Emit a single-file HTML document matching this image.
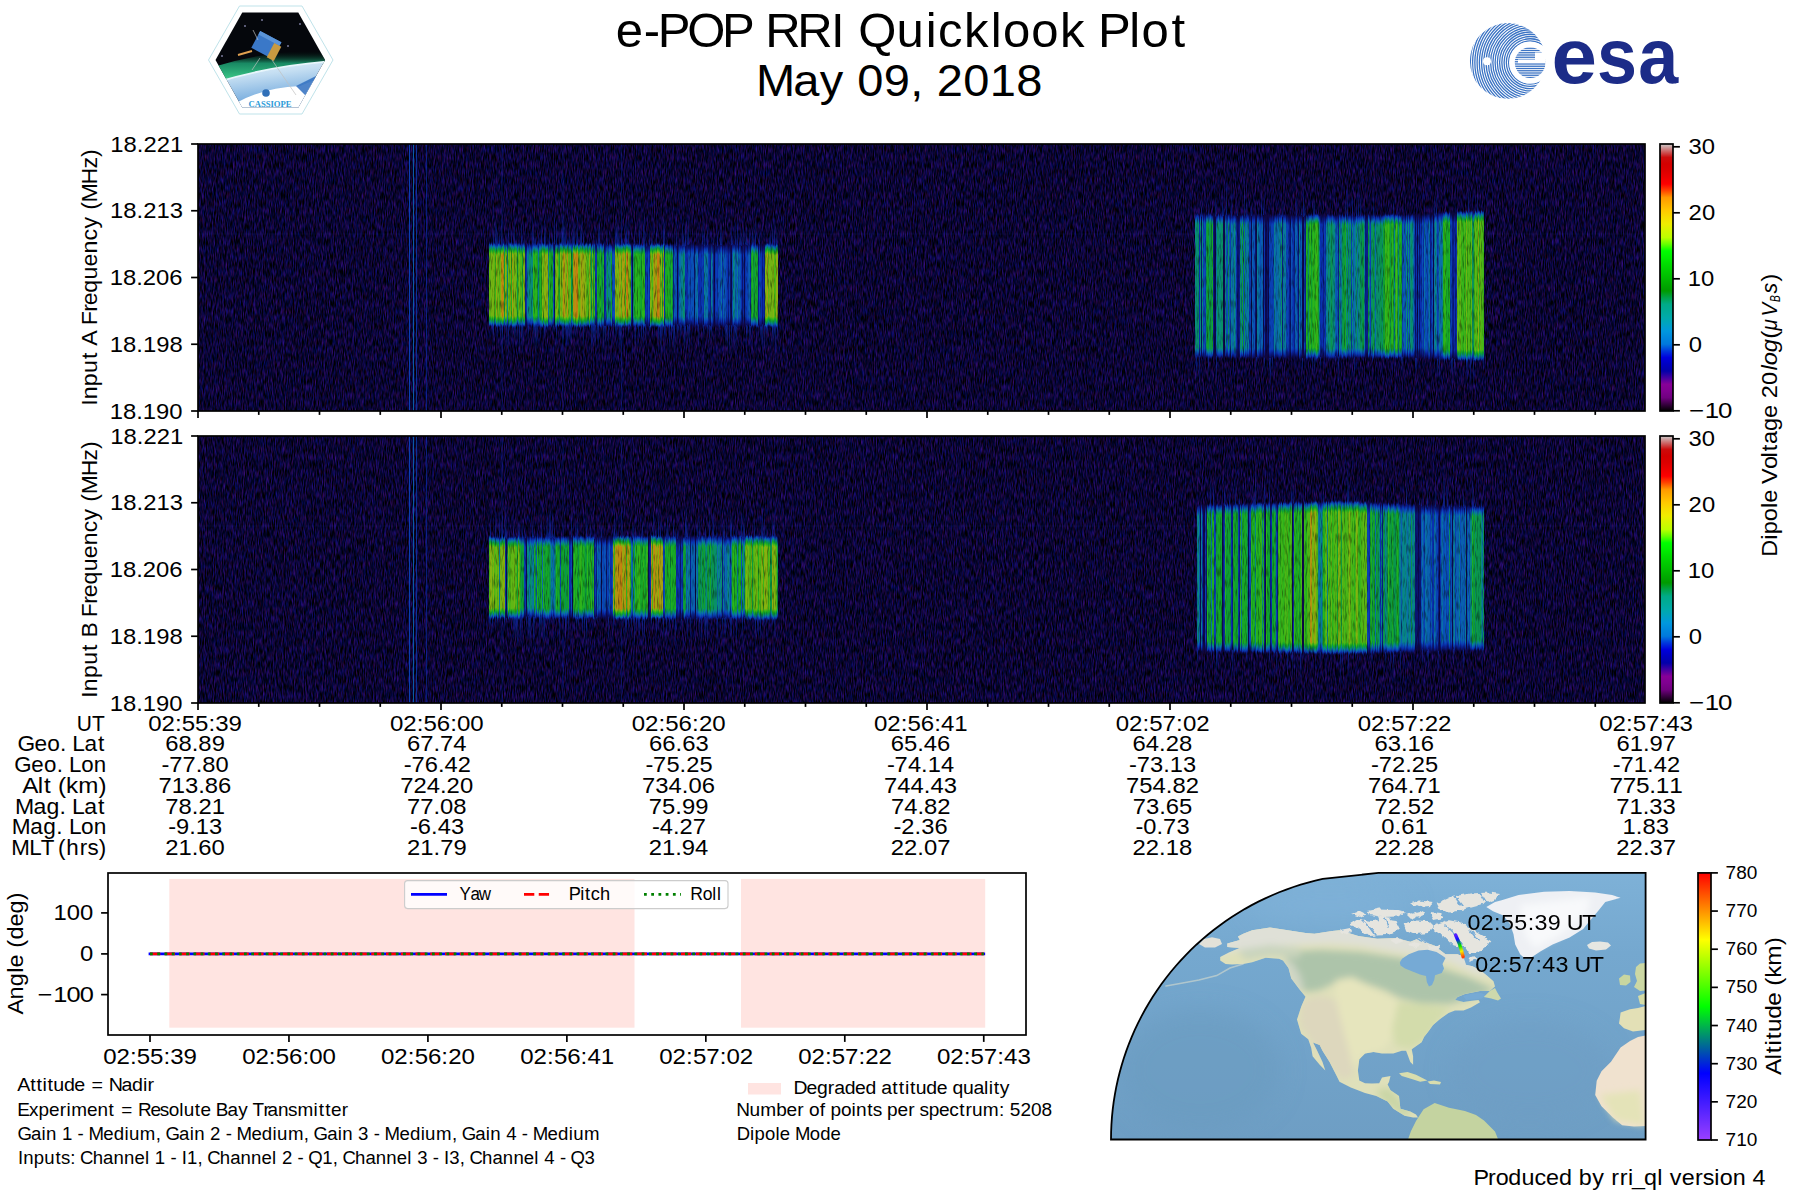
<!DOCTYPE html><html><head><meta charset="utf-8"><title>e-POP RRI Quicklook Plot</title><style>html,body{margin:0;padding:0;background:#fff;overflow:hidden;}svg{display:block;font-family:"Liberation Sans",sans-serif;}</style></head><body><svg width="1800" height="1200" viewBox="0 0 1800 1200"><defs><clipPath id="hexin"><path d="M215.5 60.0 L242.3 12.5 L298.3 12.5 L325.1 60.0 L298.3 107.5 L242.3 107.5 Z"/></clipPath>
<linearGradient id="aur" x1="0" y1="0" x2="0" y2="1"><stop offset="0" stop-color="#000" stop-opacity="0"/><stop offset="0.35" stop-color="#1a9068"/><stop offset="0.7" stop-color="#38c888"/><stop offset="1" stop-color="#b8e4ea"/></linearGradient>
<linearGradient id="earth" x1="0" y1="0" x2="0.3" y2="1"><stop offset="0" stop-color="#f0f8fd"/><stop offset="0.35" stop-color="#c4def2"/><stop offset="0.7" stop-color="#86b6e2"/><stop offset="1" stop-color="#4e86cc"/></linearGradient>
<clipPath id="esag"><circle cx="1507.8" cy="60.9" r="37.9"/></clipPath>
<clipPath id="esae"><circle cx="1530.2" cy="62.6" r="15.4"/></clipPath>
<filter id="bgn" x="0" y="0" width="100%" height="100%" color-interpolation-filters="sRGB"><feTurbulence type="fractalNoise" baseFrequency="1.1 0.13" numOctaves="2" seed="7" result="t"/><feColorMatrix in="t" type="matrix" values="0.3 0 0.28 0 -0.25  0 0 0.1 0 -0.03  0 0 0.8 0 -0.2  0 0 0 0 1"/></filter>
<filter id="spk" x="0" y="0" width="100%" height="100%" color-interpolation-filters="sRGB"><feTurbulence type="fractalNoise" baseFrequency="0.7 0.09" numOctaves="2" seed="3" result="t"/><feColorMatrix in="t" type="matrix" values="0 0 0 0 0  0 0 0 0 0  0 0 0 0 0  2.2 0 0 0 -1.05"/></filter>
<linearGradient id="tu" x1="0" y1="1" x2="0" y2="0"><stop offset="0" stop-color="#0a30b0" stop-opacity="0.6"/><stop offset="1" stop-color="#0a30b0" stop-opacity="0"/></linearGradient>
<linearGradient id="td" x1="0" y1="0" x2="0" y2="1"><stop offset="0" stop-color="#0a30b0" stop-opacity="0.6"/><stop offset="1" stop-color="#0a30b0" stop-opacity="0"/></linearGradient>
<linearGradient id="gA11" x1="0" y1="0" x2="0" y2="1"><stop offset="0.0000" stop-color="#12063e" stop-opacity="0.00"/><stop offset="0.0174" stop-color="#110640" stop-opacity="0.50"/><stop offset="0.0349" stop-color="#110742"/><stop offset="0.0523" stop-color="#100744"/><stop offset="0.0698" stop-color="#100846"/><stop offset="0.0872" stop-color="#0f0847"/><stop offset="0.1047" stop-color="#0e0849"/><stop offset="0.1221" stop-color="#0e094b"/><stop offset="0.1395" stop-color="#0d094d"/><stop offset="0.8605" stop-color="#0d094d"/><stop offset="0.8779" stop-color="#0e094b"/><stop offset="0.8953" stop-color="#0e0849"/><stop offset="0.9128" stop-color="#0f0847"/><stop offset="0.9302" stop-color="#100846"/><stop offset="0.9477" stop-color="#100744"/><stop offset="0.9651" stop-color="#110742"/><stop offset="0.9826" stop-color="#110640" stop-opacity="0.50"/><stop offset="1.0000" stop-color="#12063e" stop-opacity="0.00"/></linearGradient>
<linearGradient id="gA12" x1="0" y1="0" x2="0" y2="1"><stop offset="0.0000" stop-color="#12063e" stop-opacity="0.00"/><stop offset="0.0174" stop-color="#110742" stop-opacity="0.50"/><stop offset="0.0349" stop-color="#100846"/><stop offset="0.0523" stop-color="#0e0849"/><stop offset="0.0698" stop-color="#0d094d"/><stop offset="0.0872" stop-color="#0c0b52"/><stop offset="0.1047" stop-color="#0b0e5c"/><stop offset="0.1221" stop-color="#0b1166"/><stop offset="0.1395" stop-color="#0a1470"/><stop offset="0.8605" stop-color="#0a1470"/><stop offset="0.8779" stop-color="#0b1166"/><stop offset="0.8953" stop-color="#0b0e5c"/><stop offset="0.9128" stop-color="#0c0b52"/><stop offset="0.9302" stop-color="#0d094d"/><stop offset="0.9477" stop-color="#0e0849"/><stop offset="0.9651" stop-color="#100846"/><stop offset="0.9826" stop-color="#110742" stop-opacity="0.50"/><stop offset="1.0000" stop-color="#12063e" stop-opacity="0.00"/></linearGradient>
<linearGradient id="gA13" x1="0" y1="0" x2="0" y2="1"><stop offset="0.0000" stop-color="#12063e" stop-opacity="0.00"/><stop offset="0.0174" stop-color="#100744" stop-opacity="0.50"/><stop offset="0.0349" stop-color="#0e0849"/><stop offset="0.0523" stop-color="#0c0a4f"/><stop offset="0.0698" stop-color="#0b0e5c"/><stop offset="0.0872" stop-color="#0a126b"/><stop offset="0.1047" stop-color="#0a1677"/><stop offset="0.1221" stop-color="#0a1a81"/><stop offset="0.1395" stop-color="#0a1e8b"/><stop offset="0.8605" stop-color="#0a1e8b"/><stop offset="0.8779" stop-color="#0a1a81"/><stop offset="0.8953" stop-color="#0a1677"/><stop offset="0.9128" stop-color="#0a126b"/><stop offset="0.9302" stop-color="#0b0e5c"/><stop offset="0.9477" stop-color="#0c0a4f"/><stop offset="0.9651" stop-color="#0e0849"/><stop offset="0.9826" stop-color="#100744" stop-opacity="0.50"/><stop offset="1.0000" stop-color="#12063e" stop-opacity="0.00"/></linearGradient>
<linearGradient id="gA14" x1="0" y1="0" x2="0" y2="1"><stop offset="0.0000" stop-color="#12063e" stop-opacity="0.00"/><stop offset="0.0174" stop-color="#100846" stop-opacity="0.50"/><stop offset="0.0349" stop-color="#0d094d"/><stop offset="0.0523" stop-color="#0b0e5c"/><stop offset="0.0698" stop-color="#0a1470"/><stop offset="0.0872" stop-color="#0a197d"/><stop offset="0.1047" stop-color="#0a1e8b"/><stop offset="0.1221" stop-color="#0a269c"/><stop offset="0.1395" stop-color="#0a30b0"/><stop offset="0.8605" stop-color="#0a30b0"/><stop offset="0.8779" stop-color="#0a269c"/><stop offset="0.8953" stop-color="#0a1e8b"/><stop offset="0.9128" stop-color="#0a197d"/><stop offset="0.9302" stop-color="#0a1470"/><stop offset="0.9477" stop-color="#0b0e5c"/><stop offset="0.9651" stop-color="#0d094d"/><stop offset="0.9826" stop-color="#100846" stop-opacity="0.50"/><stop offset="1.0000" stop-color="#12063e" stop-opacity="0.00"/></linearGradient>
<linearGradient id="gA15" x1="0" y1="0" x2="0" y2="1"><stop offset="0.0000" stop-color="#12063e" stop-opacity="0.00"/><stop offset="0.0174" stop-color="#0f0847" stop-opacity="0.50"/><stop offset="0.0349" stop-color="#0c0b52"/><stop offset="0.0523" stop-color="#0a126b"/><stop offset="0.0698" stop-color="#0a197d"/><stop offset="0.0872" stop-color="#0a1f8e"/><stop offset="0.1047" stop-color="#0a2ba6"/><stop offset="0.1221" stop-color="#0a36b2"/><stop offset="0.1395" stop-color="#0a40b4"/><stop offset="0.8605" stop-color="#0a40b4"/><stop offset="0.8779" stop-color="#0a36b2"/><stop offset="0.8953" stop-color="#0a2ba6"/><stop offset="0.9128" stop-color="#0a1f8e"/><stop offset="0.9302" stop-color="#0a197d"/><stop offset="0.9477" stop-color="#0a126b"/><stop offset="0.9651" stop-color="#0c0b52"/><stop offset="0.9826" stop-color="#0f0847" stop-opacity="0.50"/><stop offset="1.0000" stop-color="#12063e" stop-opacity="0.00"/></linearGradient>
<linearGradient id="gA16" x1="0" y1="0" x2="0" y2="1"><stop offset="0.0000" stop-color="#12063e" stop-opacity="0.00"/><stop offset="0.0174" stop-color="#0e0849" stop-opacity="0.50"/><stop offset="0.0349" stop-color="#0b0e5c"/><stop offset="0.0523" stop-color="#0a1677"/><stop offset="0.0698" stop-color="#0a1e8b"/><stop offset="0.0872" stop-color="#0a2ba6"/><stop offset="0.1047" stop-color="#0a38b2"/><stop offset="0.1221" stop-color="#0a44b5"/><stop offset="0.1395" stop-color="#0a50b8"/><stop offset="0.8605" stop-color="#0a50b8"/><stop offset="0.8779" stop-color="#0a44b5"/><stop offset="0.8953" stop-color="#0a38b2"/><stop offset="0.9128" stop-color="#0a2ba6"/><stop offset="0.9302" stop-color="#0a1e8b"/><stop offset="0.9477" stop-color="#0a1677"/><stop offset="0.9651" stop-color="#0b0e5c"/><stop offset="0.9826" stop-color="#0e0849" stop-opacity="0.50"/><stop offset="1.0000" stop-color="#12063e" stop-opacity="0.00"/></linearGradient>
<linearGradient id="gA17" x1="0" y1="0" x2="0" y2="1"><stop offset="0.0000" stop-color="#12063e" stop-opacity="0.00"/><stop offset="0.0174" stop-color="#0e094b" stop-opacity="0.50"/><stop offset="0.0349" stop-color="#0b1166"/><stop offset="0.0523" stop-color="#0a1a81"/><stop offset="0.0698" stop-color="#0a269c"/><stop offset="0.0872" stop-color="#0a36b2"/><stop offset="0.1047" stop-color="#0a44b5"/><stop offset="0.1221" stop-color="#0a52b7"/><stop offset="0.1395" stop-color="#0a60b0"/><stop offset="0.8605" stop-color="#0a60b0"/><stop offset="0.8779" stop-color="#0a52b7"/><stop offset="0.8953" stop-color="#0a44b5"/><stop offset="0.9128" stop-color="#0a36b2"/><stop offset="0.9302" stop-color="#0a269c"/><stop offset="0.9477" stop-color="#0a1a81"/><stop offset="0.9651" stop-color="#0b1166"/><stop offset="0.9826" stop-color="#0e094b" stop-opacity="0.50"/><stop offset="1.0000" stop-color="#12063e" stop-opacity="0.00"/></linearGradient>
<linearGradient id="gA18" x1="0" y1="0" x2="0" y2="1"><stop offset="0.0000" stop-color="#12063e" stop-opacity="0.00"/><stop offset="0.0174" stop-color="#0d094d" stop-opacity="0.50"/><stop offset="0.0349" stop-color="#0a1470"/><stop offset="0.0523" stop-color="#0a1e8b"/><stop offset="0.0698" stop-color="#0a30b0"/><stop offset="0.0872" stop-color="#0a40b4"/><stop offset="0.1047" stop-color="#0a50b8"/><stop offset="0.1221" stop-color="#0a60b0"/><stop offset="0.1395" stop-color="#0a70a8"/><stop offset="0.8605" stop-color="#0a70a8"/><stop offset="0.8779" stop-color="#0a60b0"/><stop offset="0.8953" stop-color="#0a50b8"/><stop offset="0.9128" stop-color="#0a40b4"/><stop offset="0.9302" stop-color="#0a30b0"/><stop offset="0.9477" stop-color="#0a1e8b"/><stop offset="0.9651" stop-color="#0a1470"/><stop offset="0.9826" stop-color="#0d094d" stop-opacity="0.50"/><stop offset="1.0000" stop-color="#12063e" stop-opacity="0.00"/></linearGradient>
<linearGradient id="gA19" x1="0" y1="0" x2="0" y2="1"><stop offset="0.0000" stop-color="#12063e" stop-opacity="0.00"/><stop offset="0.0174" stop-color="#0c0a4f" stop-opacity="0.50"/><stop offset="0.0349" stop-color="#0a1677"/><stop offset="0.0523" stop-color="#0a2497"/><stop offset="0.0698" stop-color="#0a38b2"/><stop offset="0.0872" stop-color="#0a4ab6"/><stop offset="0.1047" stop-color="#0a5cb2"/><stop offset="0.1221" stop-color="#0a6ea9"/><stop offset="0.1395" stop-color="#097d94"/><stop offset="0.8605" stop-color="#097d94"/><stop offset="0.8779" stop-color="#0a6ea9"/><stop offset="0.8953" stop-color="#0a5cb2"/><stop offset="0.9128" stop-color="#0a4ab6"/><stop offset="0.9302" stop-color="#0a38b2"/><stop offset="0.9477" stop-color="#0a2497"/><stop offset="0.9651" stop-color="#0a1677"/><stop offset="0.9826" stop-color="#0c0a4f" stop-opacity="0.50"/><stop offset="1.0000" stop-color="#12063e" stop-opacity="0.00"/></linearGradient>
<linearGradient id="gA110" x1="0" y1="0" x2="0" y2="1"><stop offset="0.0000" stop-color="#12063e" stop-opacity="0.00"/><stop offset="0.0174" stop-color="#0c0b52" stop-opacity="0.50"/><stop offset="0.0349" stop-color="#0a197d"/><stop offset="0.0523" stop-color="#0a2ba6"/><stop offset="0.0698" stop-color="#0a40b4"/><stop offset="0.0872" stop-color="#0a54b6"/><stop offset="0.1047" stop-color="#0a68ac"/><stop offset="0.1221" stop-color="#097a99"/><stop offset="0.1395" stop-color="#088a80"/><stop offset="0.8605" stop-color="#088a80"/><stop offset="0.8779" stop-color="#097a99"/><stop offset="0.8953" stop-color="#0a68ac"/><stop offset="0.9128" stop-color="#0a54b6"/><stop offset="0.9302" stop-color="#0a40b4"/><stop offset="0.9477" stop-color="#0a2ba6"/><stop offset="0.9651" stop-color="#0a197d"/><stop offset="0.9826" stop-color="#0c0b52" stop-opacity="0.50"/><stop offset="1.0000" stop-color="#12063e" stop-opacity="0.00"/></linearGradient>
<linearGradient id="gA111" x1="0" y1="0" x2="0" y2="1"><stop offset="0.0000" stop-color="#12063e" stop-opacity="0.00"/><stop offset="0.0174" stop-color="#0c0c57" stop-opacity="0.50"/><stop offset="0.0349" stop-color="#0a1c84"/><stop offset="0.0523" stop-color="#0a32b0"/><stop offset="0.0698" stop-color="#0a48b6"/><stop offset="0.0872" stop-color="#0a5eb1"/><stop offset="0.1047" stop-color="#0a73a3"/><stop offset="0.1221" stop-color="#088588"/><stop offset="0.1395" stop-color="#098f68"/><stop offset="0.8605" stop-color="#098f68"/><stop offset="0.8779" stop-color="#088588"/><stop offset="0.8953" stop-color="#0a73a3"/><stop offset="0.9128" stop-color="#0a5eb1"/><stop offset="0.9302" stop-color="#0a48b6"/><stop offset="0.9477" stop-color="#0a32b0"/><stop offset="0.9651" stop-color="#0a1c84"/><stop offset="0.9826" stop-color="#0c0c57" stop-opacity="0.50"/><stop offset="1.0000" stop-color="#12063e" stop-opacity="0.00"/></linearGradient>
<linearGradient id="gA112" x1="0" y1="0" x2="0" y2="1"><stop offset="0.0000" stop-color="#12063e" stop-opacity="0.00"/><stop offset="0.0174" stop-color="#0b0e5c" stop-opacity="0.50"/><stop offset="0.0349" stop-color="#0a1e8b"/><stop offset="0.0523" stop-color="#0a38b2"/><stop offset="0.0698" stop-color="#0a50b8"/><stop offset="0.0872" stop-color="#0a68ac"/><stop offset="0.1047" stop-color="#097d94"/><stop offset="0.1221" stop-color="#088c74"/><stop offset="0.1395" stop-color="#0a9450"/><stop offset="0.8605" stop-color="#0a9450"/><stop offset="0.8779" stop-color="#088c74"/><stop offset="0.8953" stop-color="#097d94"/><stop offset="0.9128" stop-color="#0a68ac"/><stop offset="0.9302" stop-color="#0a50b8"/><stop offset="0.9477" stop-color="#0a38b2"/><stop offset="0.9651" stop-color="#0a1e8b"/><stop offset="0.9826" stop-color="#0b0e5c" stop-opacity="0.50"/><stop offset="1.0000" stop-color="#12063e" stop-opacity="0.00"/></linearGradient>
<linearGradient id="gA113" x1="0" y1="0" x2="0" y2="1"><stop offset="0.0000" stop-color="#12063e" stop-opacity="0.00"/><stop offset="0.0174" stop-color="#0b0f61" stop-opacity="0.50"/><stop offset="0.0349" stop-color="#0a2192"/><stop offset="0.0523" stop-color="#0a3eb4"/><stop offset="0.0698" stop-color="#0a58b4"/><stop offset="0.0872" stop-color="#0a72a6"/><stop offset="0.1047" stop-color="#088785"/><stop offset="0.1221" stop-color="#09915f"/><stop offset="0.1395" stop-color="#0d9a40"/><stop offset="0.8605" stop-color="#0d9a40"/><stop offset="0.8779" stop-color="#09915f"/><stop offset="0.8953" stop-color="#088785"/><stop offset="0.9128" stop-color="#0a72a6"/><stop offset="0.9302" stop-color="#0a58b4"/><stop offset="0.9477" stop-color="#0a3eb4"/><stop offset="0.9651" stop-color="#0a2192"/><stop offset="0.9826" stop-color="#0b0f61" stop-opacity="0.50"/><stop offset="1.0000" stop-color="#12063e" stop-opacity="0.00"/></linearGradient>
<linearGradient id="gA114" x1="0" y1="0" x2="0" y2="1"><stop offset="0.0000" stop-color="#12063e" stop-opacity="0.00"/><stop offset="0.0174" stop-color="#0b1166" stop-opacity="0.50"/><stop offset="0.0349" stop-color="#0a269c"/><stop offset="0.0523" stop-color="#0a44b5"/><stop offset="0.0698" stop-color="#0a60b0"/><stop offset="0.0872" stop-color="#097a99"/><stop offset="0.1047" stop-color="#088c74"/><stop offset="0.1221" stop-color="#0b964c"/><stop offset="0.1395" stop-color="#10a030"/><stop offset="0.8605" stop-color="#10a030"/><stop offset="0.8779" stop-color="#0b964c"/><stop offset="0.8953" stop-color="#088c74"/><stop offset="0.9128" stop-color="#097a99"/><stop offset="0.9302" stop-color="#0a60b0"/><stop offset="0.9477" stop-color="#0a44b5"/><stop offset="0.9651" stop-color="#0a269c"/><stop offset="0.9826" stop-color="#0b1166" stop-opacity="0.50"/><stop offset="1.0000" stop-color="#12063e" stop-opacity="0.00"/></linearGradient>
<linearGradient id="gA115" x1="0" y1="0" x2="0" y2="1"><stop offset="0.0000" stop-color="#12063e" stop-opacity="0.00"/><stop offset="0.0174" stop-color="#0a126b" stop-opacity="0.50"/><stop offset="0.0349" stop-color="#0a2ba6"/><stop offset="0.0523" stop-color="#0a4ab6"/><stop offset="0.0698" stop-color="#0a68ac"/><stop offset="0.0872" stop-color="#09828c"/><stop offset="0.1047" stop-color="#099062"/><stop offset="0.1221" stop-color="#0d9b3e"/><stop offset="0.1395" stop-color="#18a828"/><stop offset="0.8605" stop-color="#18a828"/><stop offset="0.8779" stop-color="#0d9b3e"/><stop offset="0.8953" stop-color="#099062"/><stop offset="0.9128" stop-color="#09828c"/><stop offset="0.9302" stop-color="#0a68ac"/><stop offset="0.9477" stop-color="#0a4ab6"/><stop offset="0.9651" stop-color="#0a2ba6"/><stop offset="0.9826" stop-color="#0a126b" stop-opacity="0.50"/><stop offset="1.0000" stop-color="#12063e" stop-opacity="0.00"/></linearGradient>
<linearGradient id="gA116" x1="0" y1="0" x2="0" y2="1"><stop offset="0.0000" stop-color="#12063e" stop-opacity="0.00"/><stop offset="0.0174" stop-color="#0a1470" stop-opacity="0.50"/><stop offset="0.0349" stop-color="#0a30b0"/><stop offset="0.0523" stop-color="#0a50b8"/><stop offset="0.0698" stop-color="#0a70a8"/><stop offset="0.0872" stop-color="#088a80"/><stop offset="0.1047" stop-color="#0a9450"/><stop offset="0.1221" stop-color="#10a030"/><stop offset="0.1395" stop-color="#20b020"/><stop offset="0.8605" stop-color="#20b020"/><stop offset="0.8779" stop-color="#10a030"/><stop offset="0.8953" stop-color="#0a9450"/><stop offset="0.9128" stop-color="#088a80"/><stop offset="0.9302" stop-color="#0a70a8"/><stop offset="0.9477" stop-color="#0a50b8"/><stop offset="0.9651" stop-color="#0a30b0"/><stop offset="0.9826" stop-color="#0a1470" stop-opacity="0.50"/><stop offset="1.0000" stop-color="#12063e" stop-opacity="0.00"/></linearGradient>
<linearGradient id="gA117" x1="0" y1="0" x2="0" y2="1"><stop offset="0.0000" stop-color="#12063e" stop-opacity="0.00"/><stop offset="0.0174" stop-color="#0a1573" stop-opacity="0.50"/><stop offset="0.0349" stop-color="#0a34b1"/><stop offset="0.0523" stop-color="#0a56b5"/><stop offset="0.0698" stop-color="#0a769e"/><stop offset="0.0872" stop-color="#098d71"/><stop offset="0.1047" stop-color="#0c9844"/><stop offset="0.1221" stop-color="#17a729"/><stop offset="0.1395" stop-color="#2eb31c"/><stop offset="0.8605" stop-color="#2eb31c"/><stop offset="0.8779" stop-color="#17a729"/><stop offset="0.8953" stop-color="#0c9844"/><stop offset="0.9128" stop-color="#098d71"/><stop offset="0.9302" stop-color="#0a769e"/><stop offset="0.9477" stop-color="#0a56b5"/><stop offset="0.9651" stop-color="#0a34b1"/><stop offset="0.9826" stop-color="#0a1573" stop-opacity="0.50"/><stop offset="1.0000" stop-color="#12063e" stop-opacity="0.00"/></linearGradient>
<linearGradient id="gA118" x1="0" y1="0" x2="0" y2="1"><stop offset="0.0000" stop-color="#12063e" stop-opacity="0.00"/><stop offset="0.0174" stop-color="#0a1677" stop-opacity="0.50"/><stop offset="0.0349" stop-color="#0a38b2"/><stop offset="0.0523" stop-color="#0a5cb2"/><stop offset="0.0698" stop-color="#097d94"/><stop offset="0.0872" stop-color="#099062"/><stop offset="0.1047" stop-color="#0e9d38"/><stop offset="0.1221" stop-color="#1eae22"/><stop offset="0.1395" stop-color="#3cb618"/><stop offset="0.8605" stop-color="#3cb618"/><stop offset="0.8779" stop-color="#1eae22"/><stop offset="0.8953" stop-color="#0e9d38"/><stop offset="0.9128" stop-color="#099062"/><stop offset="0.9302" stop-color="#097d94"/><stop offset="0.9477" stop-color="#0a5cb2"/><stop offset="0.9651" stop-color="#0a38b2"/><stop offset="0.9826" stop-color="#0a1677" stop-opacity="0.50"/><stop offset="1.0000" stop-color="#12063e" stop-opacity="0.00"/></linearGradient>
<linearGradient id="gA119" x1="0" y1="0" x2="0" y2="1"><stop offset="0.0000" stop-color="#12063e" stop-opacity="0.00"/><stop offset="0.0174" stop-color="#0a187a" stop-opacity="0.50"/><stop offset="0.0349" stop-color="#0a3cb3"/><stop offset="0.0523" stop-color="#0a62af"/><stop offset="0.0698" stop-color="#08848a"/><stop offset="0.0872" stop-color="#0a9353"/><stop offset="0.1047" stop-color="#12a22e"/><stop offset="0.1221" stop-color="#29b21e"/><stop offset="0.1395" stop-color="#4eb616"/><stop offset="0.8605" stop-color="#4eb616"/><stop offset="0.8779" stop-color="#29b21e"/><stop offset="0.8953" stop-color="#12a22e"/><stop offset="0.9128" stop-color="#0a9353"/><stop offset="0.9302" stop-color="#08848a"/><stop offset="0.9477" stop-color="#0a62af"/><stop offset="0.9651" stop-color="#0a3cb3"/><stop offset="0.9826" stop-color="#0a187a" stop-opacity="0.50"/><stop offset="1.0000" stop-color="#12063e" stop-opacity="0.00"/></linearGradient>
<linearGradient id="gA120" x1="0" y1="0" x2="0" y2="1"><stop offset="0.0000" stop-color="#12063e" stop-opacity="0.00"/><stop offset="0.0174" stop-color="#0a197d" stop-opacity="0.50"/><stop offset="0.0349" stop-color="#0a40b4"/><stop offset="0.0523" stop-color="#0a68ac"/><stop offset="0.0698" stop-color="#088a80"/><stop offset="0.0872" stop-color="#0c9748"/><stop offset="0.1047" stop-color="#18a828"/><stop offset="0.1221" stop-color="#35b41a"/><stop offset="0.1395" stop-color="#60b614"/><stop offset="0.8605" stop-color="#60b614"/><stop offset="0.8779" stop-color="#35b41a"/><stop offset="0.8953" stop-color="#18a828"/><stop offset="0.9128" stop-color="#0c9748"/><stop offset="0.9302" stop-color="#088a80"/><stop offset="0.9477" stop-color="#0a68ac"/><stop offset="0.9651" stop-color="#0a40b4"/><stop offset="0.9826" stop-color="#0a197d" stop-opacity="0.50"/><stop offset="1.0000" stop-color="#12063e" stop-opacity="0.00"/></linearGradient>
<linearGradient id="gA121" x1="0" y1="0" x2="0" y2="1"><stop offset="0.0000" stop-color="#12063e" stop-opacity="0.00"/><stop offset="0.0174" stop-color="#0a1a81" stop-opacity="0.50"/><stop offset="0.0349" stop-color="#0a44b5"/><stop offset="0.0523" stop-color="#0a6ea9"/><stop offset="0.0698" stop-color="#088c74"/><stop offset="0.0872" stop-color="#0d9b3e"/><stop offset="0.1047" stop-color="#1eae22"/><stop offset="0.1221" stop-color="#43b617"/><stop offset="0.1395" stop-color="#73b412"/><stop offset="0.8605" stop-color="#73b412"/><stop offset="0.8779" stop-color="#43b617"/><stop offset="0.8953" stop-color="#1eae22"/><stop offset="0.9128" stop-color="#0d9b3e"/><stop offset="0.9302" stop-color="#088c74"/><stop offset="0.9477" stop-color="#0a6ea9"/><stop offset="0.9651" stop-color="#0a44b5"/><stop offset="0.9826" stop-color="#0a1a81" stop-opacity="0.50"/><stop offset="1.0000" stop-color="#12063e" stop-opacity="0.00"/></linearGradient>
<linearGradient id="gA122" x1="0" y1="0" x2="0" y2="1"><stop offset="0.0000" stop-color="#12063e" stop-opacity="0.00"/><stop offset="0.0174" stop-color="#0a1c84" stop-opacity="0.50"/><stop offset="0.0349" stop-color="#0a48b6"/><stop offset="0.0523" stop-color="#0a73a3"/><stop offset="0.0698" stop-color="#098f68"/><stop offset="0.0872" stop-color="#0f9e34"/><stop offset="0.1047" stop-color="#27b21e"/><stop offset="0.1221" stop-color="#52b616"/><stop offset="0.1395" stop-color="#86b210"/><stop offset="0.8605" stop-color="#86b210"/><stop offset="0.8779" stop-color="#52b616"/><stop offset="0.8953" stop-color="#27b21e"/><stop offset="0.9128" stop-color="#0f9e34"/><stop offset="0.9302" stop-color="#098f68"/><stop offset="0.9477" stop-color="#0a73a3"/><stop offset="0.9651" stop-color="#0a48b6"/><stop offset="0.9826" stop-color="#0a1c84" stop-opacity="0.50"/><stop offset="1.0000" stop-color="#12063e" stop-opacity="0.00"/></linearGradient>
<linearGradient id="gA123" x1="0" y1="0" x2="0" y2="1"><stop offset="0.0000" stop-color="#12063e" stop-opacity="0.00"/><stop offset="0.0174" stop-color="#0a1d87" stop-opacity="0.50"/><stop offset="0.0349" stop-color="#0a4cb7"/><stop offset="0.0523" stop-color="#09789c"/><stop offset="0.0698" stop-color="#0a925c"/><stop offset="0.0872" stop-color="#13a32d"/><stop offset="0.1047" stop-color="#32b41b"/><stop offset="0.1221" stop-color="#62b614"/><stop offset="0.1395" stop-color="#96a910"/><stop offset="0.8605" stop-color="#96a910"/><stop offset="0.8779" stop-color="#62b614"/><stop offset="0.8953" stop-color="#32b41b"/><stop offset="0.9128" stop-color="#13a32d"/><stop offset="0.9302" stop-color="#0a925c"/><stop offset="0.9477" stop-color="#09789c"/><stop offset="0.9651" stop-color="#0a4cb7"/><stop offset="0.9826" stop-color="#0a1d87" stop-opacity="0.50"/><stop offset="1.0000" stop-color="#12063e" stop-opacity="0.00"/></linearGradient>
<linearGradient id="gA124" x1="0" y1="0" x2="0" y2="1"><stop offset="0.0000" stop-color="#12063e" stop-opacity="0.00"/><stop offset="0.0174" stop-color="#0a1e8b" stop-opacity="0.50"/><stop offset="0.0349" stop-color="#0a50b8"/><stop offset="0.0523" stop-color="#097d94"/><stop offset="0.0698" stop-color="#0a9450"/><stop offset="0.0872" stop-color="#18a828"/><stop offset="0.1047" stop-color="#3cb618"/><stop offset="0.1221" stop-color="#73b412"/><stop offset="0.1395" stop-color="#a6a010"/><stop offset="0.8605" stop-color="#a6a010"/><stop offset="0.8779" stop-color="#73b412"/><stop offset="0.8953" stop-color="#3cb618"/><stop offset="0.9128" stop-color="#18a828"/><stop offset="0.9302" stop-color="#0a9450"/><stop offset="0.9477" stop-color="#097d94"/><stop offset="0.9651" stop-color="#0a50b8"/><stop offset="0.9826" stop-color="#0a1e8b" stop-opacity="0.50"/><stop offset="1.0000" stop-color="#12063e" stop-opacity="0.00"/></linearGradient>
<linearGradient id="gA125" x1="0" y1="0" x2="0" y2="1"><stop offset="0.0000" stop-color="#12063e" stop-opacity="0.00"/><stop offset="0.0174" stop-color="#0a1f8e" stop-opacity="0.50"/><stop offset="0.0349" stop-color="#0a54b6"/><stop offset="0.0523" stop-color="#09828c"/><stop offset="0.0698" stop-color="#0c9748"/><stop offset="0.0872" stop-color="#1dad23"/><stop offset="0.1047" stop-color="#4ab616"/><stop offset="0.1221" stop-color="#84b210"/><stop offset="0.1395" stop-color="#b29410"/><stop offset="0.8605" stop-color="#b29410"/><stop offset="0.8779" stop-color="#84b210"/><stop offset="0.8953" stop-color="#4ab616"/><stop offset="0.9128" stop-color="#1dad23"/><stop offset="0.9302" stop-color="#0c9748"/><stop offset="0.9477" stop-color="#09828c"/><stop offset="0.9651" stop-color="#0a54b6"/><stop offset="0.9826" stop-color="#0a1f8e" stop-opacity="0.50"/><stop offset="1.0000" stop-color="#12063e" stop-opacity="0.00"/></linearGradient>
<linearGradient id="gA126" x1="0" y1="0" x2="0" y2="1"><stop offset="0.0000" stop-color="#12063e" stop-opacity="0.00"/><stop offset="0.0174" stop-color="#0a2192" stop-opacity="0.50"/><stop offset="0.0349" stop-color="#0a58b4"/><stop offset="0.0523" stop-color="#088785"/><stop offset="0.0698" stop-color="#0d9a40"/><stop offset="0.0872" stop-color="#24b11f"/><stop offset="0.1047" stop-color="#57b615"/><stop offset="0.1221" stop-color="#92ab10"/><stop offset="0.1395" stop-color="#be8810"/><stop offset="0.8605" stop-color="#be8810"/><stop offset="0.8779" stop-color="#92ab10"/><stop offset="0.8953" stop-color="#57b615"/><stop offset="0.9128" stop-color="#24b11f"/><stop offset="0.9302" stop-color="#0d9a40"/><stop offset="0.9477" stop-color="#088785"/><stop offset="0.9651" stop-color="#0a58b4"/><stop offset="0.9826" stop-color="#0a2192" stop-opacity="0.50"/><stop offset="1.0000" stop-color="#12063e" stop-opacity="0.00"/></linearGradient>
<linearGradient id="gA127" x1="0" y1="0" x2="0" y2="1"><stop offset="0.0000" stop-color="#12063e" stop-opacity="0.00"/><stop offset="0.0174" stop-color="#0a2497" stop-opacity="0.50"/><stop offset="0.0349" stop-color="#0a5cb2"/><stop offset="0.0523" stop-color="#088b7d"/><stop offset="0.0698" stop-color="#0e9d38"/><stop offset="0.0872" stop-color="#2cb31c"/><stop offset="0.1047" stop-color="#65b614"/><stop offset="0.1221" stop-color="#a0a310"/><stop offset="0.1395" stop-color="#c77c10"/><stop offset="0.8605" stop-color="#c77c10"/><stop offset="0.8779" stop-color="#a0a310"/><stop offset="0.8953" stop-color="#65b614"/><stop offset="0.9128" stop-color="#2cb31c"/><stop offset="0.9302" stop-color="#0e9d38"/><stop offset="0.9477" stop-color="#088b7d"/><stop offset="0.9651" stop-color="#0a5cb2"/><stop offset="0.9826" stop-color="#0a2497" stop-opacity="0.50"/><stop offset="1.0000" stop-color="#12063e" stop-opacity="0.00"/></linearGradient>
<linearGradient id="gA21" x1="0" y1="0" x2="0" y2="1"><stop offset="0.0000" stop-color="#12063e" stop-opacity="0.00"/><stop offset="0.0100" stop-color="#110640" stop-opacity="0.50"/><stop offset="0.0200" stop-color="#110742"/><stop offset="0.0300" stop-color="#100744"/><stop offset="0.0400" stop-color="#100846"/><stop offset="0.0500" stop-color="#0f0847"/><stop offset="0.0600" stop-color="#0e0849"/><stop offset="0.0700" stop-color="#0e094b"/><stop offset="0.0800" stop-color="#0d094d"/><stop offset="0.9200" stop-color="#0d094d"/><stop offset="0.9300" stop-color="#0e094b"/><stop offset="0.9400" stop-color="#0e0849"/><stop offset="0.9500" stop-color="#0f0847"/><stop offset="0.9600" stop-color="#100846"/><stop offset="0.9700" stop-color="#100744"/><stop offset="0.9800" stop-color="#110742"/><stop offset="0.9900" stop-color="#110640" stop-opacity="0.50"/><stop offset="1.0000" stop-color="#12063e" stop-opacity="0.00"/></linearGradient>
<linearGradient id="gA22" x1="0" y1="0" x2="0" y2="1"><stop offset="0.0000" stop-color="#12063e" stop-opacity="0.00"/><stop offset="0.0100" stop-color="#110742" stop-opacity="0.50"/><stop offset="0.0200" stop-color="#100846"/><stop offset="0.0300" stop-color="#0e0849"/><stop offset="0.0400" stop-color="#0d094d"/><stop offset="0.0500" stop-color="#0c0b52"/><stop offset="0.0600" stop-color="#0b0e5c"/><stop offset="0.0700" stop-color="#0b1166"/><stop offset="0.0800" stop-color="#0a1470"/><stop offset="0.9200" stop-color="#0a1470"/><stop offset="0.9300" stop-color="#0b1166"/><stop offset="0.9400" stop-color="#0b0e5c"/><stop offset="0.9500" stop-color="#0c0b52"/><stop offset="0.9600" stop-color="#0d094d"/><stop offset="0.9700" stop-color="#0e0849"/><stop offset="0.9800" stop-color="#100846"/><stop offset="0.9900" stop-color="#110742" stop-opacity="0.50"/><stop offset="1.0000" stop-color="#12063e" stop-opacity="0.00"/></linearGradient>
<linearGradient id="gA23" x1="0" y1="0" x2="0" y2="1"><stop offset="0.0000" stop-color="#12063e" stop-opacity="0.00"/><stop offset="0.0100" stop-color="#100744" stop-opacity="0.50"/><stop offset="0.0200" stop-color="#0e0849"/><stop offset="0.0300" stop-color="#0c0a4f"/><stop offset="0.0400" stop-color="#0b0e5c"/><stop offset="0.0500" stop-color="#0a126b"/><stop offset="0.0600" stop-color="#0a1677"/><stop offset="0.0700" stop-color="#0a1a81"/><stop offset="0.0800" stop-color="#0a1e8b"/><stop offset="0.9200" stop-color="#0a1e8b"/><stop offset="0.9300" stop-color="#0a1a81"/><stop offset="0.9400" stop-color="#0a1677"/><stop offset="0.9500" stop-color="#0a126b"/><stop offset="0.9600" stop-color="#0b0e5c"/><stop offset="0.9700" stop-color="#0c0a4f"/><stop offset="0.9800" stop-color="#0e0849"/><stop offset="0.9900" stop-color="#100744" stop-opacity="0.50"/><stop offset="1.0000" stop-color="#12063e" stop-opacity="0.00"/></linearGradient>
<linearGradient id="gA24" x1="0" y1="0" x2="0" y2="1"><stop offset="0.0000" stop-color="#12063e" stop-opacity="0.00"/><stop offset="0.0100" stop-color="#100846" stop-opacity="0.50"/><stop offset="0.0200" stop-color="#0d094d"/><stop offset="0.0300" stop-color="#0b0e5c"/><stop offset="0.0400" stop-color="#0a1470"/><stop offset="0.0500" stop-color="#0a197d"/><stop offset="0.0600" stop-color="#0a1e8b"/><stop offset="0.0700" stop-color="#0a269c"/><stop offset="0.0800" stop-color="#0a30b0"/><stop offset="0.9200" stop-color="#0a30b0"/><stop offset="0.9300" stop-color="#0a269c"/><stop offset="0.9400" stop-color="#0a1e8b"/><stop offset="0.9500" stop-color="#0a197d"/><stop offset="0.9600" stop-color="#0a1470"/><stop offset="0.9700" stop-color="#0b0e5c"/><stop offset="0.9800" stop-color="#0d094d"/><stop offset="0.9900" stop-color="#100846" stop-opacity="0.50"/><stop offset="1.0000" stop-color="#12063e" stop-opacity="0.00"/></linearGradient>
<linearGradient id="gA25" x1="0" y1="0" x2="0" y2="1"><stop offset="0.0000" stop-color="#12063e" stop-opacity="0.00"/><stop offset="0.0100" stop-color="#0f0847" stop-opacity="0.50"/><stop offset="0.0200" stop-color="#0c0b52"/><stop offset="0.0300" stop-color="#0a126b"/><stop offset="0.0400" stop-color="#0a197d"/><stop offset="0.0500" stop-color="#0a1f8e"/><stop offset="0.0600" stop-color="#0a2ba6"/><stop offset="0.0700" stop-color="#0a36b2"/><stop offset="0.0800" stop-color="#0a40b4"/><stop offset="0.9200" stop-color="#0a40b4"/><stop offset="0.9300" stop-color="#0a36b2"/><stop offset="0.9400" stop-color="#0a2ba6"/><stop offset="0.9500" stop-color="#0a1f8e"/><stop offset="0.9600" stop-color="#0a197d"/><stop offset="0.9700" stop-color="#0a126b"/><stop offset="0.9800" stop-color="#0c0b52"/><stop offset="0.9900" stop-color="#0f0847" stop-opacity="0.50"/><stop offset="1.0000" stop-color="#12063e" stop-opacity="0.00"/></linearGradient>
<linearGradient id="gA26" x1="0" y1="0" x2="0" y2="1"><stop offset="0.0000" stop-color="#12063e" stop-opacity="0.00"/><stop offset="0.0100" stop-color="#0e0849" stop-opacity="0.50"/><stop offset="0.0200" stop-color="#0b0e5c"/><stop offset="0.0300" stop-color="#0a1677"/><stop offset="0.0400" stop-color="#0a1e8b"/><stop offset="0.0500" stop-color="#0a2ba6"/><stop offset="0.0600" stop-color="#0a38b2"/><stop offset="0.0700" stop-color="#0a44b5"/><stop offset="0.0800" stop-color="#0a50b8"/><stop offset="0.9200" stop-color="#0a50b8"/><stop offset="0.9300" stop-color="#0a44b5"/><stop offset="0.9400" stop-color="#0a38b2"/><stop offset="0.9500" stop-color="#0a2ba6"/><stop offset="0.9600" stop-color="#0a1e8b"/><stop offset="0.9700" stop-color="#0a1677"/><stop offset="0.9800" stop-color="#0b0e5c"/><stop offset="0.9900" stop-color="#0e0849" stop-opacity="0.50"/><stop offset="1.0000" stop-color="#12063e" stop-opacity="0.00"/></linearGradient>
<linearGradient id="gA27" x1="0" y1="0" x2="0" y2="1"><stop offset="0.0000" stop-color="#12063e" stop-opacity="0.00"/><stop offset="0.0100" stop-color="#0e094b" stop-opacity="0.50"/><stop offset="0.0200" stop-color="#0b1166"/><stop offset="0.0300" stop-color="#0a1a81"/><stop offset="0.0400" stop-color="#0a269c"/><stop offset="0.0500" stop-color="#0a36b2"/><stop offset="0.0600" stop-color="#0a44b5"/><stop offset="0.0700" stop-color="#0a52b7"/><stop offset="0.0800" stop-color="#0a60b0"/><stop offset="0.9200" stop-color="#0a60b0"/><stop offset="0.9300" stop-color="#0a52b7"/><stop offset="0.9400" stop-color="#0a44b5"/><stop offset="0.9500" stop-color="#0a36b2"/><stop offset="0.9600" stop-color="#0a269c"/><stop offset="0.9700" stop-color="#0a1a81"/><stop offset="0.9800" stop-color="#0b1166"/><stop offset="0.9900" stop-color="#0e094b" stop-opacity="0.50"/><stop offset="1.0000" stop-color="#12063e" stop-opacity="0.00"/></linearGradient>
<linearGradient id="gA28" x1="0" y1="0" x2="0" y2="1"><stop offset="0.0000" stop-color="#12063e" stop-opacity="0.00"/><stop offset="0.0100" stop-color="#0d094d" stop-opacity="0.50"/><stop offset="0.0200" stop-color="#0a1470"/><stop offset="0.0300" stop-color="#0a1e8b"/><stop offset="0.0400" stop-color="#0a30b0"/><stop offset="0.0500" stop-color="#0a40b4"/><stop offset="0.0600" stop-color="#0a50b8"/><stop offset="0.0700" stop-color="#0a60b0"/><stop offset="0.0800" stop-color="#0a70a8"/><stop offset="0.9200" stop-color="#0a70a8"/><stop offset="0.9300" stop-color="#0a60b0"/><stop offset="0.9400" stop-color="#0a50b8"/><stop offset="0.9500" stop-color="#0a40b4"/><stop offset="0.9600" stop-color="#0a30b0"/><stop offset="0.9700" stop-color="#0a1e8b"/><stop offset="0.9800" stop-color="#0a1470"/><stop offset="0.9900" stop-color="#0d094d" stop-opacity="0.50"/><stop offset="1.0000" stop-color="#12063e" stop-opacity="0.00"/></linearGradient>
<linearGradient id="gA29" x1="0" y1="0" x2="0" y2="1"><stop offset="0.0000" stop-color="#12063e" stop-opacity="0.00"/><stop offset="0.0100" stop-color="#0c0a4f" stop-opacity="0.50"/><stop offset="0.0200" stop-color="#0a1677"/><stop offset="0.0300" stop-color="#0a2497"/><stop offset="0.0400" stop-color="#0a38b2"/><stop offset="0.0500" stop-color="#0a4ab6"/><stop offset="0.0600" stop-color="#0a5cb2"/><stop offset="0.0700" stop-color="#0a6ea9"/><stop offset="0.0800" stop-color="#097d94"/><stop offset="0.9200" stop-color="#097d94"/><stop offset="0.9300" stop-color="#0a6ea9"/><stop offset="0.9400" stop-color="#0a5cb2"/><stop offset="0.9500" stop-color="#0a4ab6"/><stop offset="0.9600" stop-color="#0a38b2"/><stop offset="0.9700" stop-color="#0a2497"/><stop offset="0.9800" stop-color="#0a1677"/><stop offset="0.9900" stop-color="#0c0a4f" stop-opacity="0.50"/><stop offset="1.0000" stop-color="#12063e" stop-opacity="0.00"/></linearGradient>
<linearGradient id="gA210" x1="0" y1="0" x2="0" y2="1"><stop offset="0.0000" stop-color="#12063e" stop-opacity="0.00"/><stop offset="0.0100" stop-color="#0c0b52" stop-opacity="0.50"/><stop offset="0.0200" stop-color="#0a197d"/><stop offset="0.0300" stop-color="#0a2ba6"/><stop offset="0.0400" stop-color="#0a40b4"/><stop offset="0.0500" stop-color="#0a54b6"/><stop offset="0.0600" stop-color="#0a68ac"/><stop offset="0.0700" stop-color="#097a99"/><stop offset="0.0800" stop-color="#088a80"/><stop offset="0.9200" stop-color="#088a80"/><stop offset="0.9300" stop-color="#097a99"/><stop offset="0.9400" stop-color="#0a68ac"/><stop offset="0.9500" stop-color="#0a54b6"/><stop offset="0.9600" stop-color="#0a40b4"/><stop offset="0.9700" stop-color="#0a2ba6"/><stop offset="0.9800" stop-color="#0a197d"/><stop offset="0.9900" stop-color="#0c0b52" stop-opacity="0.50"/><stop offset="1.0000" stop-color="#12063e" stop-opacity="0.00"/></linearGradient>
<linearGradient id="gA211" x1="0" y1="0" x2="0" y2="1"><stop offset="0.0000" stop-color="#12063e" stop-opacity="0.00"/><stop offset="0.0100" stop-color="#0c0c57" stop-opacity="0.50"/><stop offset="0.0200" stop-color="#0a1c84"/><stop offset="0.0300" stop-color="#0a32b0"/><stop offset="0.0400" stop-color="#0a48b6"/><stop offset="0.0500" stop-color="#0a5eb1"/><stop offset="0.0600" stop-color="#0a73a3"/><stop offset="0.0700" stop-color="#088588"/><stop offset="0.0800" stop-color="#098f68"/><stop offset="0.9200" stop-color="#098f68"/><stop offset="0.9300" stop-color="#088588"/><stop offset="0.9400" stop-color="#0a73a3"/><stop offset="0.9500" stop-color="#0a5eb1"/><stop offset="0.9600" stop-color="#0a48b6"/><stop offset="0.9700" stop-color="#0a32b0"/><stop offset="0.9800" stop-color="#0a1c84"/><stop offset="0.9900" stop-color="#0c0c57" stop-opacity="0.50"/><stop offset="1.0000" stop-color="#12063e" stop-opacity="0.00"/></linearGradient>
<linearGradient id="gA212" x1="0" y1="0" x2="0" y2="1"><stop offset="0.0000" stop-color="#12063e" stop-opacity="0.00"/><stop offset="0.0100" stop-color="#0b0e5c" stop-opacity="0.50"/><stop offset="0.0200" stop-color="#0a1e8b"/><stop offset="0.0300" stop-color="#0a38b2"/><stop offset="0.0400" stop-color="#0a50b8"/><stop offset="0.0500" stop-color="#0a68ac"/><stop offset="0.0600" stop-color="#097d94"/><stop offset="0.0700" stop-color="#088c74"/><stop offset="0.0800" stop-color="#0a9450"/><stop offset="0.9200" stop-color="#0a9450"/><stop offset="0.9300" stop-color="#088c74"/><stop offset="0.9400" stop-color="#097d94"/><stop offset="0.9500" stop-color="#0a68ac"/><stop offset="0.9600" stop-color="#0a50b8"/><stop offset="0.9700" stop-color="#0a38b2"/><stop offset="0.9800" stop-color="#0a1e8b"/><stop offset="0.9900" stop-color="#0b0e5c" stop-opacity="0.50"/><stop offset="1.0000" stop-color="#12063e" stop-opacity="0.00"/></linearGradient>
<linearGradient id="gA213" x1="0" y1="0" x2="0" y2="1"><stop offset="0.0000" stop-color="#12063e" stop-opacity="0.00"/><stop offset="0.0100" stop-color="#0b0f61" stop-opacity="0.50"/><stop offset="0.0200" stop-color="#0a2192"/><stop offset="0.0300" stop-color="#0a3eb4"/><stop offset="0.0400" stop-color="#0a58b4"/><stop offset="0.0500" stop-color="#0a72a6"/><stop offset="0.0600" stop-color="#088785"/><stop offset="0.0700" stop-color="#09915f"/><stop offset="0.0800" stop-color="#0d9a40"/><stop offset="0.9200" stop-color="#0d9a40"/><stop offset="0.9300" stop-color="#09915f"/><stop offset="0.9400" stop-color="#088785"/><stop offset="0.9500" stop-color="#0a72a6"/><stop offset="0.9600" stop-color="#0a58b4"/><stop offset="0.9700" stop-color="#0a3eb4"/><stop offset="0.9800" stop-color="#0a2192"/><stop offset="0.9900" stop-color="#0b0f61" stop-opacity="0.50"/><stop offset="1.0000" stop-color="#12063e" stop-opacity="0.00"/></linearGradient>
<linearGradient id="gA214" x1="0" y1="0" x2="0" y2="1"><stop offset="0.0000" stop-color="#12063e" stop-opacity="0.00"/><stop offset="0.0100" stop-color="#0b1166" stop-opacity="0.50"/><stop offset="0.0200" stop-color="#0a269c"/><stop offset="0.0300" stop-color="#0a44b5"/><stop offset="0.0400" stop-color="#0a60b0"/><stop offset="0.0500" stop-color="#097a99"/><stop offset="0.0600" stop-color="#088c74"/><stop offset="0.0700" stop-color="#0b964c"/><stop offset="0.0800" stop-color="#10a030"/><stop offset="0.9200" stop-color="#10a030"/><stop offset="0.9300" stop-color="#0b964c"/><stop offset="0.9400" stop-color="#088c74"/><stop offset="0.9500" stop-color="#097a99"/><stop offset="0.9600" stop-color="#0a60b0"/><stop offset="0.9700" stop-color="#0a44b5"/><stop offset="0.9800" stop-color="#0a269c"/><stop offset="0.9900" stop-color="#0b1166" stop-opacity="0.50"/><stop offset="1.0000" stop-color="#12063e" stop-opacity="0.00"/></linearGradient>
<linearGradient id="gA215" x1="0" y1="0" x2="0" y2="1"><stop offset="0.0000" stop-color="#12063e" stop-opacity="0.00"/><stop offset="0.0100" stop-color="#0a126b" stop-opacity="0.50"/><stop offset="0.0200" stop-color="#0a2ba6"/><stop offset="0.0300" stop-color="#0a4ab6"/><stop offset="0.0400" stop-color="#0a68ac"/><stop offset="0.0500" stop-color="#09828c"/><stop offset="0.0600" stop-color="#099062"/><stop offset="0.0700" stop-color="#0d9b3e"/><stop offset="0.0800" stop-color="#18a828"/><stop offset="0.9200" stop-color="#18a828"/><stop offset="0.9300" stop-color="#0d9b3e"/><stop offset="0.9400" stop-color="#099062"/><stop offset="0.9500" stop-color="#09828c"/><stop offset="0.9600" stop-color="#0a68ac"/><stop offset="0.9700" stop-color="#0a4ab6"/><stop offset="0.9800" stop-color="#0a2ba6"/><stop offset="0.9900" stop-color="#0a126b" stop-opacity="0.50"/><stop offset="1.0000" stop-color="#12063e" stop-opacity="0.00"/></linearGradient>
<linearGradient id="gA216" x1="0" y1="0" x2="0" y2="1"><stop offset="0.0000" stop-color="#12063e" stop-opacity="0.00"/><stop offset="0.0100" stop-color="#0a1470" stop-opacity="0.50"/><stop offset="0.0200" stop-color="#0a30b0"/><stop offset="0.0300" stop-color="#0a50b8"/><stop offset="0.0400" stop-color="#0a70a8"/><stop offset="0.0500" stop-color="#088a80"/><stop offset="0.0600" stop-color="#0a9450"/><stop offset="0.0700" stop-color="#10a030"/><stop offset="0.0800" stop-color="#20b020"/><stop offset="0.9200" stop-color="#20b020"/><stop offset="0.9300" stop-color="#10a030"/><stop offset="0.9400" stop-color="#0a9450"/><stop offset="0.9500" stop-color="#088a80"/><stop offset="0.9600" stop-color="#0a70a8"/><stop offset="0.9700" stop-color="#0a50b8"/><stop offset="0.9800" stop-color="#0a30b0"/><stop offset="0.9900" stop-color="#0a1470" stop-opacity="0.50"/><stop offset="1.0000" stop-color="#12063e" stop-opacity="0.00"/></linearGradient>
<linearGradient id="gA217" x1="0" y1="0" x2="0" y2="1"><stop offset="0.0000" stop-color="#12063e" stop-opacity="0.00"/><stop offset="0.0100" stop-color="#0a1573" stop-opacity="0.50"/><stop offset="0.0200" stop-color="#0a34b1"/><stop offset="0.0300" stop-color="#0a56b5"/><stop offset="0.0400" stop-color="#0a769e"/><stop offset="0.0500" stop-color="#098d71"/><stop offset="0.0600" stop-color="#0c9844"/><stop offset="0.0700" stop-color="#17a729"/><stop offset="0.0800" stop-color="#2eb31c"/><stop offset="0.9200" stop-color="#2eb31c"/><stop offset="0.9300" stop-color="#17a729"/><stop offset="0.9400" stop-color="#0c9844"/><stop offset="0.9500" stop-color="#098d71"/><stop offset="0.9600" stop-color="#0a769e"/><stop offset="0.9700" stop-color="#0a56b5"/><stop offset="0.9800" stop-color="#0a34b1"/><stop offset="0.9900" stop-color="#0a1573" stop-opacity="0.50"/><stop offset="1.0000" stop-color="#12063e" stop-opacity="0.00"/></linearGradient>
<linearGradient id="gA218" x1="0" y1="0" x2="0" y2="1"><stop offset="0.0000" stop-color="#12063e" stop-opacity="0.00"/><stop offset="0.0100" stop-color="#0a1677" stop-opacity="0.50"/><stop offset="0.0200" stop-color="#0a38b2"/><stop offset="0.0300" stop-color="#0a5cb2"/><stop offset="0.0400" stop-color="#097d94"/><stop offset="0.0500" stop-color="#099062"/><stop offset="0.0600" stop-color="#0e9d38"/><stop offset="0.0700" stop-color="#1eae22"/><stop offset="0.0800" stop-color="#3cb618"/><stop offset="0.9200" stop-color="#3cb618"/><stop offset="0.9300" stop-color="#1eae22"/><stop offset="0.9400" stop-color="#0e9d38"/><stop offset="0.9500" stop-color="#099062"/><stop offset="0.9600" stop-color="#097d94"/><stop offset="0.9700" stop-color="#0a5cb2"/><stop offset="0.9800" stop-color="#0a38b2"/><stop offset="0.9900" stop-color="#0a1677" stop-opacity="0.50"/><stop offset="1.0000" stop-color="#12063e" stop-opacity="0.00"/></linearGradient>
<linearGradient id="gA219" x1="0" y1="0" x2="0" y2="1"><stop offset="0.0000" stop-color="#12063e" stop-opacity="0.00"/><stop offset="0.0100" stop-color="#0a187a" stop-opacity="0.50"/><stop offset="0.0200" stop-color="#0a3cb3"/><stop offset="0.0300" stop-color="#0a62af"/><stop offset="0.0400" stop-color="#08848a"/><stop offset="0.0500" stop-color="#0a9353"/><stop offset="0.0600" stop-color="#12a22e"/><stop offset="0.0700" stop-color="#29b21e"/><stop offset="0.0800" stop-color="#4eb616"/><stop offset="0.9200" stop-color="#4eb616"/><stop offset="0.9300" stop-color="#29b21e"/><stop offset="0.9400" stop-color="#12a22e"/><stop offset="0.9500" stop-color="#0a9353"/><stop offset="0.9600" stop-color="#08848a"/><stop offset="0.9700" stop-color="#0a62af"/><stop offset="0.9800" stop-color="#0a3cb3"/><stop offset="0.9900" stop-color="#0a187a" stop-opacity="0.50"/><stop offset="1.0000" stop-color="#12063e" stop-opacity="0.00"/></linearGradient>
<linearGradient id="gA220" x1="0" y1="0" x2="0" y2="1"><stop offset="0.0000" stop-color="#12063e" stop-opacity="0.00"/><stop offset="0.0100" stop-color="#0a197d" stop-opacity="0.50"/><stop offset="0.0200" stop-color="#0a40b4"/><stop offset="0.0300" stop-color="#0a68ac"/><stop offset="0.0400" stop-color="#088a80"/><stop offset="0.0500" stop-color="#0c9748"/><stop offset="0.0600" stop-color="#18a828"/><stop offset="0.0700" stop-color="#35b41a"/><stop offset="0.0800" stop-color="#60b614"/><stop offset="0.9200" stop-color="#60b614"/><stop offset="0.9300" stop-color="#35b41a"/><stop offset="0.9400" stop-color="#18a828"/><stop offset="0.9500" stop-color="#0c9748"/><stop offset="0.9600" stop-color="#088a80"/><stop offset="0.9700" stop-color="#0a68ac"/><stop offset="0.9800" stop-color="#0a40b4"/><stop offset="0.9900" stop-color="#0a197d" stop-opacity="0.50"/><stop offset="1.0000" stop-color="#12063e" stop-opacity="0.00"/></linearGradient>
<linearGradient id="gA221" x1="0" y1="0" x2="0" y2="1"><stop offset="0.0000" stop-color="#12063e" stop-opacity="0.00"/><stop offset="0.0100" stop-color="#0a1a81" stop-opacity="0.50"/><stop offset="0.0200" stop-color="#0a44b5"/><stop offset="0.0300" stop-color="#0a6ea9"/><stop offset="0.0400" stop-color="#088c74"/><stop offset="0.0500" stop-color="#0d9b3e"/><stop offset="0.0600" stop-color="#1eae22"/><stop offset="0.0700" stop-color="#43b617"/><stop offset="0.0800" stop-color="#73b412"/><stop offset="0.9200" stop-color="#73b412"/><stop offset="0.9300" stop-color="#43b617"/><stop offset="0.9400" stop-color="#1eae22"/><stop offset="0.9500" stop-color="#0d9b3e"/><stop offset="0.9600" stop-color="#088c74"/><stop offset="0.9700" stop-color="#0a6ea9"/><stop offset="0.9800" stop-color="#0a44b5"/><stop offset="0.9900" stop-color="#0a1a81" stop-opacity="0.50"/><stop offset="1.0000" stop-color="#12063e" stop-opacity="0.00"/></linearGradient>
<linearGradient id="gA222" x1="0" y1="0" x2="0" y2="1"><stop offset="0.0000" stop-color="#12063e" stop-opacity="0.00"/><stop offset="0.0100" stop-color="#0a1c84" stop-opacity="0.50"/><stop offset="0.0200" stop-color="#0a48b6"/><stop offset="0.0300" stop-color="#0a73a3"/><stop offset="0.0400" stop-color="#098f68"/><stop offset="0.0500" stop-color="#0f9e34"/><stop offset="0.0600" stop-color="#27b21e"/><stop offset="0.0700" stop-color="#52b616"/><stop offset="0.0800" stop-color="#86b210"/><stop offset="0.9200" stop-color="#86b210"/><stop offset="0.9300" stop-color="#52b616"/><stop offset="0.9400" stop-color="#27b21e"/><stop offset="0.9500" stop-color="#0f9e34"/><stop offset="0.9600" stop-color="#098f68"/><stop offset="0.9700" stop-color="#0a73a3"/><stop offset="0.9800" stop-color="#0a48b6"/><stop offset="0.9900" stop-color="#0a1c84" stop-opacity="0.50"/><stop offset="1.0000" stop-color="#12063e" stop-opacity="0.00"/></linearGradient>
<linearGradient id="gB11" x1="0" y1="0" x2="0" y2="1"><stop offset="0.0000" stop-color="#12063e" stop-opacity="0.00"/><stop offset="0.0175" stop-color="#110640" stop-opacity="0.50"/><stop offset="0.0350" stop-color="#110742"/><stop offset="0.0525" stop-color="#100744"/><stop offset="0.0700" stop-color="#100846"/><stop offset="0.0875" stop-color="#0f0847"/><stop offset="0.1050" stop-color="#0e0849"/><stop offset="0.1224" stop-color="#0e094b"/><stop offset="0.1399" stop-color="#0d094d"/><stop offset="0.8601" stop-color="#0d094d"/><stop offset="0.8776" stop-color="#0e094b"/><stop offset="0.8950" stop-color="#0e0849"/><stop offset="0.9125" stop-color="#0f0847"/><stop offset="0.9300" stop-color="#100846"/><stop offset="0.9475" stop-color="#100744"/><stop offset="0.9650" stop-color="#110742"/><stop offset="0.9825" stop-color="#110640" stop-opacity="0.50"/><stop offset="1.0000" stop-color="#12063e" stop-opacity="0.00"/></linearGradient>
<linearGradient id="gB12" x1="0" y1="0" x2="0" y2="1"><stop offset="0.0000" stop-color="#12063e" stop-opacity="0.00"/><stop offset="0.0175" stop-color="#110742" stop-opacity="0.50"/><stop offset="0.0350" stop-color="#100846"/><stop offset="0.0525" stop-color="#0e0849"/><stop offset="0.0700" stop-color="#0d094d"/><stop offset="0.0875" stop-color="#0c0b52"/><stop offset="0.1050" stop-color="#0b0e5c"/><stop offset="0.1224" stop-color="#0b1166"/><stop offset="0.1399" stop-color="#0a1470"/><stop offset="0.8601" stop-color="#0a1470"/><stop offset="0.8776" stop-color="#0b1166"/><stop offset="0.8950" stop-color="#0b0e5c"/><stop offset="0.9125" stop-color="#0c0b52"/><stop offset="0.9300" stop-color="#0d094d"/><stop offset="0.9475" stop-color="#0e0849"/><stop offset="0.9650" stop-color="#100846"/><stop offset="0.9825" stop-color="#110742" stop-opacity="0.50"/><stop offset="1.0000" stop-color="#12063e" stop-opacity="0.00"/></linearGradient>
<linearGradient id="gB13" x1="0" y1="0" x2="0" y2="1"><stop offset="0.0000" stop-color="#12063e" stop-opacity="0.00"/><stop offset="0.0175" stop-color="#100744" stop-opacity="0.50"/><stop offset="0.0350" stop-color="#0e0849"/><stop offset="0.0525" stop-color="#0c0a4f"/><stop offset="0.0700" stop-color="#0b0e5c"/><stop offset="0.0875" stop-color="#0a126b"/><stop offset="0.1050" stop-color="#0a1677"/><stop offset="0.1224" stop-color="#0a1a81"/><stop offset="0.1399" stop-color="#0a1e8b"/><stop offset="0.8601" stop-color="#0a1e8b"/><stop offset="0.8776" stop-color="#0a1a81"/><stop offset="0.8950" stop-color="#0a1677"/><stop offset="0.9125" stop-color="#0a126b"/><stop offset="0.9300" stop-color="#0b0e5c"/><stop offset="0.9475" stop-color="#0c0a4f"/><stop offset="0.9650" stop-color="#0e0849"/><stop offset="0.9825" stop-color="#100744" stop-opacity="0.50"/><stop offset="1.0000" stop-color="#12063e" stop-opacity="0.00"/></linearGradient>
<linearGradient id="gB14" x1="0" y1="0" x2="0" y2="1"><stop offset="0.0000" stop-color="#12063e" stop-opacity="0.00"/><stop offset="0.0175" stop-color="#100846" stop-opacity="0.50"/><stop offset="0.0350" stop-color="#0d094d"/><stop offset="0.0525" stop-color="#0b0e5c"/><stop offset="0.0700" stop-color="#0a1470"/><stop offset="0.0875" stop-color="#0a197d"/><stop offset="0.1050" stop-color="#0a1e8b"/><stop offset="0.1224" stop-color="#0a269c"/><stop offset="0.1399" stop-color="#0a30b0"/><stop offset="0.8601" stop-color="#0a30b0"/><stop offset="0.8776" stop-color="#0a269c"/><stop offset="0.8950" stop-color="#0a1e8b"/><stop offset="0.9125" stop-color="#0a197d"/><stop offset="0.9300" stop-color="#0a1470"/><stop offset="0.9475" stop-color="#0b0e5c"/><stop offset="0.9650" stop-color="#0d094d"/><stop offset="0.9825" stop-color="#100846" stop-opacity="0.50"/><stop offset="1.0000" stop-color="#12063e" stop-opacity="0.00"/></linearGradient>
<linearGradient id="gB15" x1="0" y1="0" x2="0" y2="1"><stop offset="0.0000" stop-color="#12063e" stop-opacity="0.00"/><stop offset="0.0175" stop-color="#0f0847" stop-opacity="0.50"/><stop offset="0.0350" stop-color="#0c0b52"/><stop offset="0.0525" stop-color="#0a126b"/><stop offset="0.0700" stop-color="#0a197d"/><stop offset="0.0875" stop-color="#0a1f8e"/><stop offset="0.1050" stop-color="#0a2ba6"/><stop offset="0.1224" stop-color="#0a36b2"/><stop offset="0.1399" stop-color="#0a40b4"/><stop offset="0.8601" stop-color="#0a40b4"/><stop offset="0.8776" stop-color="#0a36b2"/><stop offset="0.8950" stop-color="#0a2ba6"/><stop offset="0.9125" stop-color="#0a1f8e"/><stop offset="0.9300" stop-color="#0a197d"/><stop offset="0.9475" stop-color="#0a126b"/><stop offset="0.9650" stop-color="#0c0b52"/><stop offset="0.9825" stop-color="#0f0847" stop-opacity="0.50"/><stop offset="1.0000" stop-color="#12063e" stop-opacity="0.00"/></linearGradient>
<linearGradient id="gB16" x1="0" y1="0" x2="0" y2="1"><stop offset="0.0000" stop-color="#12063e" stop-opacity="0.00"/><stop offset="0.0175" stop-color="#0e0849" stop-opacity="0.50"/><stop offset="0.0350" stop-color="#0b0e5c"/><stop offset="0.0525" stop-color="#0a1677"/><stop offset="0.0700" stop-color="#0a1e8b"/><stop offset="0.0875" stop-color="#0a2ba6"/><stop offset="0.1050" stop-color="#0a38b2"/><stop offset="0.1224" stop-color="#0a44b5"/><stop offset="0.1399" stop-color="#0a50b8"/><stop offset="0.8601" stop-color="#0a50b8"/><stop offset="0.8776" stop-color="#0a44b5"/><stop offset="0.8950" stop-color="#0a38b2"/><stop offset="0.9125" stop-color="#0a2ba6"/><stop offset="0.9300" stop-color="#0a1e8b"/><stop offset="0.9475" stop-color="#0a1677"/><stop offset="0.9650" stop-color="#0b0e5c"/><stop offset="0.9825" stop-color="#0e0849" stop-opacity="0.50"/><stop offset="1.0000" stop-color="#12063e" stop-opacity="0.00"/></linearGradient>
<linearGradient id="gB17" x1="0" y1="0" x2="0" y2="1"><stop offset="0.0000" stop-color="#12063e" stop-opacity="0.00"/><stop offset="0.0175" stop-color="#0e094b" stop-opacity="0.50"/><stop offset="0.0350" stop-color="#0b1166"/><stop offset="0.0525" stop-color="#0a1a81"/><stop offset="0.0700" stop-color="#0a269c"/><stop offset="0.0875" stop-color="#0a36b2"/><stop offset="0.1050" stop-color="#0a44b5"/><stop offset="0.1224" stop-color="#0a52b7"/><stop offset="0.1399" stop-color="#0a60b0"/><stop offset="0.8601" stop-color="#0a60b0"/><stop offset="0.8776" stop-color="#0a52b7"/><stop offset="0.8950" stop-color="#0a44b5"/><stop offset="0.9125" stop-color="#0a36b2"/><stop offset="0.9300" stop-color="#0a269c"/><stop offset="0.9475" stop-color="#0a1a81"/><stop offset="0.9650" stop-color="#0b1166"/><stop offset="0.9825" stop-color="#0e094b" stop-opacity="0.50"/><stop offset="1.0000" stop-color="#12063e" stop-opacity="0.00"/></linearGradient>
<linearGradient id="gB18" x1="0" y1="0" x2="0" y2="1"><stop offset="0.0000" stop-color="#12063e" stop-opacity="0.00"/><stop offset="0.0175" stop-color="#0d094d" stop-opacity="0.50"/><stop offset="0.0350" stop-color="#0a1470"/><stop offset="0.0525" stop-color="#0a1e8b"/><stop offset="0.0700" stop-color="#0a30b0"/><stop offset="0.0875" stop-color="#0a40b4"/><stop offset="0.1050" stop-color="#0a50b8"/><stop offset="0.1224" stop-color="#0a60b0"/><stop offset="0.1399" stop-color="#0a70a8"/><stop offset="0.8601" stop-color="#0a70a8"/><stop offset="0.8776" stop-color="#0a60b0"/><stop offset="0.8950" stop-color="#0a50b8"/><stop offset="0.9125" stop-color="#0a40b4"/><stop offset="0.9300" stop-color="#0a30b0"/><stop offset="0.9475" stop-color="#0a1e8b"/><stop offset="0.9650" stop-color="#0a1470"/><stop offset="0.9825" stop-color="#0d094d" stop-opacity="0.50"/><stop offset="1.0000" stop-color="#12063e" stop-opacity="0.00"/></linearGradient>
<linearGradient id="gB19" x1="0" y1="0" x2="0" y2="1"><stop offset="0.0000" stop-color="#12063e" stop-opacity="0.00"/><stop offset="0.0175" stop-color="#0c0a4f" stop-opacity="0.50"/><stop offset="0.0350" stop-color="#0a1677"/><stop offset="0.0525" stop-color="#0a2497"/><stop offset="0.0700" stop-color="#0a38b2"/><stop offset="0.0875" stop-color="#0a4ab6"/><stop offset="0.1050" stop-color="#0a5cb2"/><stop offset="0.1224" stop-color="#0a6ea9"/><stop offset="0.1399" stop-color="#097d94"/><stop offset="0.8601" stop-color="#097d94"/><stop offset="0.8776" stop-color="#0a6ea9"/><stop offset="0.8950" stop-color="#0a5cb2"/><stop offset="0.9125" stop-color="#0a4ab6"/><stop offset="0.9300" stop-color="#0a38b2"/><stop offset="0.9475" stop-color="#0a2497"/><stop offset="0.9650" stop-color="#0a1677"/><stop offset="0.9825" stop-color="#0c0a4f" stop-opacity="0.50"/><stop offset="1.0000" stop-color="#12063e" stop-opacity="0.00"/></linearGradient>
<linearGradient id="gB110" x1="0" y1="0" x2="0" y2="1"><stop offset="0.0000" stop-color="#12063e" stop-opacity="0.00"/><stop offset="0.0175" stop-color="#0c0b52" stop-opacity="0.50"/><stop offset="0.0350" stop-color="#0a197d"/><stop offset="0.0525" stop-color="#0a2ba6"/><stop offset="0.0700" stop-color="#0a40b4"/><stop offset="0.0875" stop-color="#0a54b6"/><stop offset="0.1050" stop-color="#0a68ac"/><stop offset="0.1224" stop-color="#097a99"/><stop offset="0.1399" stop-color="#088a80"/><stop offset="0.8601" stop-color="#088a80"/><stop offset="0.8776" stop-color="#097a99"/><stop offset="0.8950" stop-color="#0a68ac"/><stop offset="0.9125" stop-color="#0a54b6"/><stop offset="0.9300" stop-color="#0a40b4"/><stop offset="0.9475" stop-color="#0a2ba6"/><stop offset="0.9650" stop-color="#0a197d"/><stop offset="0.9825" stop-color="#0c0b52" stop-opacity="0.50"/><stop offset="1.0000" stop-color="#12063e" stop-opacity="0.00"/></linearGradient>
<linearGradient id="gB111" x1="0" y1="0" x2="0" y2="1"><stop offset="0.0000" stop-color="#12063e" stop-opacity="0.00"/><stop offset="0.0175" stop-color="#0c0c57" stop-opacity="0.50"/><stop offset="0.0350" stop-color="#0a1c84"/><stop offset="0.0525" stop-color="#0a32b0"/><stop offset="0.0700" stop-color="#0a48b6"/><stop offset="0.0875" stop-color="#0a5eb1"/><stop offset="0.1050" stop-color="#0a73a3"/><stop offset="0.1224" stop-color="#088588"/><stop offset="0.1399" stop-color="#098f68"/><stop offset="0.8601" stop-color="#098f68"/><stop offset="0.8776" stop-color="#088588"/><stop offset="0.8950" stop-color="#0a73a3"/><stop offset="0.9125" stop-color="#0a5eb1"/><stop offset="0.9300" stop-color="#0a48b6"/><stop offset="0.9475" stop-color="#0a32b0"/><stop offset="0.9650" stop-color="#0a1c84"/><stop offset="0.9825" stop-color="#0c0c57" stop-opacity="0.50"/><stop offset="1.0000" stop-color="#12063e" stop-opacity="0.00"/></linearGradient>
<linearGradient id="gB112" x1="0" y1="0" x2="0" y2="1"><stop offset="0.0000" stop-color="#12063e" stop-opacity="0.00"/><stop offset="0.0175" stop-color="#0b0e5c" stop-opacity="0.50"/><stop offset="0.0350" stop-color="#0a1e8b"/><stop offset="0.0525" stop-color="#0a38b2"/><stop offset="0.0700" stop-color="#0a50b8"/><stop offset="0.0875" stop-color="#0a68ac"/><stop offset="0.1050" stop-color="#097d94"/><stop offset="0.1224" stop-color="#088c74"/><stop offset="0.1399" stop-color="#0a9450"/><stop offset="0.8601" stop-color="#0a9450"/><stop offset="0.8776" stop-color="#088c74"/><stop offset="0.8950" stop-color="#097d94"/><stop offset="0.9125" stop-color="#0a68ac"/><stop offset="0.9300" stop-color="#0a50b8"/><stop offset="0.9475" stop-color="#0a38b2"/><stop offset="0.9650" stop-color="#0a1e8b"/><stop offset="0.9825" stop-color="#0b0e5c" stop-opacity="0.50"/><stop offset="1.0000" stop-color="#12063e" stop-opacity="0.00"/></linearGradient>
<linearGradient id="gB113" x1="0" y1="0" x2="0" y2="1"><stop offset="0.0000" stop-color="#12063e" stop-opacity="0.00"/><stop offset="0.0175" stop-color="#0b0f61" stop-opacity="0.50"/><stop offset="0.0350" stop-color="#0a2192"/><stop offset="0.0525" stop-color="#0a3eb4"/><stop offset="0.0700" stop-color="#0a58b4"/><stop offset="0.0875" stop-color="#0a72a6"/><stop offset="0.1050" stop-color="#088785"/><stop offset="0.1224" stop-color="#09915f"/><stop offset="0.1399" stop-color="#0d9a40"/><stop offset="0.8601" stop-color="#0d9a40"/><stop offset="0.8776" stop-color="#09915f"/><stop offset="0.8950" stop-color="#088785"/><stop offset="0.9125" stop-color="#0a72a6"/><stop offset="0.9300" stop-color="#0a58b4"/><stop offset="0.9475" stop-color="#0a3eb4"/><stop offset="0.9650" stop-color="#0a2192"/><stop offset="0.9825" stop-color="#0b0f61" stop-opacity="0.50"/><stop offset="1.0000" stop-color="#12063e" stop-opacity="0.00"/></linearGradient>
<linearGradient id="gB114" x1="0" y1="0" x2="0" y2="1"><stop offset="0.0000" stop-color="#12063e" stop-opacity="0.00"/><stop offset="0.0175" stop-color="#0b1166" stop-opacity="0.50"/><stop offset="0.0350" stop-color="#0a269c"/><stop offset="0.0525" stop-color="#0a44b5"/><stop offset="0.0700" stop-color="#0a60b0"/><stop offset="0.0875" stop-color="#097a99"/><stop offset="0.1050" stop-color="#088c74"/><stop offset="0.1224" stop-color="#0b964c"/><stop offset="0.1399" stop-color="#10a030"/><stop offset="0.8601" stop-color="#10a030"/><stop offset="0.8776" stop-color="#0b964c"/><stop offset="0.8950" stop-color="#088c74"/><stop offset="0.9125" stop-color="#097a99"/><stop offset="0.9300" stop-color="#0a60b0"/><stop offset="0.9475" stop-color="#0a44b5"/><stop offset="0.9650" stop-color="#0a269c"/><stop offset="0.9825" stop-color="#0b1166" stop-opacity="0.50"/><stop offset="1.0000" stop-color="#12063e" stop-opacity="0.00"/></linearGradient>
<linearGradient id="gB115" x1="0" y1="0" x2="0" y2="1"><stop offset="0.0000" stop-color="#12063e" stop-opacity="0.00"/><stop offset="0.0175" stop-color="#0a126b" stop-opacity="0.50"/><stop offset="0.0350" stop-color="#0a2ba6"/><stop offset="0.0525" stop-color="#0a4ab6"/><stop offset="0.0700" stop-color="#0a68ac"/><stop offset="0.0875" stop-color="#09828c"/><stop offset="0.1050" stop-color="#099062"/><stop offset="0.1224" stop-color="#0d9b3e"/><stop offset="0.1399" stop-color="#18a828"/><stop offset="0.8601" stop-color="#18a828"/><stop offset="0.8776" stop-color="#0d9b3e"/><stop offset="0.8950" stop-color="#099062"/><stop offset="0.9125" stop-color="#09828c"/><stop offset="0.9300" stop-color="#0a68ac"/><stop offset="0.9475" stop-color="#0a4ab6"/><stop offset="0.9650" stop-color="#0a2ba6"/><stop offset="0.9825" stop-color="#0a126b" stop-opacity="0.50"/><stop offset="1.0000" stop-color="#12063e" stop-opacity="0.00"/></linearGradient>
<linearGradient id="gB116" x1="0" y1="0" x2="0" y2="1"><stop offset="0.0000" stop-color="#12063e" stop-opacity="0.00"/><stop offset="0.0175" stop-color="#0a1470" stop-opacity="0.50"/><stop offset="0.0350" stop-color="#0a30b0"/><stop offset="0.0525" stop-color="#0a50b8"/><stop offset="0.0700" stop-color="#0a70a8"/><stop offset="0.0875" stop-color="#088a80"/><stop offset="0.1050" stop-color="#0a9450"/><stop offset="0.1224" stop-color="#10a030"/><stop offset="0.1399" stop-color="#20b020"/><stop offset="0.8601" stop-color="#20b020"/><stop offset="0.8776" stop-color="#10a030"/><stop offset="0.8950" stop-color="#0a9450"/><stop offset="0.9125" stop-color="#088a80"/><stop offset="0.9300" stop-color="#0a70a8"/><stop offset="0.9475" stop-color="#0a50b8"/><stop offset="0.9650" stop-color="#0a30b0"/><stop offset="0.9825" stop-color="#0a1470" stop-opacity="0.50"/><stop offset="1.0000" stop-color="#12063e" stop-opacity="0.00"/></linearGradient>
<linearGradient id="gB117" x1="0" y1="0" x2="0" y2="1"><stop offset="0.0000" stop-color="#12063e" stop-opacity="0.00"/><stop offset="0.0175" stop-color="#0a1573" stop-opacity="0.50"/><stop offset="0.0350" stop-color="#0a34b1"/><stop offset="0.0525" stop-color="#0a56b5"/><stop offset="0.0700" stop-color="#0a769e"/><stop offset="0.0875" stop-color="#098d71"/><stop offset="0.1050" stop-color="#0c9844"/><stop offset="0.1224" stop-color="#17a729"/><stop offset="0.1399" stop-color="#2eb31c"/><stop offset="0.8601" stop-color="#2eb31c"/><stop offset="0.8776" stop-color="#17a729"/><stop offset="0.8950" stop-color="#0c9844"/><stop offset="0.9125" stop-color="#098d71"/><stop offset="0.9300" stop-color="#0a769e"/><stop offset="0.9475" stop-color="#0a56b5"/><stop offset="0.9650" stop-color="#0a34b1"/><stop offset="0.9825" stop-color="#0a1573" stop-opacity="0.50"/><stop offset="1.0000" stop-color="#12063e" stop-opacity="0.00"/></linearGradient>
<linearGradient id="gB118" x1="0" y1="0" x2="0" y2="1"><stop offset="0.0000" stop-color="#12063e" stop-opacity="0.00"/><stop offset="0.0175" stop-color="#0a1677" stop-opacity="0.50"/><stop offset="0.0350" stop-color="#0a38b2"/><stop offset="0.0525" stop-color="#0a5cb2"/><stop offset="0.0700" stop-color="#097d94"/><stop offset="0.0875" stop-color="#099062"/><stop offset="0.1050" stop-color="#0e9d38"/><stop offset="0.1224" stop-color="#1eae22"/><stop offset="0.1399" stop-color="#3cb618"/><stop offset="0.8601" stop-color="#3cb618"/><stop offset="0.8776" stop-color="#1eae22"/><stop offset="0.8950" stop-color="#0e9d38"/><stop offset="0.9125" stop-color="#099062"/><stop offset="0.9300" stop-color="#097d94"/><stop offset="0.9475" stop-color="#0a5cb2"/><stop offset="0.9650" stop-color="#0a38b2"/><stop offset="0.9825" stop-color="#0a1677" stop-opacity="0.50"/><stop offset="1.0000" stop-color="#12063e" stop-opacity="0.00"/></linearGradient>
<linearGradient id="gB119" x1="0" y1="0" x2="0" y2="1"><stop offset="0.0000" stop-color="#12063e" stop-opacity="0.00"/><stop offset="0.0175" stop-color="#0a187a" stop-opacity="0.50"/><stop offset="0.0350" stop-color="#0a3cb3"/><stop offset="0.0525" stop-color="#0a62af"/><stop offset="0.0700" stop-color="#08848a"/><stop offset="0.0875" stop-color="#0a9353"/><stop offset="0.1050" stop-color="#12a22e"/><stop offset="0.1224" stop-color="#29b21e"/><stop offset="0.1399" stop-color="#4eb616"/><stop offset="0.8601" stop-color="#4eb616"/><stop offset="0.8776" stop-color="#29b21e"/><stop offset="0.8950" stop-color="#12a22e"/><stop offset="0.9125" stop-color="#0a9353"/><stop offset="0.9300" stop-color="#08848a"/><stop offset="0.9475" stop-color="#0a62af"/><stop offset="0.9650" stop-color="#0a3cb3"/><stop offset="0.9825" stop-color="#0a187a" stop-opacity="0.50"/><stop offset="1.0000" stop-color="#12063e" stop-opacity="0.00"/></linearGradient>
<linearGradient id="gB120" x1="0" y1="0" x2="0" y2="1"><stop offset="0.0000" stop-color="#12063e" stop-opacity="0.00"/><stop offset="0.0175" stop-color="#0a197d" stop-opacity="0.50"/><stop offset="0.0350" stop-color="#0a40b4"/><stop offset="0.0525" stop-color="#0a68ac"/><stop offset="0.0700" stop-color="#088a80"/><stop offset="0.0875" stop-color="#0c9748"/><stop offset="0.1050" stop-color="#18a828"/><stop offset="0.1224" stop-color="#35b41a"/><stop offset="0.1399" stop-color="#60b614"/><stop offset="0.8601" stop-color="#60b614"/><stop offset="0.8776" stop-color="#35b41a"/><stop offset="0.8950" stop-color="#18a828"/><stop offset="0.9125" stop-color="#0c9748"/><stop offset="0.9300" stop-color="#088a80"/><stop offset="0.9475" stop-color="#0a68ac"/><stop offset="0.9650" stop-color="#0a40b4"/><stop offset="0.9825" stop-color="#0a197d" stop-opacity="0.50"/><stop offset="1.0000" stop-color="#12063e" stop-opacity="0.00"/></linearGradient>
<linearGradient id="gB121" x1="0" y1="0" x2="0" y2="1"><stop offset="0.0000" stop-color="#12063e" stop-opacity="0.00"/><stop offset="0.0175" stop-color="#0a1a81" stop-opacity="0.50"/><stop offset="0.0350" stop-color="#0a44b5"/><stop offset="0.0525" stop-color="#0a6ea9"/><stop offset="0.0700" stop-color="#088c74"/><stop offset="0.0875" stop-color="#0d9b3e"/><stop offset="0.1050" stop-color="#1eae22"/><stop offset="0.1224" stop-color="#43b617"/><stop offset="0.1399" stop-color="#73b412"/><stop offset="0.8601" stop-color="#73b412"/><stop offset="0.8776" stop-color="#43b617"/><stop offset="0.8950" stop-color="#1eae22"/><stop offset="0.9125" stop-color="#0d9b3e"/><stop offset="0.9300" stop-color="#088c74"/><stop offset="0.9475" stop-color="#0a6ea9"/><stop offset="0.9650" stop-color="#0a44b5"/><stop offset="0.9825" stop-color="#0a1a81" stop-opacity="0.50"/><stop offset="1.0000" stop-color="#12063e" stop-opacity="0.00"/></linearGradient>
<linearGradient id="gB122" x1="0" y1="0" x2="0" y2="1"><stop offset="0.0000" stop-color="#12063e" stop-opacity="0.00"/><stop offset="0.0175" stop-color="#0a1c84" stop-opacity="0.50"/><stop offset="0.0350" stop-color="#0a48b6"/><stop offset="0.0525" stop-color="#0a73a3"/><stop offset="0.0700" stop-color="#098f68"/><stop offset="0.0875" stop-color="#0f9e34"/><stop offset="0.1050" stop-color="#27b21e"/><stop offset="0.1224" stop-color="#52b616"/><stop offset="0.1399" stop-color="#86b210"/><stop offset="0.8601" stop-color="#86b210"/><stop offset="0.8776" stop-color="#52b616"/><stop offset="0.8950" stop-color="#27b21e"/><stop offset="0.9125" stop-color="#0f9e34"/><stop offset="0.9300" stop-color="#098f68"/><stop offset="0.9475" stop-color="#0a73a3"/><stop offset="0.9650" stop-color="#0a48b6"/><stop offset="0.9825" stop-color="#0a1c84" stop-opacity="0.50"/><stop offset="1.0000" stop-color="#12063e" stop-opacity="0.00"/></linearGradient>
<linearGradient id="gB123" x1="0" y1="0" x2="0" y2="1"><stop offset="0.0000" stop-color="#12063e" stop-opacity="0.00"/><stop offset="0.0175" stop-color="#0a1d87" stop-opacity="0.50"/><stop offset="0.0350" stop-color="#0a4cb7"/><stop offset="0.0525" stop-color="#09789c"/><stop offset="0.0700" stop-color="#0a925c"/><stop offset="0.0875" stop-color="#13a32d"/><stop offset="0.1050" stop-color="#32b41b"/><stop offset="0.1224" stop-color="#62b614"/><stop offset="0.1399" stop-color="#96a910"/><stop offset="0.8601" stop-color="#96a910"/><stop offset="0.8776" stop-color="#62b614"/><stop offset="0.8950" stop-color="#32b41b"/><stop offset="0.9125" stop-color="#13a32d"/><stop offset="0.9300" stop-color="#0a925c"/><stop offset="0.9475" stop-color="#09789c"/><stop offset="0.9650" stop-color="#0a4cb7"/><stop offset="0.9825" stop-color="#0a1d87" stop-opacity="0.50"/><stop offset="1.0000" stop-color="#12063e" stop-opacity="0.00"/></linearGradient>
<linearGradient id="gB124" x1="0" y1="0" x2="0" y2="1"><stop offset="0.0000" stop-color="#12063e" stop-opacity="0.00"/><stop offset="0.0175" stop-color="#0a1e8b" stop-opacity="0.50"/><stop offset="0.0350" stop-color="#0a50b8"/><stop offset="0.0525" stop-color="#097d94"/><stop offset="0.0700" stop-color="#0a9450"/><stop offset="0.0875" stop-color="#18a828"/><stop offset="0.1050" stop-color="#3cb618"/><stop offset="0.1224" stop-color="#73b412"/><stop offset="0.1399" stop-color="#a6a010"/><stop offset="0.8601" stop-color="#a6a010"/><stop offset="0.8776" stop-color="#73b412"/><stop offset="0.8950" stop-color="#3cb618"/><stop offset="0.9125" stop-color="#18a828"/><stop offset="0.9300" stop-color="#0a9450"/><stop offset="0.9475" stop-color="#097d94"/><stop offset="0.9650" stop-color="#0a50b8"/><stop offset="0.9825" stop-color="#0a1e8b" stop-opacity="0.50"/><stop offset="1.0000" stop-color="#12063e" stop-opacity="0.00"/></linearGradient>
<linearGradient id="gB125" x1="0" y1="0" x2="0" y2="1"><stop offset="0.0000" stop-color="#12063e" stop-opacity="0.00"/><stop offset="0.0175" stop-color="#0a1f8e" stop-opacity="0.50"/><stop offset="0.0350" stop-color="#0a54b6"/><stop offset="0.0525" stop-color="#09828c"/><stop offset="0.0700" stop-color="#0c9748"/><stop offset="0.0875" stop-color="#1dad23"/><stop offset="0.1050" stop-color="#4ab616"/><stop offset="0.1224" stop-color="#84b210"/><stop offset="0.1399" stop-color="#b29410"/><stop offset="0.8601" stop-color="#b29410"/><stop offset="0.8776" stop-color="#84b210"/><stop offset="0.8950" stop-color="#4ab616"/><stop offset="0.9125" stop-color="#1dad23"/><stop offset="0.9300" stop-color="#0c9748"/><stop offset="0.9475" stop-color="#09828c"/><stop offset="0.9650" stop-color="#0a54b6"/><stop offset="0.9825" stop-color="#0a1f8e" stop-opacity="0.50"/><stop offset="1.0000" stop-color="#12063e" stop-opacity="0.00"/></linearGradient>
<linearGradient id="gB126" x1="0" y1="0" x2="0" y2="1"><stop offset="0.0000" stop-color="#12063e" stop-opacity="0.00"/><stop offset="0.0175" stop-color="#0a2192" stop-opacity="0.50"/><stop offset="0.0350" stop-color="#0a58b4"/><stop offset="0.0525" stop-color="#088785"/><stop offset="0.0700" stop-color="#0d9a40"/><stop offset="0.0875" stop-color="#24b11f"/><stop offset="0.1050" stop-color="#57b615"/><stop offset="0.1224" stop-color="#92ab10"/><stop offset="0.1399" stop-color="#be8810"/><stop offset="0.8601" stop-color="#be8810"/><stop offset="0.8776" stop-color="#92ab10"/><stop offset="0.8950" stop-color="#57b615"/><stop offset="0.9125" stop-color="#24b11f"/><stop offset="0.9300" stop-color="#0d9a40"/><stop offset="0.9475" stop-color="#088785"/><stop offset="0.9650" stop-color="#0a58b4"/><stop offset="0.9825" stop-color="#0a2192" stop-opacity="0.50"/><stop offset="1.0000" stop-color="#12063e" stop-opacity="0.00"/></linearGradient>
<linearGradient id="gB127" x1="0" y1="0" x2="0" y2="1"><stop offset="0.0000" stop-color="#12063e" stop-opacity="0.00"/><stop offset="0.0175" stop-color="#0a2497" stop-opacity="0.50"/><stop offset="0.0350" stop-color="#0a5cb2"/><stop offset="0.0525" stop-color="#088b7d"/><stop offset="0.0700" stop-color="#0e9d38"/><stop offset="0.0875" stop-color="#2cb31c"/><stop offset="0.1050" stop-color="#65b614"/><stop offset="0.1224" stop-color="#a0a310"/><stop offset="0.1399" stop-color="#c77c10"/><stop offset="0.8601" stop-color="#c77c10"/><stop offset="0.8776" stop-color="#a0a310"/><stop offset="0.8950" stop-color="#65b614"/><stop offset="0.9125" stop-color="#2cb31c"/><stop offset="0.9300" stop-color="#0e9d38"/><stop offset="0.9475" stop-color="#088b7d"/><stop offset="0.9650" stop-color="#0a5cb2"/><stop offset="0.9825" stop-color="#0a2497" stop-opacity="0.50"/><stop offset="1.0000" stop-color="#12063e" stop-opacity="0.00"/></linearGradient>
<linearGradient id="gB21" x1="0" y1="0" x2="0" y2="1"><stop offset="0.0000" stop-color="#12063e" stop-opacity="0.00"/><stop offset="0.0101" stop-color="#110640" stop-opacity="0.50"/><stop offset="0.0202" stop-color="#110742"/><stop offset="0.0303" stop-color="#100744"/><stop offset="0.0404" stop-color="#100846"/><stop offset="0.0505" stop-color="#0f0847"/><stop offset="0.0606" stop-color="#0e0849"/><stop offset="0.0707" stop-color="#0e094b"/><stop offset="0.0808" stop-color="#0d094d"/><stop offset="0.9192" stop-color="#0d094d"/><stop offset="0.9293" stop-color="#0e094b"/><stop offset="0.9394" stop-color="#0e0849"/><stop offset="0.9495" stop-color="#0f0847"/><stop offset="0.9596" stop-color="#100846"/><stop offset="0.9697" stop-color="#100744"/><stop offset="0.9798" stop-color="#110742"/><stop offset="0.9899" stop-color="#110640" stop-opacity="0.50"/><stop offset="1.0000" stop-color="#12063e" stop-opacity="0.00"/></linearGradient>
<linearGradient id="gB22" x1="0" y1="0" x2="0" y2="1"><stop offset="0.0000" stop-color="#12063e" stop-opacity="0.00"/><stop offset="0.0101" stop-color="#110742" stop-opacity="0.50"/><stop offset="0.0202" stop-color="#100846"/><stop offset="0.0303" stop-color="#0e0849"/><stop offset="0.0404" stop-color="#0d094d"/><stop offset="0.0505" stop-color="#0c0b52"/><stop offset="0.0606" stop-color="#0b0e5c"/><stop offset="0.0707" stop-color="#0b1166"/><stop offset="0.0808" stop-color="#0a1470"/><stop offset="0.9192" stop-color="#0a1470"/><stop offset="0.9293" stop-color="#0b1166"/><stop offset="0.9394" stop-color="#0b0e5c"/><stop offset="0.9495" stop-color="#0c0b52"/><stop offset="0.9596" stop-color="#0d094d"/><stop offset="0.9697" stop-color="#0e0849"/><stop offset="0.9798" stop-color="#100846"/><stop offset="0.9899" stop-color="#110742" stop-opacity="0.50"/><stop offset="1.0000" stop-color="#12063e" stop-opacity="0.00"/></linearGradient>
<linearGradient id="gB23" x1="0" y1="0" x2="0" y2="1"><stop offset="0.0000" stop-color="#12063e" stop-opacity="0.00"/><stop offset="0.0101" stop-color="#100744" stop-opacity="0.50"/><stop offset="0.0202" stop-color="#0e0849"/><stop offset="0.0303" stop-color="#0c0a4f"/><stop offset="0.0404" stop-color="#0b0e5c"/><stop offset="0.0505" stop-color="#0a126b"/><stop offset="0.0606" stop-color="#0a1677"/><stop offset="0.0707" stop-color="#0a1a81"/><stop offset="0.0808" stop-color="#0a1e8b"/><stop offset="0.9192" stop-color="#0a1e8b"/><stop offset="0.9293" stop-color="#0a1a81"/><stop offset="0.9394" stop-color="#0a1677"/><stop offset="0.9495" stop-color="#0a126b"/><stop offset="0.9596" stop-color="#0b0e5c"/><stop offset="0.9697" stop-color="#0c0a4f"/><stop offset="0.9798" stop-color="#0e0849"/><stop offset="0.9899" stop-color="#100744" stop-opacity="0.50"/><stop offset="1.0000" stop-color="#12063e" stop-opacity="0.00"/></linearGradient>
<linearGradient id="gB24" x1="0" y1="0" x2="0" y2="1"><stop offset="0.0000" stop-color="#12063e" stop-opacity="0.00"/><stop offset="0.0101" stop-color="#100846" stop-opacity="0.50"/><stop offset="0.0202" stop-color="#0d094d"/><stop offset="0.0303" stop-color="#0b0e5c"/><stop offset="0.0404" stop-color="#0a1470"/><stop offset="0.0505" stop-color="#0a197d"/><stop offset="0.0606" stop-color="#0a1e8b"/><stop offset="0.0707" stop-color="#0a269c"/><stop offset="0.0808" stop-color="#0a30b0"/><stop offset="0.9192" stop-color="#0a30b0"/><stop offset="0.9293" stop-color="#0a269c"/><stop offset="0.9394" stop-color="#0a1e8b"/><stop offset="0.9495" stop-color="#0a197d"/><stop offset="0.9596" stop-color="#0a1470"/><stop offset="0.9697" stop-color="#0b0e5c"/><stop offset="0.9798" stop-color="#0d094d"/><stop offset="0.9899" stop-color="#100846" stop-opacity="0.50"/><stop offset="1.0000" stop-color="#12063e" stop-opacity="0.00"/></linearGradient>
<linearGradient id="gB25" x1="0" y1="0" x2="0" y2="1"><stop offset="0.0000" stop-color="#12063e" stop-opacity="0.00"/><stop offset="0.0101" stop-color="#0f0847" stop-opacity="0.50"/><stop offset="0.0202" stop-color="#0c0b52"/><stop offset="0.0303" stop-color="#0a126b"/><stop offset="0.0404" stop-color="#0a197d"/><stop offset="0.0505" stop-color="#0a1f8e"/><stop offset="0.0606" stop-color="#0a2ba6"/><stop offset="0.0707" stop-color="#0a36b2"/><stop offset="0.0808" stop-color="#0a40b4"/><stop offset="0.9192" stop-color="#0a40b4"/><stop offset="0.9293" stop-color="#0a36b2"/><stop offset="0.9394" stop-color="#0a2ba6"/><stop offset="0.9495" stop-color="#0a1f8e"/><stop offset="0.9596" stop-color="#0a197d"/><stop offset="0.9697" stop-color="#0a126b"/><stop offset="0.9798" stop-color="#0c0b52"/><stop offset="0.9899" stop-color="#0f0847" stop-opacity="0.50"/><stop offset="1.0000" stop-color="#12063e" stop-opacity="0.00"/></linearGradient>
<linearGradient id="gB26" x1="0" y1="0" x2="0" y2="1"><stop offset="0.0000" stop-color="#12063e" stop-opacity="0.00"/><stop offset="0.0101" stop-color="#0e0849" stop-opacity="0.50"/><stop offset="0.0202" stop-color="#0b0e5c"/><stop offset="0.0303" stop-color="#0a1677"/><stop offset="0.0404" stop-color="#0a1e8b"/><stop offset="0.0505" stop-color="#0a2ba6"/><stop offset="0.0606" stop-color="#0a38b2"/><stop offset="0.0707" stop-color="#0a44b5"/><stop offset="0.0808" stop-color="#0a50b8"/><stop offset="0.9192" stop-color="#0a50b8"/><stop offset="0.9293" stop-color="#0a44b5"/><stop offset="0.9394" stop-color="#0a38b2"/><stop offset="0.9495" stop-color="#0a2ba6"/><stop offset="0.9596" stop-color="#0a1e8b"/><stop offset="0.9697" stop-color="#0a1677"/><stop offset="0.9798" stop-color="#0b0e5c"/><stop offset="0.9899" stop-color="#0e0849" stop-opacity="0.50"/><stop offset="1.0000" stop-color="#12063e" stop-opacity="0.00"/></linearGradient>
<linearGradient id="gB27" x1="0" y1="0" x2="0" y2="1"><stop offset="0.0000" stop-color="#12063e" stop-opacity="0.00"/><stop offset="0.0101" stop-color="#0e094b" stop-opacity="0.50"/><stop offset="0.0202" stop-color="#0b1166"/><stop offset="0.0303" stop-color="#0a1a81"/><stop offset="0.0404" stop-color="#0a269c"/><stop offset="0.0505" stop-color="#0a36b2"/><stop offset="0.0606" stop-color="#0a44b5"/><stop offset="0.0707" stop-color="#0a52b7"/><stop offset="0.0808" stop-color="#0a60b0"/><stop offset="0.9192" stop-color="#0a60b0"/><stop offset="0.9293" stop-color="#0a52b7"/><stop offset="0.9394" stop-color="#0a44b5"/><stop offset="0.9495" stop-color="#0a36b2"/><stop offset="0.9596" stop-color="#0a269c"/><stop offset="0.9697" stop-color="#0a1a81"/><stop offset="0.9798" stop-color="#0b1166"/><stop offset="0.9899" stop-color="#0e094b" stop-opacity="0.50"/><stop offset="1.0000" stop-color="#12063e" stop-opacity="0.00"/></linearGradient>
<linearGradient id="gB28" x1="0" y1="0" x2="0" y2="1"><stop offset="0.0000" stop-color="#12063e" stop-opacity="0.00"/><stop offset="0.0101" stop-color="#0d094d" stop-opacity="0.50"/><stop offset="0.0202" stop-color="#0a1470"/><stop offset="0.0303" stop-color="#0a1e8b"/><stop offset="0.0404" stop-color="#0a30b0"/><stop offset="0.0505" stop-color="#0a40b4"/><stop offset="0.0606" stop-color="#0a50b8"/><stop offset="0.0707" stop-color="#0a60b0"/><stop offset="0.0808" stop-color="#0a70a8"/><stop offset="0.9192" stop-color="#0a70a8"/><stop offset="0.9293" stop-color="#0a60b0"/><stop offset="0.9394" stop-color="#0a50b8"/><stop offset="0.9495" stop-color="#0a40b4"/><stop offset="0.9596" stop-color="#0a30b0"/><stop offset="0.9697" stop-color="#0a1e8b"/><stop offset="0.9798" stop-color="#0a1470"/><stop offset="0.9899" stop-color="#0d094d" stop-opacity="0.50"/><stop offset="1.0000" stop-color="#12063e" stop-opacity="0.00"/></linearGradient>
<linearGradient id="gB29" x1="0" y1="0" x2="0" y2="1"><stop offset="0.0000" stop-color="#12063e" stop-opacity="0.00"/><stop offset="0.0101" stop-color="#0c0a4f" stop-opacity="0.50"/><stop offset="0.0202" stop-color="#0a1677"/><stop offset="0.0303" stop-color="#0a2497"/><stop offset="0.0404" stop-color="#0a38b2"/><stop offset="0.0505" stop-color="#0a4ab6"/><stop offset="0.0606" stop-color="#0a5cb2"/><stop offset="0.0707" stop-color="#0a6ea9"/><stop offset="0.0808" stop-color="#097d94"/><stop offset="0.9192" stop-color="#097d94"/><stop offset="0.9293" stop-color="#0a6ea9"/><stop offset="0.9394" stop-color="#0a5cb2"/><stop offset="0.9495" stop-color="#0a4ab6"/><stop offset="0.9596" stop-color="#0a38b2"/><stop offset="0.9697" stop-color="#0a2497"/><stop offset="0.9798" stop-color="#0a1677"/><stop offset="0.9899" stop-color="#0c0a4f" stop-opacity="0.50"/><stop offset="1.0000" stop-color="#12063e" stop-opacity="0.00"/></linearGradient>
<linearGradient id="gB210" x1="0" y1="0" x2="0" y2="1"><stop offset="0.0000" stop-color="#12063e" stop-opacity="0.00"/><stop offset="0.0101" stop-color="#0c0b52" stop-opacity="0.50"/><stop offset="0.0202" stop-color="#0a197d"/><stop offset="0.0303" stop-color="#0a2ba6"/><stop offset="0.0404" stop-color="#0a40b4"/><stop offset="0.0505" stop-color="#0a54b6"/><stop offset="0.0606" stop-color="#0a68ac"/><stop offset="0.0707" stop-color="#097a99"/><stop offset="0.0808" stop-color="#088a80"/><stop offset="0.9192" stop-color="#088a80"/><stop offset="0.9293" stop-color="#097a99"/><stop offset="0.9394" stop-color="#0a68ac"/><stop offset="0.9495" stop-color="#0a54b6"/><stop offset="0.9596" stop-color="#0a40b4"/><stop offset="0.9697" stop-color="#0a2ba6"/><stop offset="0.9798" stop-color="#0a197d"/><stop offset="0.9899" stop-color="#0c0b52" stop-opacity="0.50"/><stop offset="1.0000" stop-color="#12063e" stop-opacity="0.00"/></linearGradient>
<linearGradient id="gB211" x1="0" y1="0" x2="0" y2="1"><stop offset="0.0000" stop-color="#12063e" stop-opacity="0.00"/><stop offset="0.0101" stop-color="#0c0c57" stop-opacity="0.50"/><stop offset="0.0202" stop-color="#0a1c84"/><stop offset="0.0303" stop-color="#0a32b0"/><stop offset="0.0404" stop-color="#0a48b6"/><stop offset="0.0505" stop-color="#0a5eb1"/><stop offset="0.0606" stop-color="#0a73a3"/><stop offset="0.0707" stop-color="#088588"/><stop offset="0.0808" stop-color="#098f68"/><stop offset="0.9192" stop-color="#098f68"/><stop offset="0.9293" stop-color="#088588"/><stop offset="0.9394" stop-color="#0a73a3"/><stop offset="0.9495" stop-color="#0a5eb1"/><stop offset="0.9596" stop-color="#0a48b6"/><stop offset="0.9697" stop-color="#0a32b0"/><stop offset="0.9798" stop-color="#0a1c84"/><stop offset="0.9899" stop-color="#0c0c57" stop-opacity="0.50"/><stop offset="1.0000" stop-color="#12063e" stop-opacity="0.00"/></linearGradient>
<linearGradient id="gB212" x1="0" y1="0" x2="0" y2="1"><stop offset="0.0000" stop-color="#12063e" stop-opacity="0.00"/><stop offset="0.0101" stop-color="#0b0e5c" stop-opacity="0.50"/><stop offset="0.0202" stop-color="#0a1e8b"/><stop offset="0.0303" stop-color="#0a38b2"/><stop offset="0.0404" stop-color="#0a50b8"/><stop offset="0.0505" stop-color="#0a68ac"/><stop offset="0.0606" stop-color="#097d94"/><stop offset="0.0707" stop-color="#088c74"/><stop offset="0.0808" stop-color="#0a9450"/><stop offset="0.9192" stop-color="#0a9450"/><stop offset="0.9293" stop-color="#088c74"/><stop offset="0.9394" stop-color="#097d94"/><stop offset="0.9495" stop-color="#0a68ac"/><stop offset="0.9596" stop-color="#0a50b8"/><stop offset="0.9697" stop-color="#0a38b2"/><stop offset="0.9798" stop-color="#0a1e8b"/><stop offset="0.9899" stop-color="#0b0e5c" stop-opacity="0.50"/><stop offset="1.0000" stop-color="#12063e" stop-opacity="0.00"/></linearGradient>
<linearGradient id="gB213" x1="0" y1="0" x2="0" y2="1"><stop offset="0.0000" stop-color="#12063e" stop-opacity="0.00"/><stop offset="0.0101" stop-color="#0b0f61" stop-opacity="0.50"/><stop offset="0.0202" stop-color="#0a2192"/><stop offset="0.0303" stop-color="#0a3eb4"/><stop offset="0.0404" stop-color="#0a58b4"/><stop offset="0.0505" stop-color="#0a72a6"/><stop offset="0.0606" stop-color="#088785"/><stop offset="0.0707" stop-color="#09915f"/><stop offset="0.0808" stop-color="#0d9a40"/><stop offset="0.9192" stop-color="#0d9a40"/><stop offset="0.9293" stop-color="#09915f"/><stop offset="0.9394" stop-color="#088785"/><stop offset="0.9495" stop-color="#0a72a6"/><stop offset="0.9596" stop-color="#0a58b4"/><stop offset="0.9697" stop-color="#0a3eb4"/><stop offset="0.9798" stop-color="#0a2192"/><stop offset="0.9899" stop-color="#0b0f61" stop-opacity="0.50"/><stop offset="1.0000" stop-color="#12063e" stop-opacity="0.00"/></linearGradient>
<linearGradient id="gB214" x1="0" y1="0" x2="0" y2="1"><stop offset="0.0000" stop-color="#12063e" stop-opacity="0.00"/><stop offset="0.0101" stop-color="#0b1166" stop-opacity="0.50"/><stop offset="0.0202" stop-color="#0a269c"/><stop offset="0.0303" stop-color="#0a44b5"/><stop offset="0.0404" stop-color="#0a60b0"/><stop offset="0.0505" stop-color="#097a99"/><stop offset="0.0606" stop-color="#088c74"/><stop offset="0.0707" stop-color="#0b964c"/><stop offset="0.0808" stop-color="#10a030"/><stop offset="0.9192" stop-color="#10a030"/><stop offset="0.9293" stop-color="#0b964c"/><stop offset="0.9394" stop-color="#088c74"/><stop offset="0.9495" stop-color="#097a99"/><stop offset="0.9596" stop-color="#0a60b0"/><stop offset="0.9697" stop-color="#0a44b5"/><stop offset="0.9798" stop-color="#0a269c"/><stop offset="0.9899" stop-color="#0b1166" stop-opacity="0.50"/><stop offset="1.0000" stop-color="#12063e" stop-opacity="0.00"/></linearGradient>
<linearGradient id="gB215" x1="0" y1="0" x2="0" y2="1"><stop offset="0.0000" stop-color="#12063e" stop-opacity="0.00"/><stop offset="0.0101" stop-color="#0a126b" stop-opacity="0.50"/><stop offset="0.0202" stop-color="#0a2ba6"/><stop offset="0.0303" stop-color="#0a4ab6"/><stop offset="0.0404" stop-color="#0a68ac"/><stop offset="0.0505" stop-color="#09828c"/><stop offset="0.0606" stop-color="#099062"/><stop offset="0.0707" stop-color="#0d9b3e"/><stop offset="0.0808" stop-color="#18a828"/><stop offset="0.9192" stop-color="#18a828"/><stop offset="0.9293" stop-color="#0d9b3e"/><stop offset="0.9394" stop-color="#099062"/><stop offset="0.9495" stop-color="#09828c"/><stop offset="0.9596" stop-color="#0a68ac"/><stop offset="0.9697" stop-color="#0a4ab6"/><stop offset="0.9798" stop-color="#0a2ba6"/><stop offset="0.9899" stop-color="#0a126b" stop-opacity="0.50"/><stop offset="1.0000" stop-color="#12063e" stop-opacity="0.00"/></linearGradient>
<linearGradient id="gB216" x1="0" y1="0" x2="0" y2="1"><stop offset="0.0000" stop-color="#12063e" stop-opacity="0.00"/><stop offset="0.0101" stop-color="#0a1470" stop-opacity="0.50"/><stop offset="0.0202" stop-color="#0a30b0"/><stop offset="0.0303" stop-color="#0a50b8"/><stop offset="0.0404" stop-color="#0a70a8"/><stop offset="0.0505" stop-color="#088a80"/><stop offset="0.0606" stop-color="#0a9450"/><stop offset="0.0707" stop-color="#10a030"/><stop offset="0.0808" stop-color="#20b020"/><stop offset="0.9192" stop-color="#20b020"/><stop offset="0.9293" stop-color="#10a030"/><stop offset="0.9394" stop-color="#0a9450"/><stop offset="0.9495" stop-color="#088a80"/><stop offset="0.9596" stop-color="#0a70a8"/><stop offset="0.9697" stop-color="#0a50b8"/><stop offset="0.9798" stop-color="#0a30b0"/><stop offset="0.9899" stop-color="#0a1470" stop-opacity="0.50"/><stop offset="1.0000" stop-color="#12063e" stop-opacity="0.00"/></linearGradient>
<linearGradient id="gB217" x1="0" y1="0" x2="0" y2="1"><stop offset="0.0000" stop-color="#12063e" stop-opacity="0.00"/><stop offset="0.0101" stop-color="#0a1573" stop-opacity="0.50"/><stop offset="0.0202" stop-color="#0a34b1"/><stop offset="0.0303" stop-color="#0a56b5"/><stop offset="0.0404" stop-color="#0a769e"/><stop offset="0.0505" stop-color="#098d71"/><stop offset="0.0606" stop-color="#0c9844"/><stop offset="0.0707" stop-color="#17a729"/><stop offset="0.0808" stop-color="#2eb31c"/><stop offset="0.9192" stop-color="#2eb31c"/><stop offset="0.9293" stop-color="#17a729"/><stop offset="0.9394" stop-color="#0c9844"/><stop offset="0.9495" stop-color="#098d71"/><stop offset="0.9596" stop-color="#0a769e"/><stop offset="0.9697" stop-color="#0a56b5"/><stop offset="0.9798" stop-color="#0a34b1"/><stop offset="0.9899" stop-color="#0a1573" stop-opacity="0.50"/><stop offset="1.0000" stop-color="#12063e" stop-opacity="0.00"/></linearGradient>
<linearGradient id="gB218" x1="0" y1="0" x2="0" y2="1"><stop offset="0.0000" stop-color="#12063e" stop-opacity="0.00"/><stop offset="0.0101" stop-color="#0a1677" stop-opacity="0.50"/><stop offset="0.0202" stop-color="#0a38b2"/><stop offset="0.0303" stop-color="#0a5cb2"/><stop offset="0.0404" stop-color="#097d94"/><stop offset="0.0505" stop-color="#099062"/><stop offset="0.0606" stop-color="#0e9d38"/><stop offset="0.0707" stop-color="#1eae22"/><stop offset="0.0808" stop-color="#3cb618"/><stop offset="0.9192" stop-color="#3cb618"/><stop offset="0.9293" stop-color="#1eae22"/><stop offset="0.9394" stop-color="#0e9d38"/><stop offset="0.9495" stop-color="#099062"/><stop offset="0.9596" stop-color="#097d94"/><stop offset="0.9697" stop-color="#0a5cb2"/><stop offset="0.9798" stop-color="#0a38b2"/><stop offset="0.9899" stop-color="#0a1677" stop-opacity="0.50"/><stop offset="1.0000" stop-color="#12063e" stop-opacity="0.00"/></linearGradient>
<linearGradient id="gB219" x1="0" y1="0" x2="0" y2="1"><stop offset="0.0000" stop-color="#12063e" stop-opacity="0.00"/><stop offset="0.0101" stop-color="#0a187a" stop-opacity="0.50"/><stop offset="0.0202" stop-color="#0a3cb3"/><stop offset="0.0303" stop-color="#0a62af"/><stop offset="0.0404" stop-color="#08848a"/><stop offset="0.0505" stop-color="#0a9353"/><stop offset="0.0606" stop-color="#12a22e"/><stop offset="0.0707" stop-color="#29b21e"/><stop offset="0.0808" stop-color="#4eb616"/><stop offset="0.9192" stop-color="#4eb616"/><stop offset="0.9293" stop-color="#29b21e"/><stop offset="0.9394" stop-color="#12a22e"/><stop offset="0.9495" stop-color="#0a9353"/><stop offset="0.9596" stop-color="#08848a"/><stop offset="0.9697" stop-color="#0a62af"/><stop offset="0.9798" stop-color="#0a3cb3"/><stop offset="0.9899" stop-color="#0a187a" stop-opacity="0.50"/><stop offset="1.0000" stop-color="#12063e" stop-opacity="0.00"/></linearGradient>
<linearGradient id="gB220" x1="0" y1="0" x2="0" y2="1"><stop offset="0.0000" stop-color="#12063e" stop-opacity="0.00"/><stop offset="0.0101" stop-color="#0a197d" stop-opacity="0.50"/><stop offset="0.0202" stop-color="#0a40b4"/><stop offset="0.0303" stop-color="#0a68ac"/><stop offset="0.0404" stop-color="#088a80"/><stop offset="0.0505" stop-color="#0c9748"/><stop offset="0.0606" stop-color="#18a828"/><stop offset="0.0707" stop-color="#35b41a"/><stop offset="0.0808" stop-color="#60b614"/><stop offset="0.9192" stop-color="#60b614"/><stop offset="0.9293" stop-color="#35b41a"/><stop offset="0.9394" stop-color="#18a828"/><stop offset="0.9495" stop-color="#0c9748"/><stop offset="0.9596" stop-color="#088a80"/><stop offset="0.9697" stop-color="#0a68ac"/><stop offset="0.9798" stop-color="#0a40b4"/><stop offset="0.9899" stop-color="#0a197d" stop-opacity="0.50"/><stop offset="1.0000" stop-color="#12063e" stop-opacity="0.00"/></linearGradient>
<linearGradient id="gB221" x1="0" y1="0" x2="0" y2="1"><stop offset="0.0000" stop-color="#12063e" stop-opacity="0.00"/><stop offset="0.0101" stop-color="#0a1a81" stop-opacity="0.50"/><stop offset="0.0202" stop-color="#0a44b5"/><stop offset="0.0303" stop-color="#0a6ea9"/><stop offset="0.0404" stop-color="#088c74"/><stop offset="0.0505" stop-color="#0d9b3e"/><stop offset="0.0606" stop-color="#1eae22"/><stop offset="0.0707" stop-color="#43b617"/><stop offset="0.0808" stop-color="#73b412"/><stop offset="0.9192" stop-color="#73b412"/><stop offset="0.9293" stop-color="#43b617"/><stop offset="0.9394" stop-color="#1eae22"/><stop offset="0.9495" stop-color="#0d9b3e"/><stop offset="0.9596" stop-color="#088c74"/><stop offset="0.9697" stop-color="#0a6ea9"/><stop offset="0.9798" stop-color="#0a44b5"/><stop offset="0.9899" stop-color="#0a1a81" stop-opacity="0.50"/><stop offset="1.0000" stop-color="#12063e" stop-opacity="0.00"/></linearGradient>
<linearGradient id="gB222" x1="0" y1="0" x2="0" y2="1"><stop offset="0.0000" stop-color="#12063e" stop-opacity="0.00"/><stop offset="0.0101" stop-color="#0a1c84" stop-opacity="0.50"/><stop offset="0.0202" stop-color="#0a48b6"/><stop offset="0.0303" stop-color="#0a73a3"/><stop offset="0.0404" stop-color="#098f68"/><stop offset="0.0505" stop-color="#0f9e34"/><stop offset="0.0606" stop-color="#27b21e"/><stop offset="0.0707" stop-color="#52b616"/><stop offset="0.0808" stop-color="#86b210"/><stop offset="0.9192" stop-color="#86b210"/><stop offset="0.9293" stop-color="#52b616"/><stop offset="0.9394" stop-color="#27b21e"/><stop offset="0.9495" stop-color="#0f9e34"/><stop offset="0.9596" stop-color="#098f68"/><stop offset="0.9697" stop-color="#0a73a3"/><stop offset="0.9798" stop-color="#0a48b6"/><stop offset="0.9899" stop-color="#0a1c84" stop-opacity="0.50"/><stop offset="1.0000" stop-color="#12063e" stop-opacity="0.00"/></linearGradient>
<linearGradient id="gB223" x1="0" y1="0" x2="0" y2="1"><stop offset="0.0000" stop-color="#12063e" stop-opacity="0.00"/><stop offset="0.0101" stop-color="#0a1d87" stop-opacity="0.50"/><stop offset="0.0202" stop-color="#0a4cb7"/><stop offset="0.0303" stop-color="#09789c"/><stop offset="0.0404" stop-color="#0a925c"/><stop offset="0.0505" stop-color="#13a32d"/><stop offset="0.0606" stop-color="#32b41b"/><stop offset="0.0707" stop-color="#62b614"/><stop offset="0.0808" stop-color="#96a910"/><stop offset="0.9192" stop-color="#96a910"/><stop offset="0.9293" stop-color="#62b614"/><stop offset="0.9394" stop-color="#32b41b"/><stop offset="0.9495" stop-color="#13a32d"/><stop offset="0.9596" stop-color="#0a925c"/><stop offset="0.9697" stop-color="#09789c"/><stop offset="0.9798" stop-color="#0a4cb7"/><stop offset="0.9899" stop-color="#0a1d87" stop-opacity="0.50"/><stop offset="1.0000" stop-color="#12063e" stop-opacity="0.00"/></linearGradient>
<linearGradient id="gB225" x1="0" y1="0" x2="0" y2="1"><stop offset="0.0000" stop-color="#12063e" stop-opacity="0.00"/><stop offset="0.0101" stop-color="#0a1f8e" stop-opacity="0.50"/><stop offset="0.0202" stop-color="#0a54b6"/><stop offset="0.0303" stop-color="#09828c"/><stop offset="0.0404" stop-color="#0c9748"/><stop offset="0.0505" stop-color="#1dad23"/><stop offset="0.0606" stop-color="#4ab616"/><stop offset="0.0707" stop-color="#84b210"/><stop offset="0.0808" stop-color="#b29410"/><stop offset="0.9192" stop-color="#b29410"/><stop offset="0.9293" stop-color="#84b210"/><stop offset="0.9394" stop-color="#4ab616"/><stop offset="0.9495" stop-color="#1dad23"/><stop offset="0.9596" stop-color="#0c9748"/><stop offset="0.9697" stop-color="#09828c"/><stop offset="0.9798" stop-color="#0a54b6"/><stop offset="0.9899" stop-color="#0a1f8e" stop-opacity="0.50"/><stop offset="1.0000" stop-color="#12063e" stop-opacity="0.00"/></linearGradient>
<clipPath id="mapclip"><path d="M1111.00 1139.50 L1111.11 1131.97 L1111.43 1124.45 L1111.97 1116.94 L1112.72 1109.45 L1113.68 1101.98 L1114.85 1094.54 L1116.24 1087.14 L1117.84 1079.77 L1119.65 1072.46 L1121.66 1065.20 L1123.88 1058.00 L1126.31 1050.86 L1128.94 1043.80 L1131.76 1036.81 L1134.79 1029.90 L1138.01 1023.08 L1141.43 1016.35 L1145.03 1009.72 L1148.82 1003.20 L1152.80 996.78 L1156.96 990.47 L1161.30 984.29 L1165.81 978.23 L1170.49 972.29 L1175.34 966.49 L1180.35 960.83 L1185.53 955.31 L1190.85 949.94 L1196.33 944.72 L1201.96 939.65 L1207.73 934.74 L1213.63 930.00 L1219.67 925.42 L1225.84 921.01 L1232.12 916.78 L1238.53 912.72 L1245.05 908.84 L1251.68 905.15 L1258.41 901.65 L1265.24 898.33 L1272.16 895.21 L1279.17 892.28 L1286.25 889.55 L1293.42 887.01 L1300.65 884.68 L1307.94 882.55 L1315.30 880.63 L1322.70 878.91 L1378.4 872.9 L1645.6 872.9 L1645.6 1139.5 Z"/></clipPath>
<clipPath id="naclip"><path d="M1220.2 956.9 L1229.0 952.4 L1239.8 948.0 L1227.3 947.1 L1227.3 943.6 L1239.8 940.0 L1238.0 936.4 L1243.3 933.8 L1252.2 930.2 L1270.0 927.6 L1287.8 930.2 L1305.6 932.9 L1314.4 933.8 L1332.2 931.1 L1339.4 930.3 L1358.3 936.0 L1377.2 938.8 L1396.1 937.9 L1410.3 941.7 L1419.7 937.9 L1429.2 943.5 L1435.0 946.0 L1440.0 950.0 L1445.5 954.3 L1457.5 954.3 L1465.0 957.3 L1465.8 964.8 L1472.5 966.3 L1480.0 970.0 L1487.5 976.0 L1493.5 981.3 L1495.0 986.5 L1489.8 991.0 L1480.0 991.0 L1472.5 992.5 L1465.0 994.0 L1457.5 997.0 L1455.0 1000.0 L1463.5 1002.0 L1470.0 1001.0 L1478.5 1000.0 L1480.0 1002.3 L1471.0 1007.5 L1463.5 1010.5 L1455.0 1010.5 L1448.5 1013.0 L1440.0 1019.0 L1433.0 1025.0 L1428.7 1031.0 L1424.0 1037.0 L1421.6 1042.2 L1411.7 1049.2 L1413.1 1056.3 L1413.1 1064.8 L1410.3 1062.0 L1406.1 1050.7 L1401.8 1050.7 L1393.3 1053.5 L1382.0 1053.5 L1373.5 1052.1 L1365.0 1053.5 L1359.3 1059.2 L1357.9 1070.5 L1359.3 1080.4 L1365.0 1083.2 L1372.0 1083.5 L1379.2 1083.2 L1382.0 1077.6 L1390.5 1076.1 L1389.0 1082.0 L1387.6 1084.6 L1390.5 1090.3 L1399.0 1096.0 L1400.4 1108.7 L1410.3 1111.6 L1416.0 1114.4 L1418.0 1117.5 L1413.1 1117.6 L1404.6 1115.8 L1393.3 1108.7 L1387.6 1101.6 L1376.3 1096.0 L1365.0 1093.1 L1350.8 1087.5 L1339.5 1081.8 L1336.7 1076.1 L1329.6 1062.0 L1322.5 1050.7 L1319.7 1045.0 L1313.0 1042.5 L1316.8 1050.0 L1322.5 1062.0 L1325.3 1070.5 L1319.7 1064.8 L1312.6 1056.3 L1311.2 1047.8 L1308.3 1039.3 L1301.2 1033.7 L1297.0 1019.5 L1301.2 1006.7 L1305.5 996.8 L1299.8 989.7 L1294.0 982.0 L1291.3 978.4 L1288.5 968.0 L1283.0 960.5 L1278.9 958.7 L1265.6 957.8 L1252.2 962.2 L1243.3 964.0 L1232.0 964.5 L1225.6 964.0 L1220.2 960.4 Z"/></clipPath>
<filter id="mblur" x="-20%" y="-20%" width="140%" height="140%"><feGaussianBlur stdDeviation="3.5"/></filter>
<filter id="mblur8" x="-30%" y="-30%" width="160%" height="160%"><feGaussianBlur stdDeviation="12"/></filter>
<filter id="mblur1" x="-10%" y="-10%" width="120%" height="120%"><feGaussianBlur stdDeviation="0.5"/></filter>
<filter id="rough" x="-10%" y="-10%" width="120%" height="120%"><feTurbulence type="fractalNoise" baseFrequency="0.18" numOctaves="2" seed="4" result="n"/><feDisplacementMap in="SourceGraphic" in2="n" scale="5" xChannelSelector="R" yChannelSelector="G"/></filter>
<linearGradient id="ocean" x1="0" y1="0" x2="0" y2="1"><stop offset="0" stop-color="#7eb1d7"/><stop offset="0.3" stop-color="#75a8cf"/><stop offset="1" stop-color="#6e9ec4"/></linearGradient>
<linearGradient id="trk" gradientUnits="userSpaceOnUse" x1="1455.6" y1="935" x2="1463.1" y2="956.8"><stop offset="0" stop-color="#5a20ff"/><stop offset="0.2" stop-color="#1010ff"/><stop offset="0.5" stop-color="#00e000"/><stop offset="0.75" stop-color="#f8f000"/><stop offset="1" stop-color="#ff4000"/></linearGradient>
<linearGradient id="nipy" x1="0" y1="1" x2="0" y2="0"><stop offset="0.000" stop-color="#000000"/><stop offset="0.025" stop-color="#380040"/><stop offset="0.050" stop-color="#700080"/><stop offset="0.075" stop-color="#7f0090"/><stop offset="0.100" stop-color="#870098"/><stop offset="0.125" stop-color="#4300a2"/><stop offset="0.150" stop-color="#0300aa"/><stop offset="0.175" stop-color="#0000c1"/><stop offset="0.200" stop-color="#0000dd"/><stop offset="0.225" stop-color="#0038dd"/><stop offset="0.250" stop-color="#0078dd"/><stop offset="0.275" stop-color="#0088dd"/><stop offset="0.300" stop-color="#0098dd"/><stop offset="0.325" stop-color="#00a2c3"/><stop offset="0.350" stop-color="#00aaab"/><stop offset="0.375" stop-color="#00aa98"/><stop offset="0.400" stop-color="#00aa88"/><stop offset="0.425" stop-color="#00a248"/><stop offset="0.450" stop-color="#009a00"/><stop offset="0.475" stop-color="#00aa00"/><stop offset="0.500" stop-color="#00bc00"/><stop offset="0.525" stop-color="#00cc00"/><stop offset="0.550" stop-color="#00dc00"/><stop offset="0.575" stop-color="#00ef00"/><stop offset="0.600" stop-color="#00ff00"/><stop offset="0.625" stop-color="#67ff00"/><stop offset="0.650" stop-color="#bcff00"/><stop offset="0.675" stop-color="#d4f700"/><stop offset="0.700" stop-color="#efed00"/><stop offset="0.725" stop-color="#f7dd00"/><stop offset="0.750" stop-color="#ffc900"/><stop offset="0.775" stop-color="#ffb100"/><stop offset="0.800" stop-color="#ff9900"/><stop offset="0.825" stop-color="#ff4500"/><stop offset="0.850" stop-color="#fe0000"/><stop offset="0.875" stop-color="#ec0000"/><stop offset="0.900" stop-color="#dc0000"/><stop offset="0.925" stop-color="#d40000"/><stop offset="0.950" stop-color="#cc0c0c"/><stop offset="0.975" stop-color="#cc6c6c"/><stop offset="1.000" stop-color="#cccccc"/></linearGradient>
<linearGradient id="altcm" x1="0" y1="1" x2="0" y2="0"><stop offset="0.0" stop-color="#9a40ff"/><stop offset="0.25" stop-color="#0000ff"/><stop offset="0.5" stop-color="#00ff00"/><stop offset="0.75" stop-color="#ffff00"/><stop offset="1.0" stop-color="#ff0000"/></linearGradient></defs><rect width="1800" height="1200" fill="#fff"/>
<path d="M208.5 60.0 L239.5 6.0 L302.0 6.0 L333.0 60.0 L302.0 114.0 L239.5 114.0 Z" fill="#fff" stroke="#bfe3ea" stroke-width="1"/>
<g clip-path="url(#hexin)">
<rect x="210" y="10" width="122" height="100" fill="#05070c"/>
<path d="M205 70 Q 260 50 335 50 L335 64 Q 260 66 205 88 Z" fill="url(#aur)" opacity="0.95"/>
<path d="M205 86 Q 265 66 335 61 L335 115 L205 115 Z" fill="url(#earth)"/>
<path d="M205 86 Q 265 66 335 61" fill="none" stroke="#e8f6fc" stroke-width="1.8"/>
<path d="M236 115 L236 103 Q 262 88 300 86 L 315 80 L 335 80 L335 115 Z" fill="#ffffff"/>
<path d="M296 86 L 318 75 L 310 100 Z" fill="#2f6fc0" opacity="0.85"/>
<circle cx="245" cy="26" r="0.8" fill="#c8c8ff"/>
<circle cx="222" cy="56" r="0.8" fill="#c8c8ff"/>
<circle cx="300" cy="24" r="0.8" fill="#c8c8ff"/>
<circle cx="314" cy="36" r="0.8" fill="#c8c8ff"/>
<circle cx="262" cy="20" r="0.8" fill="#c8c8ff"/>
<circle cx="288" cy="46" r="0.8" fill="#c8c8ff"/>
<g transform="rotate(28 267 46)"><rect x="254" y="36" width="24" height="19" fill="#3a78c8"/><rect x="254" y="36" width="24" height="4" fill="#5a94d8"/><rect x="272" y="40" width="8" height="16" fill="#c89a40"/></g>
<path d="M238 55 L252 51" stroke="#e0a050" stroke-width="2"/>
<path d="M253 30 L258 40 M272 60 L296 95 M260 58 L252 70" stroke="#c0c0c0" stroke-width="0.7"/>
<circle cx="266" cy="93" r="3.8" fill="#2f6fb8"/>
</g>
<text x="248.5" y="107.3" font-size="8.2" font-family="Liberation Serif" font-weight="bold" fill="#2a9ad8" textLength="43" lengthAdjust="spacingAndGlyphs">CASSIOPE</text>
<g clip-path="url(#esag)">
<g fill="none" stroke="#3c74c4" stroke-width="1.3"><circle cx="1530.2" cy="62.6" r="21.60"/><circle cx="1530.2" cy="62.6" r="23.85"/><circle cx="1530.2" cy="62.6" r="26.10"/><circle cx="1530.2" cy="62.6" r="28.35"/><circle cx="1530.2" cy="62.6" r="30.60"/><circle cx="1530.2" cy="62.6" r="32.85"/><circle cx="1530.2" cy="62.6" r="35.10"/><circle cx="1530.2" cy="62.6" r="37.35"/><circle cx="1530.2" cy="62.6" r="39.60"/><circle cx="1530.2" cy="62.6" r="41.85"/><circle cx="1530.2" cy="62.6" r="44.10"/><circle cx="1530.2" cy="62.6" r="46.35"/><circle cx="1530.2" cy="62.6" r="48.60"/><circle cx="1530.2" cy="62.6" r="50.85"/><circle cx="1530.2" cy="62.6" r="53.10"/><circle cx="1530.2" cy="62.6" r="55.35"/><circle cx="1530.2" cy="62.6" r="57.60"/><circle cx="1530.2" cy="62.6" r="59.85"/><circle cx="1530.2" cy="62.6" r="62.10"/><circle cx="1530.2" cy="62.6" r="64.35"/><circle cx="1530.2" cy="62.6" r="66.60"/><circle cx="1530.2" cy="62.6" r="68.85"/><circle cx="1530.2" cy="62.6" r="71.10"/><circle cx="1530.2" cy="62.6" r="73.35"/><circle cx="1530.2" cy="62.6" r="75.60"/><circle cx="1530.2" cy="62.6" r="77.85"/></g>
<circle cx="1530.2" cy="62.6" r="21.0" fill="#fff"/>
<g clip-path="url(#esae)" fill="#3c74c4"><rect x="1513" y="47.60" width="35" height="1.3"/><rect x="1513" y="49.85" width="35" height="1.3"/><rect x="1513" y="52.10" width="35" height="1.3"/><rect x="1513" y="54.35" width="35" height="1.3"/><rect x="1513" y="56.60" width="35" height="1.3"/><rect x="1513" y="58.85" width="35" height="1.3"/><rect x="1513" y="61.10" width="35" height="1.3"/><rect x="1513" y="63.35" width="35" height="1.3"/><rect x="1513" y="65.60" width="35" height="1.3"/><rect x="1513" y="67.85" width="35" height="1.3"/><rect x="1513" y="70.10" width="35" height="1.3"/><rect x="1513" y="72.35" width="35" height="1.3"/><rect x="1513" y="74.60" width="35" height="1.3"/><rect x="1513" y="76.85" width="35" height="1.3"/></g>
<rect x="1518" y="59.5" width="30" height="3.6" fill="#fff"/>
<rect x="1535" y="52.5" width="13" height="7.5" fill="#fff"/>
<circle cx="1487" cy="61.2" r="4.0" fill="#fff"/>
</g>
<text transform="translate(1551.56 83.4) scale(1.0477 1)" x="0" y="0" font-size="78" font-weight="bold" fill="#1c2c88">e</text>
<text transform="translate(1597.11 83.4) scale(0.9227 1)" x="0" y="0" font-size="78" font-weight="bold" fill="#1c2c88">s</text>
<text transform="translate(1638.28 83.4) scale(0.9207 1)" x="0" y="0" font-size="78" font-weight="bold" fill="#1c2c88">a</text>
<text x="609.27 636.96 650.85 679.88 714.29 744.75 757.07 788.78 822.15 836.14 849.21 887.01 915.92 928.06 953.82 980.12 992.31 1020.23 1048.77 1074.63 1086.20 1117.10 1129.28 1158.95" y="47.20" font-size="48.56" transform="scale(1.0108 1)">e-POP RRI Quicklook Plot</text>
<text x="709.80 744.78 769.58 792.28 804.80 829.69 854.50 866.94 879.45 904.34 929.24 954.13" y="96.10" font-size="44.15" transform="scale(1.0651 1)">May 09, 2018</text>
<rect x="198.00" y="144.00" width="1447.00" height="267.00" fill="#0c0630"/>
<rect x="198.00" y="144.00" width="1447.00" height="267.00" filter="url(#bgn)"/>
<rect x="198.00" y="233.50" width="1447.00" height="1" fill="#2050c0" fill-opacity="0.11"/>
<rect x="409.00" y="144.00" width="1" height="267.00" fill="#0a46c0" fill-opacity="0.9"/>
<rect x="413.00" y="144.00" width="1" height="267.00" fill="#0a64b4" fill-opacity="0.9"/>
<rect x="416.00" y="144.00" width="1" height="267.00" fill="#0a3cb0" fill-opacity="0.8"/>
<rect x="426.00" y="144.00" width="1" height="267.00" fill="#0a30b0" fill-opacity="0.6"/>
<rect x="501.50" y="144.00" width="1" height="267.00" fill="#0a30b0" fill-opacity="0.35"/>
<rect x="562.50" y="144.00" width="1" height="267.00" fill="#0a30b0" fill-opacity="0.3"/>
<rect x="621.10" y="144.00" width="1" height="267.00" fill="#0a30b0" fill-opacity="0.35"/>
<rect x="198.00" y="436.00" width="1447.00" height="267.00" fill="#0c0630"/>
<rect x="198.00" y="436.00" width="1447.00" height="267.00" filter="url(#bgn)"/>
<rect x="198.00" y="525.50" width="1447.00" height="1" fill="#2050c0" fill-opacity="0.11"/>
<rect x="409.00" y="436.00" width="1" height="267.00" fill="#0a46c0" fill-opacity="0.9"/>
<rect x="413.00" y="436.00" width="1" height="267.00" fill="#0a64b4" fill-opacity="0.9"/>
<rect x="416.00" y="436.00" width="1" height="267.00" fill="#0a3cb0" fill-opacity="0.8"/>
<rect x="426.00" y="436.00" width="1" height="267.00" fill="#0a30b0" fill-opacity="0.6"/>
<rect x="501.50" y="436.00" width="1" height="267.00" fill="#0a30b0" fill-opacity="0.35"/>
<rect x="562.50" y="436.00" width="1" height="267.00" fill="#0a30b0" fill-opacity="0.3"/>
<rect x="621.10" y="436.00" width="1" height="267.00" fill="#0a30b0" fill-opacity="0.35"/>
<g shape-rendering="crispEdges">
<rect x="489.0" y="241.5" width="1.0" height="86.2" fill="url(#gA120)"/>
<rect x="490.0" y="242.2" width="1.0" height="85.0" fill="url(#gA120)"/>
<rect x="491.0" y="241.2" width="1.0" height="86.9" fill="url(#gA121)"/>
<rect x="492.0" y="243.1" width="1.0" height="83.9" fill="url(#gA121)"/>
<rect x="493.0" y="241.2" width="1.0" height="87.4" fill="url(#gA121)"/>
<rect x="494.0" y="241.6" width="1.0" height="85.2" fill="url(#gA120)"/>
<rect x="495.0" y="242.6" width="1.0" height="84.2" fill="url(#gA118)"/>
<rect x="496.0" y="242.9" width="1.0" height="85.8" fill="url(#gA123)"/>
<rect x="497.0" y="242.9" width="1.0" height="85.3" fill="url(#gA120)"/>
<rect x="498.0" y="241.4" width="1.0" height="86.7" fill="url(#gA121)"/>
<rect x="499.0" y="241.4" width="1.0" height="87.5" fill="url(#gA119)"/>
<rect x="500.0" y="242.7" width="1.0" height="85.4" fill="url(#gA121)"/>
<rect x="501.0" y="243.1" width="1.0" height="83.8" fill="url(#gA125)"/>
<rect x="502.0" y="243.2" width="1.0" height="85.6" fill="url(#gA126)"/>
<rect x="503.0" y="241.2" width="1.0" height="86.4" fill="url(#gA125)"/>
<rect x="504.0" y="242.5" width="1.0" height="84.5" fill="url(#gA114)"/>
<rect x="505.0" y="242.7" width="1.0" height="85.0" fill="url(#gA123)"/>
<rect x="506.0" y="242.7" width="1.0" height="85.3" fill="url(#gA120)"/>
<rect x="507.0" y="242.3" width="1.0" height="85.5" fill="url(#gA110)"/>
<rect x="508.0" y="241.3" width="1.0" height="87.4" fill="url(#gA121)"/>
<rect x="509.0" y="241.2" width="1.0" height="87.9" fill="url(#gA119)"/>
<rect x="510.0" y="241.2" width="1.0" height="86.3" fill="url(#gA122)"/>
<rect x="511.0" y="240.8" width="1.0" height="87.2" fill="url(#gA116)"/>
<rect x="512.0" y="242.3" width="1.0" height="86.5" fill="url(#gA124)"/>
<rect x="513.0" y="242.7" width="1.0" height="86.4" fill="url(#gA121)"/>
<rect x="514.0" y="241.4" width="1.0" height="87.5" fill="url(#gA121)"/>
<rect x="515.0" y="241.3" width="1.0" height="87.2" fill="url(#gA121)"/>
<rect x="516.0" y="241.4" width="1.0" height="86.4" fill="url(#gA120)"/>
<rect x="517.0" y="242.0" width="1.0" height="85.4" fill="url(#gA113)"/>
<rect x="518.0" y="241.3" width="1.0" height="85.8" fill="url(#gA119)"/>
<rect x="519.0" y="242.1" width="1.0" height="86.4" fill="url(#gA121)"/>
<rect x="520.0" y="242.8" width="1.0" height="84.7" fill="url(#gA119)"/>
<rect x="521.0" y="242.2" width="1.0" height="86.1" fill="url(#gA119)"/>
<rect x="522.0" y="241.7" width="1.0" height="86.8" fill="url(#gA114)"/>
<rect x="523.0" y="241.8" width="1.0" height="86.1" fill="url(#gA122)"/>
<rect x="524.0" y="242.6" width="1.0" height="85.4" fill="url(#gA121)"/>
<rect x="525.0" y="243.1" width="1.0" height="85.4" fill="url(#gA13)"/>
<rect x="526.0" y="243.1" width="1.0" height="83.8" fill="url(#gA14)"/>
<rect x="527.0" y="241.3" width="1.0" height="86.4" fill="url(#gA19)"/>
<rect x="528.0" y="242.6" width="1.0" height="86.3" fill="url(#gA19)"/>
<rect x="529.0" y="241.0" width="1.0" height="86.4" fill="url(#gA111)"/>
<rect x="530.0" y="242.8" width="1.0" height="84.6" fill="url(#gA111)"/>
<rect x="531.0" y="242.1" width="1.0" height="86.7" fill="url(#gA110)"/>
<rect x="532.0" y="241.6" width="1.0" height="85.3" fill="url(#gA110)"/>
<rect x="533.0" y="242.2" width="1.0" height="85.5" fill="url(#gA117)"/>
<rect x="534.0" y="241.6" width="1.0" height="87.4" fill="url(#gA116)"/>
<rect x="535.0" y="242.5" width="1.0" height="85.4" fill="url(#gA117)"/>
<rect x="536.0" y="242.7" width="1.0" height="84.5" fill="url(#gA117)"/>
<rect x="537.0" y="241.3" width="1.0" height="86.6" fill="url(#gA114)"/>
<rect x="538.0" y="242.5" width="1.0" height="86.5" fill="url(#gA19)"/>
<rect x="539.0" y="240.9" width="1.0" height="87.1" fill="url(#gA114)"/>
<rect x="540.0" y="241.6" width="1.0" height="87.2" fill="url(#gA116)"/>
<rect x="541.0" y="241.2" width="1.0" height="88.0" fill="url(#gA116)"/>
<rect x="542.0" y="241.3" width="1.0" height="87.8" fill="url(#gA122)"/>
<rect x="543.0" y="242.1" width="1.0" height="84.9" fill="url(#gA120)"/>
<rect x="544.0" y="241.4" width="1.0" height="87.3" fill="url(#gA122)"/>
<rect x="545.0" y="243.3" width="1.0" height="86.0" fill="url(#gA122)"/>
<rect x="546.0" y="243.1" width="1.0" height="85.2" fill="url(#gA122)"/>
<rect x="547.0" y="242.7" width="1.0" height="86.3" fill="url(#gA123)"/>
<rect x="548.0" y="241.4" width="1.0" height="87.4" fill="url(#gA19)"/>
<rect x="549.0" y="241.5" width="1.0" height="85.9" fill="url(#gA116)"/>
<rect x="550.0" y="241.4" width="1.0" height="86.3" fill="url(#gA114)"/>
<rect x="551.0" y="242.5" width="1.0" height="86.5" fill="url(#gA115)"/>
<rect x="552.0" y="241.2" width="1.0" height="85.8" fill="url(#gA114)"/>
<rect x="553.0" y="241.9" width="1.0" height="86.7" fill="url(#gA16)"/>
<rect x="554.0" y="241.2" width="1.0" height="86.3" fill="url(#gA12)"/>
<rect x="555.0" y="242.7" width="1.0" height="86.6" fill="url(#gA119)"/>
<rect x="556.0" y="242.3" width="1.0" height="86.2" fill="url(#gA122)"/>
<rect x="557.0" y="242.6" width="1.0" height="84.3" fill="url(#gA121)"/>
<rect x="558.0" y="243.1" width="1.0" height="85.5" fill="url(#gA118)"/>
<rect x="559.0" y="241.9" width="1.0" height="85.6" fill="url(#gA114)"/>
<rect x="560.0" y="241.5" width="1.0" height="85.6" fill="url(#gA122)"/>
<rect x="561.0" y="241.0" width="1.0" height="87.3" fill="url(#gA120)"/>
<rect x="562.0" y="242.8" width="1.0" height="84.9" fill="url(#gA122)"/>
<rect x="563.0" y="241.6" width="1.0" height="85.8" fill="url(#gA125)"/>
<rect x="564.0" y="242.6" width="1.0" height="85.3" fill="url(#gA125)"/>
<rect x="565.0" y="242.3" width="1.0" height="87.0" fill="url(#gA122)"/>
<rect x="566.0" y="242.2" width="1.0" height="86.3" fill="url(#gA121)"/>
<rect x="567.0" y="241.3" width="1.0" height="86.6" fill="url(#gA125)"/>
<rect x="568.0" y="242.7" width="1.0" height="86.2" fill="url(#gA120)"/>
<rect x="569.0" y="241.9" width="1.0" height="85.3" fill="url(#gA120)"/>
<rect x="570.0" y="242.5" width="1.0" height="86.2" fill="url(#gA121)"/>
<rect x="571.0" y="241.3" width="1.0" height="85.7" fill="url(#gA112)"/>
<rect x="572.0" y="242.6" width="1.0" height="86.6" fill="url(#gA114)"/>
<rect x="573.0" y="241.7" width="1.0" height="85.3" fill="url(#gA125)"/>
<rect x="574.0" y="242.4" width="1.0" height="85.7" fill="url(#gA126)"/>
<rect x="575.0" y="242.8" width="1.0" height="85.1" fill="url(#gA125)"/>
<rect x="576.0" y="242.3" width="1.0" height="86.8" fill="url(#gA127)"/>
<rect x="577.0" y="241.0" width="1.0" height="87.8" fill="url(#gA126)"/>
<rect x="578.0" y="243.3" width="1.0" height="84.2" fill="url(#gA121)"/>
<rect x="579.0" y="242.4" width="1.0" height="86.7" fill="url(#gA120)"/>
<rect x="580.0" y="241.2" width="1.0" height="86.2" fill="url(#gA122)"/>
<rect x="581.0" y="242.8" width="1.0" height="86.1" fill="url(#gA124)"/>
<rect x="582.0" y="241.1" width="1.0" height="87.4" fill="url(#gA123)"/>
<rect x="583.0" y="242.5" width="1.0" height="85.9" fill="url(#gA123)"/>
<rect x="584.0" y="243.3" width="1.0" height="84.4" fill="url(#gA122)"/>
<rect x="585.0" y="242.0" width="1.0" height="86.5" fill="url(#gA122)"/>
<rect x="586.0" y="241.2" width="1.0" height="87.4" fill="url(#gA120)"/>
<rect x="587.0" y="241.4" width="1.0" height="86.2" fill="url(#gA119)"/>
<rect x="588.0" y="243.2" width="1.0" height="83.9" fill="url(#gA119)"/>
<rect x="589.0" y="241.5" width="1.0" height="87.8" fill="url(#gA123)"/>
<rect x="590.0" y="241.3" width="1.0" height="85.8" fill="url(#gA119)"/>
<rect x="591.0" y="243.3" width="1.0" height="85.3" fill="url(#gA112)"/>
<rect x="592.0" y="242.2" width="1.0" height="85.1" fill="url(#gA121)"/>
<rect x="593.0" y="242.9" width="1.0" height="84.9" fill="url(#gA114)"/>
<rect x="594.0" y="241.8" width="1.0" height="85.7" fill="url(#gA118)"/>
<rect x="595.0" y="241.4" width="1.0" height="86.7" fill="url(#gA14)"/>
<rect x="596.0" y="242.3" width="1.0" height="85.0" fill="url(#gA14)"/>
<rect x="597.0" y="241.3" width="1.0" height="87.3" fill="url(#gA115)"/>
<rect x="598.0" y="242.4" width="1.0" height="86.8" fill="url(#gA114)"/>
<rect x="599.0" y="241.9" width="1.0" height="86.1" fill="url(#gA114)"/>
<rect x="600.0" y="241.2" width="1.0" height="88.0" fill="url(#gA116)"/>
<rect x="601.0" y="241.4" width="1.0" height="87.1" fill="url(#gA113)"/>
<rect x="602.0" y="242.9" width="1.0" height="85.1" fill="url(#gA113)"/>
<rect x="603.0" y="241.3" width="1.0" height="86.3" fill="url(#gA116)"/>
<rect x="604.0" y="242.3" width="1.0" height="86.7" fill="url(#gA13)"/>
<rect x="605.0" y="241.7" width="1.0" height="87.3" fill="url(#gA14)"/>
<rect x="606.0" y="242.6" width="1.0" height="85.7" fill="url(#gA19)"/>
<rect x="607.0" y="241.9" width="1.0" height="85.8" fill="url(#gA112)"/>
<rect x="608.0" y="243.2" width="1.0" height="85.6" fill="url(#gA19)"/>
<rect x="609.0" y="241.3" width="1.0" height="86.9" fill="url(#gA110)"/>
<rect x="610.0" y="241.9" width="1.0" height="86.4" fill="url(#gA110)"/>
<rect x="611.0" y="243.3" width="1.0" height="85.6" fill="url(#gA114)"/>
<rect x="612.0" y="242.9" width="1.0" height="84.6" fill="url(#gA15)"/>
<rect x="613.0" y="241.3" width="1.0" height="85.8" fill="url(#gA16)"/>
<rect x="614.0" y="243.2" width="1.0" height="84.4" fill="url(#gA16)"/>
<rect x="615.0" y="241.0" width="1.0" height="87.4" fill="url(#gA123)"/>
<rect x="616.0" y="242.5" width="1.0" height="84.5" fill="url(#gA121)"/>
<rect x="617.0" y="241.2" width="1.0" height="86.8" fill="url(#gA122)"/>
<rect x="618.0" y="241.8" width="1.0" height="86.3" fill="url(#gA121)"/>
<rect x="619.0" y="243.1" width="1.0" height="84.9" fill="url(#gA124)"/>
<rect x="620.0" y="242.7" width="1.0" height="85.2" fill="url(#gA123)"/>
<rect x="621.0" y="241.9" width="1.0" height="87.5" fill="url(#gA120)"/>
<rect x="622.0" y="243.0" width="1.0" height="84.9" fill="url(#gA124)"/>
<rect x="623.0" y="241.3" width="1.0" height="86.7" fill="url(#gA124)"/>
<rect x="624.0" y="242.4" width="1.0" height="86.2" fill="url(#gA124)"/>
<rect x="625.0" y="241.3" width="1.0" height="86.6" fill="url(#gA118)"/>
<rect x="626.0" y="241.5" width="1.0" height="86.5" fill="url(#gA126)"/>
<rect x="627.0" y="241.8" width="1.0" height="86.1" fill="url(#gA127)"/>
<rect x="628.0" y="242.0" width="1.0" height="85.5" fill="url(#gA122)"/>
<rect x="629.0" y="241.9" width="1.0" height="85.1" fill="url(#gA121)"/>
<rect x="630.0" y="242.2" width="1.0" height="86.2" fill="url(#gA119)"/>
<rect x="631.0" y="242.1" width="1.0" height="85.3" fill="url(#gA15)"/>
<rect x="632.0" y="241.4" width="1.0" height="86.0" fill="url(#gA11)"/>
<rect x="633.0" y="241.8" width="1.0" height="86.2" fill="url(#gA111)"/>
<rect x="634.0" y="242.0" width="1.0" height="86.3" fill="url(#gA115)"/>
<rect x="635.0" y="242.9" width="1.0" height="85.3" fill="url(#gA116)"/>
<rect x="636.0" y="242.4" width="1.0" height="84.8" fill="url(#gA117)"/>
<rect x="637.0" y="241.9" width="1.0" height="87.5" fill="url(#gA116)"/>
<rect x="638.0" y="242.7" width="1.0" height="85.6" fill="url(#gA117)"/>
<rect x="639.0" y="243.1" width="1.0" height="85.0" fill="url(#gA116)"/>
<rect x="640.0" y="242.8" width="1.0" height="85.6" fill="url(#gA115)"/>
<rect x="641.0" y="241.9" width="1.0" height="85.9" fill="url(#gA114)"/>
<rect x="642.0" y="243.3" width="1.0" height="84.0" fill="url(#gA117)"/>
<rect x="643.0" y="242.1" width="1.0" height="86.8" fill="url(#gA117)"/>
<rect x="644.0" y="242.7" width="1.0" height="86.0" fill="url(#gA116)"/>
<rect x="645.0" y="241.5" width="1.0" height="85.6" fill="url(#gA14)"/>
<rect x="646.0" y="243.5" width="1.0" height="85.2" fill="url(#gA15)"/>
<rect x="647.0" y="241.9" width="1.0" height="87.1" fill="url(#gA14)"/>
<rect x="648.0" y="243.3" width="1.0" height="85.9" fill="url(#gA16)"/>
<rect x="649.0" y="241.6" width="1.0" height="87.5" fill="url(#gA14)"/>
<rect x="650.0" y="242.9" width="1.0" height="86.5" fill="url(#gA122)"/>
<rect x="651.0" y="241.4" width="1.0" height="86.9" fill="url(#gA121)"/>
<rect x="652.0" y="242.6" width="1.0" height="85.3" fill="url(#gA119)"/>
<rect x="653.0" y="242.8" width="1.0" height="85.1" fill="url(#gA123)"/>
<rect x="654.0" y="243.4" width="1.0" height="84.5" fill="url(#gA125)"/>
<rect x="655.0" y="242.1" width="1.0" height="86.0" fill="url(#gA124)"/>
<rect x="656.0" y="242.6" width="1.0" height="85.8" fill="url(#gA123)"/>
<rect x="657.0" y="241.8" width="1.0" height="86.2" fill="url(#gA127)"/>
<rect x="658.0" y="242.3" width="1.0" height="86.1" fill="url(#gA127)"/>
<rect x="659.0" y="242.3" width="1.0" height="86.8" fill="url(#gA125)"/>
<rect x="660.0" y="243.2" width="1.0" height="85.8" fill="url(#gA120)"/>
<rect x="661.0" y="242.8" width="1.0" height="84.9" fill="url(#gA122)"/>
<rect x="662.0" y="242.5" width="1.0" height="86.4" fill="url(#gA115)"/>
<rect x="663.0" y="241.2" width="1.0" height="87.6" fill="url(#gA124)"/>
<rect x="664.0" y="242.3" width="1.0" height="86.1" fill="url(#gA14)"/>
<rect x="665.0" y="243.0" width="1.0" height="84.9" fill="url(#gA115)"/>
<rect x="666.0" y="242.5" width="1.0" height="85.9" fill="url(#gA115)"/>
<rect x="667.0" y="242.1" width="1.0" height="87.1" fill="url(#gA115)"/>
<rect x="668.0" y="243.4" width="1.0" height="84.2" fill="url(#gA116)"/>
<rect x="669.0" y="243.3" width="1.0" height="86.1" fill="url(#gA115)"/>
<rect x="670.0" y="242.0" width="1.0" height="85.7" fill="url(#gA113)"/>
<rect x="671.0" y="242.9" width="1.0" height="86.6" fill="url(#gA116)"/>
<rect x="672.0" y="243.1" width="1.0" height="86.2" fill="url(#gA113)"/>
<rect x="673.0" y="243.4" width="1.0" height="85.0" fill="url(#gA13)"/>
<rect x="674.0" y="241.1" width="1.0" height="86.8" fill="url(#gA17)"/>
<rect x="675.0" y="241.7" width="1.0" height="85.6" fill="url(#gA16)"/>
<rect x="676.0" y="243.2" width="1.0" height="84.5" fill="url(#gA16)"/>
<rect x="677.0" y="242.8" width="1.0" height="84.6" fill="url(#gA11)"/>
<rect x="678.0" y="241.9" width="1.0" height="87.5" fill="url(#gA14)"/>
<rect x="679.0" y="241.3" width="1.0" height="86.7" fill="url(#gA18)"/>
<rect x="680.0" y="243.2" width="1.0" height="84.2" fill="url(#gA18)"/>
<rect x="681.0" y="243.2" width="1.0" height="85.3" fill="url(#gA19)"/>
<rect x="682.0" y="243.3" width="1.0" height="84.2" fill="url(#gA19)"/>
<rect x="683.0" y="242.8" width="1.0" height="86.4" fill="url(#gA111)"/>
<rect x="684.0" y="242.7" width="1.0" height="85.9" fill="url(#gA110)"/>
<rect x="685.0" y="243.1" width="1.0" height="86.0" fill="url(#gA14)"/>
<rect x="686.0" y="242.8" width="1.0" height="84.6" fill="url(#gA14)"/>
<rect x="687.0" y="241.6" width="1.0" height="86.4" fill="url(#gA14)"/>
<rect x="688.0" y="241.8" width="1.0" height="87.6" fill="url(#gA16)"/>
<rect x="689.0" y="243.0" width="1.0" height="84.2" fill="url(#gA16)"/>
<rect x="690.0" y="241.3" width="1.0" height="87.2" fill="url(#gA15)"/>
<rect x="691.0" y="241.4" width="1.0" height="86.7" fill="url(#gA16)"/>
<rect x="692.0" y="242.5" width="1.0" height="85.4" fill="url(#gA16)"/>
<rect x="693.0" y="241.2" width="1.0" height="87.2" fill="url(#gA16)"/>
<rect x="694.0" y="243.2" width="1.0" height="84.4" fill="url(#gA12)"/>
<rect x="695.0" y="243.1" width="1.0" height="86.3" fill="url(#gA17)"/>
<rect x="696.0" y="243.3" width="1.0" height="83.9" fill="url(#gA18)"/>
<rect x="697.0" y="243.6" width="1.0" height="85.3" fill="url(#gA18)"/>
<rect x="698.0" y="242.9" width="1.0" height="84.4" fill="url(#gA14)"/>
<rect x="699.0" y="241.8" width="1.0" height="87.0" fill="url(#gA14)"/>
<rect x="700.0" y="242.1" width="1.0" height="86.3" fill="url(#gA14)"/>
<rect x="701.0" y="241.8" width="1.0" height="85.4" fill="url(#gA14)"/>
<rect x="702.0" y="241.4" width="1.0" height="87.5" fill="url(#gA15)"/>
<rect x="703.0" y="242.8" width="1.0" height="84.9" fill="url(#gA14)"/>
<rect x="704.0" y="243.0" width="1.0" height="85.7" fill="url(#gA19)"/>
<rect x="705.0" y="243.4" width="1.0" height="84.9" fill="url(#gA18)"/>
<rect x="706.0" y="242.3" width="1.0" height="86.8" fill="url(#gA18)"/>
<rect x="707.0" y="242.2" width="1.0" height="86.0" fill="url(#gA18)"/>
<rect x="708.0" y="241.8" width="1.0" height="87.5" fill="url(#gA15)"/>
<rect x="709.0" y="243.4" width="1.0" height="84.8" fill="url(#gA14)"/>
<rect x="710.0" y="241.4" width="1.0" height="87.8" fill="url(#gA13)"/>
<rect x="711.0" y="241.8" width="1.0" height="85.7" fill="url(#gA19)"/>
<rect x="712.0" y="242.9" width="1.0" height="86.2" fill="url(#gA17)"/>
<rect x="713.0" y="241.8" width="1.0" height="87.3" fill="url(#gA13)"/>
<rect x="714.0" y="242.5" width="1.0" height="85.5" fill="url(#gA11)"/>
<rect x="715.0" y="241.6" width="1.0" height="86.0" fill="url(#gA14)"/>
<rect x="716.0" y="243.0" width="1.0" height="85.1" fill="url(#gA15)"/>
<rect x="717.0" y="243.1" width="1.0" height="85.2" fill="url(#gA14)"/>
<rect x="718.0" y="242.1" width="1.0" height="86.8" fill="url(#gA16)"/>
<rect x="719.0" y="243.3" width="1.0" height="85.1" fill="url(#gA16)"/>
<rect x="720.0" y="241.9" width="1.0" height="85.7" fill="url(#gA16)"/>
<rect x="721.0" y="241.9" width="1.0" height="85.6" fill="url(#gA18)"/>
<rect x="722.0" y="243.5" width="1.0" height="85.5" fill="url(#gA14)"/>
<rect x="723.0" y="243.4" width="1.0" height="85.8" fill="url(#gA17)"/>
<rect x="724.0" y="243.3" width="1.0" height="86.3" fill="url(#gA16)"/>
<rect x="725.0" y="243.3" width="1.0" height="85.3" fill="url(#gA16)"/>
<rect x="726.0" y="241.4" width="1.0" height="85.8" fill="url(#gA15)"/>
<rect x="727.0" y="241.9" width="1.0" height="86.4" fill="url(#gA14)"/>
<rect x="728.0" y="242.4" width="1.0" height="85.2" fill="url(#gA13)"/>
<rect x="729.0" y="243.4" width="1.0" height="84.8" fill="url(#gA15)"/>
<rect x="730.0" y="241.3" width="1.0" height="87.5" fill="url(#gA12)"/>
<rect x="731.0" y="242.2" width="1.0" height="86.1" fill="url(#gA11)"/>
<rect x="732.0" y="241.3" width="1.0" height="87.9" fill="url(#gA16)"/>
<rect x="733.0" y="242.2" width="1.0" height="87.0" fill="url(#gA110)"/>
<rect x="734.0" y="242.5" width="1.0" height="85.4" fill="url(#gA19)"/>
<rect x="735.0" y="241.5" width="1.0" height="87.3" fill="url(#gA17)"/>
<rect x="736.0" y="241.4" width="1.0" height="88.2" fill="url(#gA17)"/>
<rect x="737.0" y="242.4" width="1.0" height="87.0" fill="url(#gA19)"/>
<rect x="738.0" y="243.0" width="1.0" height="86.6" fill="url(#gA16)"/>
<rect x="739.0" y="241.6" width="1.0" height="87.0" fill="url(#gA17)"/>
<rect x="740.0" y="241.9" width="1.0" height="85.9" fill="url(#gA16)"/>
<rect x="741.0" y="242.8" width="1.0" height="84.6" fill="url(#gA14)"/>
<rect x="742.0" y="241.9" width="1.0" height="86.7" fill="url(#gA12)"/>
<rect x="743.0" y="241.6" width="1.0" height="86.9" fill="url(#gA14)"/>
<rect x="744.0" y="243.0" width="1.0" height="84.7" fill="url(#gA11)"/>
<rect x="745.0" y="241.3" width="1.0" height="87.2" fill="url(#gA14)"/>
<rect x="746.0" y="241.9" width="1.0" height="86.3" fill="url(#gA15)"/>
<rect x="747.0" y="242.4" width="1.0" height="87.1" fill="url(#gA15)"/>
<rect x="748.0" y="241.7" width="1.0" height="85.7" fill="url(#gA16)"/>
<rect x="749.0" y="241.6" width="1.0" height="86.7" fill="url(#gA17)"/>
<rect x="750.0" y="242.5" width="1.0" height="86.5" fill="url(#gA14)"/>
<rect x="751.0" y="242.7" width="1.0" height="85.9" fill="url(#gA114)"/>
<rect x="752.0" y="241.3" width="1.0" height="86.4" fill="url(#gA116)"/>
<rect x="753.0" y="241.7" width="1.0" height="87.2" fill="url(#gA113)"/>
<rect x="754.0" y="242.8" width="1.0" height="85.1" fill="url(#gA113)"/>
<rect x="755.0" y="241.8" width="1.0" height="85.6" fill="url(#gA115)"/>
<rect x="756.0" y="243.1" width="1.0" height="86.0" fill="url(#gA115)"/>
<rect x="757.0" y="243.2" width="1.0" height="85.9" fill="url(#gA114)"/>
<rect x="758.0" y="243.4" width="1.0" height="85.2" fill="url(#gA13)"/>
<rect x="759.0" y="241.3" width="1.0" height="86.7" fill="url(#gA16)"/>
<rect x="760.0" y="242.8" width="1.0" height="86.7" fill="url(#gA15)"/>
<rect x="761.0" y="241.4" width="1.0" height="88.0" fill="url(#gA14)"/>
<rect x="762.0" y="243.6" width="1.0" height="83.8" fill="url(#gA13)"/>
<rect x="763.0" y="243.2" width="1.0" height="85.3" fill="url(#gA14)"/>
<rect x="764.0" y="241.8" width="1.0" height="86.3" fill="url(#gA13)"/>
<rect x="765.0" y="242.8" width="1.0" height="85.7" fill="url(#gA122)"/>
<rect x="766.0" y="242.1" width="1.0" height="87.5" fill="url(#gA122)"/>
<rect x="767.0" y="241.5" width="1.0" height="86.2" fill="url(#gA124)"/>
<rect x="768.0" y="242.1" width="1.0" height="85.5" fill="url(#gA120)"/>
<rect x="769.0" y="242.3" width="1.0" height="85.3" fill="url(#gA122)"/>
<rect x="770.0" y="243.2" width="1.0" height="85.4" fill="url(#gA121)"/>
<rect x="771.0" y="242.3" width="1.0" height="86.5" fill="url(#gA121)"/>
<rect x="772.0" y="242.0" width="1.0" height="87.3" fill="url(#gA121)"/>
<rect x="773.0" y="243.1" width="1.0" height="85.7" fill="url(#gA122)"/>
<rect x="774.0" y="243.1" width="1.0" height="85.6" fill="url(#gA119)"/>
<rect x="775.0" y="243.6" width="1.0" height="84.4" fill="url(#gA119)"/>
<rect x="776.0" y="241.8" width="1.0" height="87.2" fill="url(#gA123)"/>
<rect x="777.0" y="242.6" width="1.0" height="85.7" fill="url(#gA122)"/>
</g>
<rect x="489.0" y="242.8" width="289.0" height="84.7" filter="url(#spk)" opacity="0.55"/>
<rect x="492.0" y="324.0" width="1" height="11.3" fill="url(#td)"/>
<rect x="493.0" y="215.3" width="1" height="28.9" fill="url(#tu)"/>
<rect x="493.0" y="325.5" width="1" height="22.4" fill="url(#td)"/>
<rect x="495.0" y="213.1" width="1" height="32.5" fill="url(#tu)"/>
<rect x="496.0" y="215.4" width="1" height="30.5" fill="url(#tu)"/>
<rect x="497.0" y="229.8" width="1" height="16.1" fill="url(#tu)"/>
<rect x="497.0" y="325.2" width="1" height="11.7" fill="url(#td)"/>
<rect x="499.0" y="228.1" width="1" height="16.3" fill="url(#tu)"/>
<rect x="500.0" y="325.2" width="1" height="13.3" fill="url(#td)"/>
<rect x="501.0" y="216.8" width="1" height="29.3" fill="url(#tu)"/>
<rect x="502.0" y="237.9" width="1" height="8.2" fill="url(#tu)"/>
<rect x="502.0" y="325.8" width="1" height="30.7" fill="url(#td)"/>
<rect x="504.0" y="324.0" width="1" height="6.4" fill="url(#td)"/>
<rect x="506.0" y="231.9" width="1" height="13.7" fill="url(#tu)"/>
<rect x="506.0" y="325.0" width="1" height="33.4" fill="url(#td)"/>
<rect x="508.0" y="223.1" width="1" height="21.2" fill="url(#tu)"/>
<rect x="508.0" y="325.7" width="1" height="34.1" fill="url(#td)"/>
<rect x="511.0" y="227.6" width="1" height="16.2" fill="url(#tu)"/>
<rect x="512.0" y="325.8" width="1" height="16.9" fill="url(#td)"/>
<rect x="513.0" y="240.7" width="1" height="5.0" fill="url(#tu)"/>
<rect x="514.0" y="214.6" width="1" height="29.8" fill="url(#tu)"/>
<rect x="514.0" y="326.0" width="1" height="19.1" fill="url(#td)"/>
<rect x="515.0" y="325.5" width="1" height="13.7" fill="url(#td)"/>
<rect x="516.0" y="239.3" width="1" height="5.1" fill="url(#tu)"/>
<rect x="517.0" y="324.3" width="1" height="18.4" fill="url(#td)"/>
<rect x="519.0" y="238.7" width="1" height="6.5" fill="url(#tu)"/>
<rect x="519.0" y="325.5" width="1" height="35.4" fill="url(#td)"/>
<rect x="521.0" y="218.0" width="1" height="27.2" fill="url(#tu)"/>
<rect x="521.0" y="325.4" width="1" height="24.0" fill="url(#td)"/>
<rect x="522.0" y="325.6" width="1" height="20.5" fill="url(#td)"/>
<rect x="523.0" y="239.5" width="1" height="5.3" fill="url(#tu)"/>
<rect x="524.0" y="237.3" width="1" height="8.3" fill="url(#tu)"/>
<rect x="528.0" y="325.9" width="1" height="19.0" fill="url(#td)"/>
<rect x="532.0" y="215.8" width="1" height="28.8" fill="url(#tu)"/>
<rect x="533.0" y="226.5" width="1" height="18.7" fill="url(#tu)"/>
<rect x="533.0" y="324.7" width="1" height="21.2" fill="url(#td)"/>
<rect x="534.0" y="237.4" width="1" height="7.2" fill="url(#tu)"/>
<rect x="534.0" y="325.9" width="1" height="7.7" fill="url(#td)"/>
<rect x="535.0" y="230.3" width="1" height="15.2" fill="url(#tu)"/>
<rect x="535.0" y="324.9" width="1" height="33.8" fill="url(#td)"/>
<rect x="536.0" y="324.2" width="1" height="33.1" fill="url(#td)"/>
<rect x="537.0" y="324.9" width="1" height="19.6" fill="url(#td)"/>
<rect x="538.0" y="232.0" width="1" height="13.5" fill="url(#tu)"/>
<rect x="540.0" y="325.8" width="1" height="12.1" fill="url(#td)"/>
<rect x="541.0" y="215.2" width="1" height="28.9" fill="url(#tu)"/>
<rect x="544.0" y="218.7" width="1" height="25.7" fill="url(#tu)"/>
<rect x="544.0" y="325.7" width="1" height="15.9" fill="url(#td)"/>
<rect x="545.0" y="221.7" width="1" height="24.6" fill="url(#tu)"/>
<rect x="545.0" y="326.3" width="1" height="7.7" fill="url(#td)"/>
<rect x="549.0" y="225.4" width="1" height="19.2" fill="url(#tu)"/>
<rect x="552.0" y="234.6" width="1" height="9.6" fill="url(#tu)"/>
<rect x="553.0" y="325.6" width="1" height="8.5" fill="url(#td)"/>
<rect x="554.0" y="211.9" width="1" height="32.2" fill="url(#tu)"/>
<rect x="556.0" y="216.6" width="1" height="28.7" fill="url(#tu)"/>
<rect x="556.0" y="325.4" width="1" height="26.6" fill="url(#td)"/>
<rect x="559.0" y="232.9" width="1" height="12.0" fill="url(#tu)"/>
<rect x="561.0" y="224.2" width="1" height="19.8" fill="url(#tu)"/>
<rect x="562.0" y="212.8" width="1" height="33.0" fill="url(#tu)"/>
<rect x="562.0" y="324.7" width="1" height="27.4" fill="url(#td)"/>
<rect x="563.0" y="213.1" width="1" height="31.5" fill="url(#tu)"/>
<rect x="563.0" y="324.4" width="1" height="22.1" fill="url(#td)"/>
<rect x="564.0" y="219.9" width="1" height="25.7" fill="url(#tu)"/>
<rect x="565.0" y="214.3" width="1" height="31.0" fill="url(#tu)"/>
<rect x="565.0" y="326.3" width="1" height="6.1" fill="url(#td)"/>
<rect x="566.0" y="325.5" width="1" height="27.2" fill="url(#td)"/>
<rect x="567.0" y="235.2" width="1" height="9.1" fill="url(#tu)"/>
<rect x="567.0" y="324.9" width="1" height="21.1" fill="url(#td)"/>
<rect x="568.0" y="236.8" width="1" height="8.9" fill="url(#tu)"/>
<rect x="568.0" y="325.9" width="1" height="16.4" fill="url(#td)"/>
<rect x="569.0" y="223.1" width="1" height="21.8" fill="url(#tu)"/>
<rect x="569.0" y="324.2" width="1" height="21.1" fill="url(#td)"/>
<rect x="570.0" y="239.3" width="1" height="6.2" fill="url(#tu)"/>
<rect x="570.0" y="325.7" width="1" height="23.0" fill="url(#td)"/>
<rect x="571.0" y="324.0" width="1" height="22.7" fill="url(#td)"/>
<rect x="572.0" y="226.1" width="1" height="19.4" fill="url(#tu)"/>
<rect x="573.0" y="225.3" width="1" height="19.4" fill="url(#tu)"/>
<rect x="574.0" y="216.1" width="1" height="29.3" fill="url(#tu)"/>
<rect x="574.0" y="325.0" width="1" height="13.5" fill="url(#td)"/>
<rect x="576.0" y="227.6" width="1" height="17.7" fill="url(#tu)"/>
<rect x="576.0" y="326.1" width="1" height="11.0" fill="url(#td)"/>
<rect x="577.0" y="213.0" width="1" height="31.0" fill="url(#tu)"/>
<rect x="580.0" y="224.0" width="1" height="20.2" fill="url(#tu)"/>
<rect x="580.0" y="324.4" width="1" height="12.1" fill="url(#td)"/>
<rect x="581.0" y="212.3" width="1" height="33.5" fill="url(#tu)"/>
<rect x="583.0" y="229.2" width="1" height="16.3" fill="url(#tu)"/>
<rect x="583.0" y="325.4" width="1" height="34.8" fill="url(#td)"/>
<rect x="591.0" y="325.6" width="1" height="35.2" fill="url(#td)"/>
<rect x="592.0" y="324.2" width="1" height="26.2" fill="url(#td)"/>
<rect x="593.0" y="237.9" width="1" height="8.0" fill="url(#tu)"/>
<rect x="593.0" y="324.8" width="1" height="18.4" fill="url(#td)"/>
<rect x="594.0" y="324.5" width="1" height="21.8" fill="url(#td)"/>
<rect x="595.0" y="325.1" width="1" height="26.6" fill="url(#td)"/>
<rect x="596.0" y="238.9" width="1" height="6.4" fill="url(#tu)"/>
<rect x="597.0" y="325.6" width="1" height="19.0" fill="url(#td)"/>
<rect x="598.0" y="220.1" width="1" height="25.3" fill="url(#tu)"/>
<rect x="598.0" y="326.2" width="1" height="26.7" fill="url(#td)"/>
<rect x="599.0" y="211.7" width="1" height="33.1" fill="url(#tu)"/>
<rect x="601.0" y="325.6" width="1" height="7.8" fill="url(#td)"/>
<rect x="603.0" y="324.6" width="1" height="30.8" fill="url(#td)"/>
<rect x="604.0" y="325.9" width="1" height="12.9" fill="url(#td)"/>
<rect x="605.0" y="325.9" width="1" height="20.1" fill="url(#td)"/>
<rect x="607.0" y="231.1" width="1" height="13.8" fill="url(#tu)"/>
<rect x="608.0" y="325.7" width="1" height="26.5" fill="url(#td)"/>
<rect x="613.0" y="324.0" width="1" height="15.1" fill="url(#td)"/>
<rect x="615.0" y="221.6" width="1" height="22.4" fill="url(#tu)"/>
<rect x="615.0" y="325.5" width="1" height="9.7" fill="url(#td)"/>
<rect x="616.0" y="214.3" width="1" height="31.2" fill="url(#tu)"/>
<rect x="616.0" y="324.1" width="1" height="16.5" fill="url(#td)"/>
<rect x="617.0" y="217.6" width="1" height="26.6" fill="url(#tu)"/>
<rect x="617.0" y="324.9" width="1" height="5.3" fill="url(#td)"/>
<rect x="618.0" y="222.2" width="1" height="22.6" fill="url(#tu)"/>
<rect x="619.0" y="232.2" width="1" height="13.9" fill="url(#tu)"/>
<rect x="619.0" y="325.0" width="1" height="27.5" fill="url(#td)"/>
<rect x="620.0" y="324.9" width="1" height="30.9" fill="url(#td)"/>
<rect x="621.0" y="227.5" width="1" height="17.4" fill="url(#tu)"/>
<rect x="622.0" y="237.7" width="1" height="8.3" fill="url(#tu)"/>
<rect x="625.0" y="219.0" width="1" height="25.4" fill="url(#tu)"/>
<rect x="626.0" y="215.9" width="1" height="28.6" fill="url(#tu)"/>
<rect x="628.0" y="213.8" width="1" height="31.2" fill="url(#tu)"/>
<rect x="628.0" y="324.5" width="1" height="14.4" fill="url(#td)"/>
<rect x="634.0" y="235.9" width="1" height="9.1" fill="url(#tu)"/>
<rect x="635.0" y="325.2" width="1" height="30.0" fill="url(#td)"/>
<rect x="638.0" y="325.3" width="1" height="18.6" fill="url(#td)"/>
<rect x="639.0" y="211.4" width="1" height="34.7" fill="url(#tu)"/>
<rect x="641.0" y="324.8" width="1" height="26.1" fill="url(#td)"/>
<rect x="643.0" y="211.2" width="1" height="33.9" fill="url(#tu)"/>
<rect x="643.0" y="325.9" width="1" height="20.2" fill="url(#td)"/>
<rect x="644.0" y="223.5" width="1" height="22.2" fill="url(#tu)"/>
<rect x="645.0" y="324.1" width="1" height="19.4" fill="url(#td)"/>
<rect x="646.0" y="238.1" width="1" height="8.4" fill="url(#tu)"/>
<rect x="649.0" y="229.4" width="1" height="15.2" fill="url(#tu)"/>
<rect x="649.0" y="326.1" width="1" height="8.1" fill="url(#td)"/>
<rect x="651.0" y="238.9" width="1" height="5.5" fill="url(#tu)"/>
<rect x="652.0" y="233.0" width="1" height="12.6" fill="url(#tu)"/>
<rect x="656.0" y="224.5" width="1" height="21.1" fill="url(#tu)"/>
<rect x="658.0" y="325.5" width="1" height="27.6" fill="url(#td)"/>
<rect x="660.0" y="326.0" width="1" height="29.6" fill="url(#td)"/>
<rect x="661.0" y="324.7" width="1" height="34.8" fill="url(#td)"/>
<rect x="662.0" y="325.9" width="1" height="11.2" fill="url(#td)"/>
<rect x="663.0" y="210.4" width="1" height="33.7" fill="url(#tu)"/>
<rect x="664.0" y="218.6" width="1" height="26.7" fill="url(#tu)"/>
<rect x="664.0" y="325.5" width="1" height="18.6" fill="url(#td)"/>
<rect x="665.0" y="324.9" width="1" height="14.1" fill="url(#td)"/>
<rect x="669.0" y="326.4" width="1" height="26.8" fill="url(#td)"/>
<rect x="671.0" y="326.5" width="1" height="19.4" fill="url(#td)"/>
<rect x="673.0" y="325.4" width="1" height="35.6" fill="url(#td)"/>
<rect x="674.0" y="324.9" width="1" height="31.1" fill="url(#td)"/>
<rect x="676.0" y="217.6" width="1" height="28.6" fill="url(#tu)"/>
<rect x="677.0" y="324.4" width="1" height="20.6" fill="url(#td)"/>
<rect x="678.0" y="326.3" width="1" height="7.7" fill="url(#td)"/>
<rect x="680.0" y="324.4" width="1" height="17.1" fill="url(#td)"/>
<rect x="681.0" y="325.5" width="1" height="9.7" fill="url(#td)"/>
<rect x="682.0" y="215.0" width="1" height="31.3" fill="url(#tu)"/>
<rect x="683.0" y="232.1" width="1" height="13.7" fill="url(#tu)"/>
<rect x="684.0" y="238.8" width="1" height="6.9" fill="url(#tu)"/>
<rect x="684.0" y="325.6" width="1" height="29.1" fill="url(#td)"/>
<rect x="685.0" y="218.0" width="1" height="28.2" fill="url(#tu)"/>
<rect x="685.0" y="326.2" width="1" height="24.7" fill="url(#td)"/>
<rect x="687.0" y="225.2" width="1" height="19.4" fill="url(#tu)"/>
<rect x="687.0" y="325.0" width="1" height="15.0" fill="url(#td)"/>
<rect x="688.0" y="211.6" width="1" height="33.2" fill="url(#tu)"/>
<rect x="688.0" y="326.4" width="1" height="17.3" fill="url(#td)"/>
<rect x="689.0" y="324.2" width="1" height="29.1" fill="url(#td)"/>
<rect x="698.0" y="324.4" width="1" height="30.5" fill="url(#td)"/>
<rect x="702.0" y="222.2" width="1" height="22.3" fill="url(#tu)"/>
<rect x="703.0" y="324.8" width="1" height="13.6" fill="url(#td)"/>
<rect x="704.0" y="228.0" width="1" height="18.0" fill="url(#tu)"/>
<rect x="707.0" y="223.7" width="1" height="21.5" fill="url(#tu)"/>
<rect x="707.0" y="325.2" width="1" height="11.8" fill="url(#td)"/>
<rect x="709.0" y="325.2" width="1" height="22.7" fill="url(#td)"/>
<rect x="710.0" y="326.2" width="1" height="8.7" fill="url(#td)"/>
<rect x="711.0" y="324.5" width="1" height="22.4" fill="url(#td)"/>
<rect x="713.0" y="235.1" width="1" height="9.7" fill="url(#tu)"/>
<rect x="717.0" y="231.8" width="1" height="14.3" fill="url(#tu)"/>
<rect x="719.0" y="325.4" width="1" height="7.0" fill="url(#td)"/>
<rect x="720.0" y="220.8" width="1" height="24.2" fill="url(#tu)"/>
<rect x="721.0" y="224.3" width="1" height="20.7" fill="url(#tu)"/>
<rect x="725.0" y="325.6" width="1" height="19.8" fill="url(#td)"/>
<rect x="726.0" y="324.3" width="1" height="28.1" fill="url(#td)"/>
<rect x="727.0" y="325.3" width="1" height="26.6" fill="url(#td)"/>
<rect x="729.0" y="325.2" width="1" height="35.2" fill="url(#td)"/>
<rect x="731.0" y="219.4" width="1" height="25.8" fill="url(#tu)"/>
<rect x="731.0" y="325.3" width="1" height="32.9" fill="url(#td)"/>
<rect x="732.0" y="237.6" width="1" height="6.8" fill="url(#tu)"/>
<rect x="734.0" y="324.9" width="1" height="27.4" fill="url(#td)"/>
<rect x="735.0" y="221.5" width="1" height="23.0" fill="url(#tu)"/>
<rect x="735.0" y="325.7" width="1" height="19.1" fill="url(#td)"/>
<rect x="736.0" y="326.6" width="1" height="28.4" fill="url(#td)"/>
<rect x="737.0" y="213.6" width="1" height="31.8" fill="url(#tu)"/>
<rect x="739.0" y="236.7" width="1" height="7.9" fill="url(#tu)"/>
<rect x="740.0" y="225.3" width="1" height="19.5" fill="url(#tu)"/>
<rect x="741.0" y="233.0" width="1" height="12.8" fill="url(#tu)"/>
<rect x="743.0" y="221.2" width="1" height="23.4" fill="url(#tu)"/>
<rect x="745.0" y="234.9" width="1" height="9.4" fill="url(#tu)"/>
<rect x="746.0" y="222.3" width="1" height="22.6" fill="url(#tu)"/>
<rect x="746.0" y="325.2" width="1" height="23.0" fill="url(#td)"/>
<rect x="747.0" y="239.1" width="1" height="6.3" fill="url(#tu)"/>
<rect x="747.0" y="326.5" width="1" height="12.4" fill="url(#td)"/>
<rect x="749.0" y="223.9" width="1" height="20.7" fill="url(#tu)"/>
<rect x="749.0" y="325.3" width="1" height="23.8" fill="url(#td)"/>
<rect x="750.0" y="326.0" width="1" height="12.7" fill="url(#td)"/>
<rect x="752.0" y="222.6" width="1" height="21.7" fill="url(#tu)"/>
<rect x="753.0" y="227.1" width="1" height="17.6" fill="url(#tu)"/>
<rect x="755.0" y="209.1" width="1" height="35.6" fill="url(#tu)"/>
<rect x="758.0" y="325.6" width="1" height="5.7" fill="url(#td)"/>
<rect x="759.0" y="229.5" width="1" height="14.8" fill="url(#tu)"/>
<rect x="760.0" y="326.5" width="1" height="12.0" fill="url(#td)"/>
<rect x="761.0" y="326.4" width="1" height="17.8" fill="url(#td)"/>
<rect x="762.0" y="324.4" width="1" height="28.4" fill="url(#td)"/>
<rect x="764.0" y="325.2" width="1" height="28.0" fill="url(#td)"/>
<rect x="766.0" y="326.6" width="1" height="14.1" fill="url(#td)"/>
<rect x="767.0" y="324.7" width="1" height="13.8" fill="url(#td)"/>
<rect x="769.0" y="231.8" width="1" height="13.5" fill="url(#tu)"/>
<rect x="770.0" y="231.6" width="1" height="14.6" fill="url(#tu)"/>
<rect x="772.0" y="217.8" width="1" height="27.1" fill="url(#tu)"/>
<rect x="772.0" y="326.2" width="1" height="24.5" fill="url(#td)"/>
<rect x="773.0" y="325.8" width="1" height="13.7" fill="url(#td)"/>
<rect x="774.0" y="213.7" width="1" height="32.4" fill="url(#tu)"/>
<rect x="774.0" y="325.6" width="1" height="17.7" fill="url(#td)"/>
<rect x="775.0" y="325.0" width="1" height="34.6" fill="url(#td)"/>
<rect x="776.0" y="222.9" width="1" height="21.8" fill="url(#tu)"/>
<rect x="777.0" y="325.3" width="1" height="19.6" fill="url(#td)"/>
<g shape-rendering="crispEdges">
<rect x="1195.0" y="211.7" width="1.0" height="148.8" fill="url(#gA210)"/>
<rect x="1196.0" y="212.6" width="1.0" height="146.5" fill="url(#gA211)"/>
<rect x="1197.0" y="211.5" width="1.0" height="147.6" fill="url(#gA210)"/>
<rect x="1198.0" y="212.7" width="1.0" height="146.8" fill="url(#gA211)"/>
<rect x="1199.0" y="213.1" width="1.0" height="145.4" fill="url(#gA24)"/>
<rect x="1200.0" y="211.6" width="1.0" height="147.6" fill="url(#gA210)"/>
<rect x="1201.0" y="213.6" width="1.0" height="146.2" fill="url(#gA22)"/>
<rect x="1202.0" y="212.2" width="1.0" height="146.4" fill="url(#gA210)"/>
<rect x="1203.0" y="212.2" width="1.0" height="148.1" fill="url(#gA25)"/>
<rect x="1204.0" y="211.5" width="1.0" height="148.5" fill="url(#gA26)"/>
<rect x="1205.0" y="213.2" width="1.0" height="147.3" fill="url(#gA25)"/>
<rect x="1206.0" y="212.4" width="1.0" height="146.3" fill="url(#gA212)"/>
<rect x="1207.0" y="212.6" width="1.0" height="146.6" fill="url(#gA214)"/>
<rect x="1208.0" y="212.3" width="1.0" height="147.3" fill="url(#gA214)"/>
<rect x="1209.0" y="212.1" width="1.0" height="148.3" fill="url(#gA211)"/>
<rect x="1210.0" y="211.5" width="1.0" height="148.4" fill="url(#gA213)"/>
<rect x="1211.0" y="213.0" width="1.0" height="147.4" fill="url(#gA212)"/>
<rect x="1212.0" y="213.7" width="1.0" height="144.9" fill="url(#gA215)"/>
<rect x="1213.0" y="212.0" width="1.0" height="147.0" fill="url(#gA23)"/>
<rect x="1214.0" y="213.0" width="1.0" height="147.0" fill="url(#gA21)"/>
<rect x="1215.0" y="213.5" width="1.0" height="145.0" fill="url(#gA21)"/>
<rect x="1216.0" y="213.6" width="1.0" height="145.3" fill="url(#gA28)"/>
<rect x="1217.0" y="213.6" width="1.0" height="145.3" fill="url(#gA211)"/>
<rect x="1218.0" y="211.5" width="1.0" height="147.9" fill="url(#gA211)"/>
<rect x="1219.0" y="213.0" width="1.0" height="147.5" fill="url(#gA210)"/>
<rect x="1220.0" y="211.6" width="1.0" height="148.3" fill="url(#gA210)"/>
<rect x="1221.0" y="213.2" width="1.0" height="145.5" fill="url(#gA211)"/>
<rect x="1222.0" y="212.9" width="1.0" height="147.3" fill="url(#gA211)"/>
<rect x="1223.0" y="213.0" width="1.0" height="147.0" fill="url(#gA21)"/>
<rect x="1224.0" y="213.5" width="1.0" height="147.4" fill="url(#gA21)"/>
<rect x="1225.0" y="212.6" width="1.0" height="146.0" fill="url(#gA210)"/>
<rect x="1226.0" y="211.8" width="1.0" height="147.1" fill="url(#gA26)"/>
<rect x="1227.0" y="212.7" width="1.0" height="146.3" fill="url(#gA26)"/>
<rect x="1228.0" y="212.7" width="1.0" height="146.8" fill="url(#gA211)"/>
<rect x="1229.0" y="212.4" width="1.0" height="147.4" fill="url(#gA27)"/>
<rect x="1230.0" y="212.0" width="1.0" height="146.9" fill="url(#gA25)"/>
<rect x="1231.0" y="213.6" width="1.0" height="147.2" fill="url(#gA29)"/>
<rect x="1232.0" y="213.7" width="1.0" height="145.4" fill="url(#gA28)"/>
<rect x="1233.0" y="213.2" width="1.0" height="145.9" fill="url(#gA28)"/>
<rect x="1234.0" y="213.2" width="1.0" height="146.6" fill="url(#gA210)"/>
<rect x="1235.0" y="213.6" width="1.0" height="146.9" fill="url(#gA28)"/>
<rect x="1236.0" y="212.5" width="1.0" height="147.7" fill="url(#gA24)"/>
<rect x="1237.0" y="212.9" width="1.0" height="146.0" fill="url(#gA22)"/>
<rect x="1238.0" y="213.2" width="1.0" height="147.2" fill="url(#gA22)"/>
<rect x="1239.0" y="213.5" width="1.0" height="145.8" fill="url(#gA23)"/>
<rect x="1240.0" y="213.4" width="1.0" height="147.0" fill="url(#gA211)"/>
<rect x="1241.0" y="213.7" width="1.0" height="145.7" fill="url(#gA29)"/>
<rect x="1242.0" y="213.1" width="1.0" height="145.5" fill="url(#gA214)"/>
<rect x="1243.0" y="213.4" width="1.0" height="146.8" fill="url(#gA26)"/>
<rect x="1244.0" y="213.5" width="1.0" height="145.9" fill="url(#gA212)"/>
<rect x="1245.0" y="213.0" width="1.0" height="146.3" fill="url(#gA27)"/>
<rect x="1246.0" y="213.7" width="1.0" height="146.7" fill="url(#gA29)"/>
<rect x="1247.0" y="211.7" width="1.0" height="147.6" fill="url(#gA28)"/>
<rect x="1248.0" y="213.2" width="1.0" height="146.1" fill="url(#gA29)"/>
<rect x="1249.0" y="211.8" width="1.0" height="148.4" fill="url(#gA24)"/>
<rect x="1250.0" y="212.4" width="1.0" height="148.1" fill="url(#gA25)"/>
<rect x="1251.0" y="212.8" width="1.0" height="147.3" fill="url(#gA21)"/>
<rect x="1252.0" y="212.9" width="1.0" height="147.8" fill="url(#gA27)"/>
<rect x="1253.0" y="212.6" width="1.0" height="147.6" fill="url(#gA26)"/>
<rect x="1254.0" y="212.0" width="1.0" height="147.8" fill="url(#gA26)"/>
<rect x="1255.0" y="211.8" width="1.0" height="147.8" fill="url(#gA22)"/>
<rect x="1256.0" y="212.4" width="1.0" height="147.6" fill="url(#gA21)"/>
<rect x="1257.0" y="213.1" width="1.0" height="146.9" fill="url(#gA29)"/>
<rect x="1258.0" y="211.8" width="1.0" height="148.7" fill="url(#gA28)"/>
<rect x="1259.0" y="213.9" width="1.0" height="145.0" fill="url(#gA27)"/>
<rect x="1260.0" y="213.8" width="1.0" height="145.3" fill="url(#gA26)"/>
<rect x="1261.0" y="212.6" width="1.0" height="146.7" fill="url(#gA27)"/>
<rect x="1262.0" y="213.6" width="1.0" height="145.6" fill="url(#gA27)"/>
<rect x="1263.0" y="212.0" width="1.0" height="148.0" fill="url(#gA21)"/>
<rect x="1264.0" y="212.6" width="1.0" height="148.0" fill="url(#gA24)"/>
<rect x="1265.0" y="213.5" width="1.0" height="145.5" fill="url(#gA21)"/>
<rect x="1266.0" y="212.8" width="1.0" height="147.4" fill="url(#gA21)"/>
<rect x="1267.0" y="212.8" width="1.0" height="146.3" fill="url(#gA22)"/>
<rect x="1268.0" y="212.3" width="1.0" height="147.3" fill="url(#gA21)"/>
<rect x="1269.0" y="214.0" width="1.0" height="147.0" fill="url(#gA25)"/>
<rect x="1270.0" y="213.6" width="1.0" height="147.4" fill="url(#gA25)"/>
<rect x="1271.0" y="214.1" width="1.0" height="146.0" fill="url(#gA25)"/>
<rect x="1272.0" y="212.0" width="1.0" height="148.3" fill="url(#gA25)"/>
<rect x="1273.0" y="213.6" width="1.0" height="145.6" fill="url(#gA25)"/>
<rect x="1274.0" y="213.6" width="1.0" height="147.4" fill="url(#gA29)"/>
<rect x="1275.0" y="212.2" width="1.0" height="147.1" fill="url(#gA28)"/>
<rect x="1276.0" y="213.7" width="1.0" height="145.8" fill="url(#gA27)"/>
<rect x="1277.0" y="212.0" width="1.0" height="147.2" fill="url(#gA28)"/>
<rect x="1278.0" y="211.8" width="1.0" height="148.2" fill="url(#gA28)"/>
<rect x="1279.0" y="212.3" width="1.0" height="147.9" fill="url(#gA29)"/>
<rect x="1280.0" y="212.6" width="1.0" height="148.3" fill="url(#gA28)"/>
<rect x="1281.0" y="212.6" width="1.0" height="146.5" fill="url(#gA211)"/>
<rect x="1282.0" y="213.8" width="1.0" height="147.1" fill="url(#gA23)"/>
<rect x="1283.0" y="212.9" width="1.0" height="146.7" fill="url(#gA29)"/>
<rect x="1284.0" y="212.5" width="1.0" height="147.5" fill="url(#gA28)"/>
<rect x="1285.0" y="213.0" width="1.0" height="146.9" fill="url(#gA29)"/>
<rect x="1286.0" y="213.5" width="1.0" height="146.5" fill="url(#gA25)"/>
<rect x="1287.0" y="213.5" width="1.0" height="145.9" fill="url(#gA25)"/>
<rect x="1288.0" y="213.6" width="1.0" height="145.6" fill="url(#gA25)"/>
<rect x="1289.0" y="213.4" width="1.0" height="146.2" fill="url(#gA23)"/>
<rect x="1290.0" y="214.1" width="1.0" height="146.0" fill="url(#gA22)"/>
<rect x="1291.0" y="213.2" width="1.0" height="146.6" fill="url(#gA26)"/>
<rect x="1292.0" y="213.7" width="1.0" height="145.8" fill="url(#gA25)"/>
<rect x="1293.0" y="213.4" width="1.0" height="147.3" fill="url(#gA24)"/>
<rect x="1294.0" y="214.1" width="1.0" height="146.9" fill="url(#gA23)"/>
<rect x="1295.0" y="213.3" width="1.0" height="145.5" fill="url(#gA27)"/>
<rect x="1296.0" y="212.4" width="1.0" height="146.5" fill="url(#gA27)"/>
<rect x="1297.0" y="212.8" width="1.0" height="147.0" fill="url(#gA25)"/>
<rect x="1298.0" y="212.2" width="1.0" height="147.3" fill="url(#gA22)"/>
<rect x="1299.0" y="213.7" width="1.0" height="147.3" fill="url(#gA29)"/>
<rect x="1300.0" y="213.6" width="1.0" height="146.7" fill="url(#gA26)"/>
<rect x="1301.0" y="212.0" width="1.0" height="148.2" fill="url(#gA27)"/>
<rect x="1302.0" y="213.9" width="1.0" height="147.0" fill="url(#gA21)"/>
<rect x="1303.0" y="213.9" width="1.0" height="146.1" fill="url(#gA21)"/>
<rect x="1304.0" y="212.6" width="1.0" height="146.7" fill="url(#gA25)"/>
<rect x="1305.0" y="214.2" width="1.0" height="145.2" fill="url(#gA23)"/>
<rect x="1306.0" y="213.3" width="1.0" height="147.3" fill="url(#gA216)"/>
<rect x="1307.0" y="214.1" width="1.0" height="146.3" fill="url(#gA215)"/>
<rect x="1308.0" y="212.4" width="1.0" height="147.6" fill="url(#gA211)"/>
<rect x="1309.0" y="213.5" width="1.0" height="146.2" fill="url(#gA216)"/>
<rect x="1310.0" y="213.3" width="1.0" height="146.6" fill="url(#gA217)"/>
<rect x="1311.0" y="211.9" width="1.0" height="147.2" fill="url(#gA214)"/>
<rect x="1312.0" y="213.5" width="1.0" height="146.3" fill="url(#gA216)"/>
<rect x="1313.0" y="213.4" width="1.0" height="145.7" fill="url(#gA217)"/>
<rect x="1314.0" y="213.1" width="1.0" height="145.7" fill="url(#gA216)"/>
<rect x="1315.0" y="212.3" width="1.0" height="147.0" fill="url(#gA217)"/>
<rect x="1316.0" y="212.5" width="1.0" height="148.6" fill="url(#gA218)"/>
<rect x="1317.0" y="212.2" width="1.0" height="148.4" fill="url(#gA217)"/>
<rect x="1318.0" y="213.0" width="1.0" height="146.7" fill="url(#gA214)"/>
<rect x="1319.0" y="213.8" width="1.0" height="146.2" fill="url(#gA29)"/>
<rect x="1320.0" y="212.7" width="1.0" height="147.2" fill="url(#gA24)"/>
<rect x="1321.0" y="212.5" width="1.0" height="147.9" fill="url(#gA24)"/>
<rect x="1322.0" y="213.4" width="1.0" height="145.9" fill="url(#gA24)"/>
<rect x="1323.0" y="212.0" width="1.0" height="148.0" fill="url(#gA23)"/>
<rect x="1324.0" y="213.1" width="1.0" height="147.8" fill="url(#gA25)"/>
<rect x="1325.0" y="213.9" width="1.0" height="145.2" fill="url(#gA24)"/>
<rect x="1326.0" y="214.0" width="1.0" height="146.3" fill="url(#gA29)"/>
<rect x="1327.0" y="211.9" width="1.0" height="147.9" fill="url(#gA29)"/>
<rect x="1328.0" y="212.4" width="1.0" height="147.5" fill="url(#gA211)"/>
<rect x="1329.0" y="212.9" width="1.0" height="148.0" fill="url(#gA210)"/>
<rect x="1330.0" y="213.7" width="1.0" height="146.6" fill="url(#gA211)"/>
<rect x="1331.0" y="213.1" width="1.0" height="147.6" fill="url(#gA212)"/>
<rect x="1332.0" y="212.2" width="1.0" height="148.1" fill="url(#gA211)"/>
<rect x="1333.0" y="213.7" width="1.0" height="147.2" fill="url(#gA210)"/>
<rect x="1334.0" y="213.8" width="1.0" height="146.1" fill="url(#gA210)"/>
<rect x="1335.0" y="214.2" width="1.0" height="145.0" fill="url(#gA27)"/>
<rect x="1336.0" y="214.0" width="1.0" height="145.5" fill="url(#gA26)"/>
<rect x="1337.0" y="213.9" width="1.0" height="146.3" fill="url(#gA27)"/>
<rect x="1338.0" y="212.2" width="1.0" height="147.3" fill="url(#gA23)"/>
<rect x="1339.0" y="212.4" width="1.0" height="147.7" fill="url(#gA211)"/>
<rect x="1340.0" y="212.5" width="1.0" height="146.8" fill="url(#gA28)"/>
<rect x="1341.0" y="213.8" width="1.0" height="146.5" fill="url(#gA29)"/>
<rect x="1342.0" y="212.2" width="1.0" height="148.7" fill="url(#gA212)"/>
<rect x="1343.0" y="214.3" width="1.0" height="144.8" fill="url(#gA213)"/>
<rect x="1344.0" y="214.3" width="1.0" height="144.3" fill="url(#gA213)"/>
<rect x="1345.0" y="213.1" width="1.0" height="146.2" fill="url(#gA215)"/>
<rect x="1346.0" y="214.3" width="1.0" height="146.5" fill="url(#gA210)"/>
<rect x="1347.0" y="212.3" width="1.0" height="146.6" fill="url(#gA213)"/>
<rect x="1348.0" y="213.8" width="1.0" height="144.8" fill="url(#gA29)"/>
<rect x="1349.0" y="213.5" width="1.0" height="145.4" fill="url(#gA211)"/>
<rect x="1350.0" y="213.4" width="1.0" height="146.6" fill="url(#gA211)"/>
<rect x="1351.0" y="212.9" width="1.0" height="147.0" fill="url(#gA25)"/>
<rect x="1352.0" y="213.4" width="1.0" height="146.9" fill="url(#gA210)"/>
<rect x="1353.0" y="214.1" width="1.0" height="145.5" fill="url(#gA27)"/>
<rect x="1354.0" y="214.1" width="1.0" height="146.4" fill="url(#gA28)"/>
<rect x="1355.0" y="214.4" width="1.0" height="144.6" fill="url(#gA29)"/>
<rect x="1356.0" y="212.5" width="1.0" height="146.8" fill="url(#gA211)"/>
<rect x="1357.0" y="213.4" width="1.0" height="146.4" fill="url(#gA28)"/>
<rect x="1358.0" y="212.9" width="1.0" height="146.6" fill="url(#gA210)"/>
<rect x="1359.0" y="213.5" width="1.0" height="145.9" fill="url(#gA210)"/>
<rect x="1360.0" y="213.7" width="1.0" height="145.2" fill="url(#gA212)"/>
<rect x="1361.0" y="213.4" width="1.0" height="146.6" fill="url(#gA211)"/>
<rect x="1362.0" y="213.1" width="1.0" height="145.6" fill="url(#gA213)"/>
<rect x="1363.0" y="213.8" width="1.0" height="145.3" fill="url(#gA213)"/>
<rect x="1364.0" y="212.1" width="1.0" height="147.1" fill="url(#gA29)"/>
<rect x="1365.0" y="214.2" width="1.0" height="145.9" fill="url(#gA23)"/>
<rect x="1366.0" y="212.5" width="1.0" height="146.4" fill="url(#gA23)"/>
<rect x="1367.0" y="213.6" width="1.0" height="145.5" fill="url(#gA23)"/>
<rect x="1368.0" y="212.5" width="1.0" height="147.1" fill="url(#gA213)"/>
<rect x="1369.0" y="213.1" width="1.0" height="145.6" fill="url(#gA29)"/>
<rect x="1370.0" y="212.2" width="1.0" height="148.2" fill="url(#gA25)"/>
<rect x="1371.0" y="212.9" width="1.0" height="146.0" fill="url(#gA211)"/>
<rect x="1372.0" y="212.8" width="1.0" height="147.4" fill="url(#gA211)"/>
<rect x="1373.0" y="214.4" width="1.0" height="146.3" fill="url(#gA213)"/>
<rect x="1374.0" y="213.1" width="1.0" height="145.4" fill="url(#gA211)"/>
<rect x="1375.0" y="214.4" width="1.0" height="145.6" fill="url(#gA28)"/>
<rect x="1376.0" y="212.9" width="1.0" height="146.3" fill="url(#gA211)"/>
<rect x="1377.0" y="214.2" width="1.0" height="145.9" fill="url(#gA211)"/>
<rect x="1378.0" y="213.7" width="1.0" height="145.8" fill="url(#gA211)"/>
<rect x="1379.0" y="214.4" width="1.0" height="145.3" fill="url(#gA211)"/>
<rect x="1380.0" y="212.9" width="1.0" height="145.7" fill="url(#gA212)"/>
<rect x="1381.0" y="213.9" width="1.0" height="146.8" fill="url(#gA212)"/>
<rect x="1382.0" y="213.7" width="1.0" height="146.8" fill="url(#gA211)"/>
<rect x="1383.0" y="213.4" width="1.0" height="145.5" fill="url(#gA214)"/>
<rect x="1384.0" y="213.2" width="1.0" height="145.7" fill="url(#gA214)"/>
<rect x="1385.0" y="212.2" width="1.0" height="148.2" fill="url(#gA218)"/>
<rect x="1386.0" y="213.3" width="1.0" height="146.5" fill="url(#gA217)"/>
<rect x="1387.0" y="213.4" width="1.0" height="146.6" fill="url(#gA217)"/>
<rect x="1388.0" y="212.4" width="1.0" height="148.3" fill="url(#gA218)"/>
<rect x="1389.0" y="213.4" width="1.0" height="145.5" fill="url(#gA216)"/>
<rect x="1390.0" y="212.5" width="1.0" height="146.6" fill="url(#gA213)"/>
<rect x="1391.0" y="212.5" width="1.0" height="147.3" fill="url(#gA216)"/>
<rect x="1392.0" y="212.4" width="1.0" height="146.7" fill="url(#gA217)"/>
<rect x="1393.0" y="212.9" width="1.0" height="147.0" fill="url(#gA214)"/>
<rect x="1394.0" y="213.3" width="1.0" height="146.1" fill="url(#gA29)"/>
<rect x="1395.0" y="213.0" width="1.0" height="147.2" fill="url(#gA216)"/>
<rect x="1396.0" y="213.2" width="1.0" height="146.2" fill="url(#gA219)"/>
<rect x="1397.0" y="212.7" width="1.0" height="147.8" fill="url(#gA215)"/>
<rect x="1398.0" y="213.6" width="1.0" height="145.2" fill="url(#gA210)"/>
<rect x="1399.0" y="213.2" width="1.0" height="146.1" fill="url(#gA215)"/>
<rect x="1400.0" y="214.1" width="1.0" height="145.1" fill="url(#gA216)"/>
<rect x="1401.0" y="213.1" width="1.0" height="146.5" fill="url(#gA214)"/>
<rect x="1402.0" y="213.0" width="1.0" height="146.7" fill="url(#gA25)"/>
<rect x="1403.0" y="213.5" width="1.0" height="146.4" fill="url(#gA27)"/>
<rect x="1404.0" y="212.9" width="1.0" height="146.3" fill="url(#gA27)"/>
<rect x="1405.0" y="214.2" width="1.0" height="146.0" fill="url(#gA26)"/>
<rect x="1406.0" y="212.6" width="1.0" height="147.1" fill="url(#gA210)"/>
<rect x="1407.0" y="212.9" width="1.0" height="145.9" fill="url(#gA26)"/>
<rect x="1408.0" y="212.7" width="1.0" height="147.4" fill="url(#gA210)"/>
<rect x="1409.0" y="212.6" width="1.0" height="147.8" fill="url(#gA26)"/>
<rect x="1410.0" y="213.4" width="1.0" height="145.8" fill="url(#gA210)"/>
<rect x="1411.0" y="212.9" width="1.0" height="146.3" fill="url(#gA211)"/>
<rect x="1412.0" y="212.3" width="1.0" height="146.9" fill="url(#gA210)"/>
<rect x="1413.0" y="212.9" width="1.0" height="147.3" fill="url(#gA28)"/>
<rect x="1414.0" y="212.8" width="1.0" height="146.6" fill="url(#gA25)"/>
<rect x="1415.0" y="213.5" width="1.0" height="147.3" fill="url(#gA22)"/>
<rect x="1416.0" y="211.9" width="1.0" height="149.2" fill="url(#gA24)"/>
<rect x="1417.0" y="212.7" width="1.0" height="147.7" fill="url(#gA21)"/>
<rect x="1418.0" y="212.3" width="1.0" height="148.8" fill="url(#gA25)"/>
<rect x="1419.0" y="212.2" width="1.0" height="148.1" fill="url(#gA22)"/>
<rect x="1420.0" y="213.1" width="1.0" height="146.1" fill="url(#gA24)"/>
<rect x="1421.0" y="213.2" width="1.0" height="147.0" fill="url(#gA24)"/>
<rect x="1422.0" y="212.8" width="1.0" height="146.9" fill="url(#gA26)"/>
<rect x="1423.0" y="211.3" width="1.0" height="148.7" fill="url(#gA24)"/>
<rect x="1424.0" y="211.1" width="1.0" height="150.3" fill="url(#gA28)"/>
<rect x="1425.0" y="213.1" width="1.0" height="146.3" fill="url(#gA26)"/>
<rect x="1426.0" y="211.9" width="1.0" height="148.2" fill="url(#gA26)"/>
<rect x="1427.0" y="211.0" width="1.0" height="149.3" fill="url(#gA25)"/>
<rect x="1428.0" y="211.8" width="1.0" height="149.8" fill="url(#gA27)"/>
<rect x="1429.0" y="211.8" width="1.0" height="149.8" fill="url(#gA28)"/>
<rect x="1430.0" y="212.2" width="1.0" height="148.6" fill="url(#gA23)"/>
<rect x="1431.0" y="211.8" width="1.0" height="149.9" fill="url(#gA24)"/>
<rect x="1432.0" y="212.4" width="1.0" height="147.6" fill="url(#gA26)"/>
<rect x="1433.0" y="210.4" width="1.0" height="149.8" fill="url(#gA21)"/>
<rect x="1434.0" y="212.3" width="1.0" height="148.2" fill="url(#gA28)"/>
<rect x="1435.0" y="210.9" width="1.0" height="149.3" fill="url(#gA210)"/>
<rect x="1436.0" y="211.4" width="1.0" height="149.7" fill="url(#gA28)"/>
<rect x="1437.0" y="212.0" width="1.0" height="149.7" fill="url(#gA25)"/>
<rect x="1438.0" y="210.4" width="1.0" height="149.6" fill="url(#gA26)"/>
<rect x="1439.0" y="211.0" width="1.0" height="149.3" fill="url(#gA29)"/>
<rect x="1440.0" y="211.2" width="1.0" height="150.9" fill="url(#gA28)"/>
<rect x="1441.0" y="210.8" width="1.0" height="150.6" fill="url(#gA28)"/>
<rect x="1442.0" y="211.2" width="1.0" height="150.5" fill="url(#gA29)"/>
<rect x="1443.0" y="210.6" width="1.0" height="150.4" fill="url(#gA216)"/>
<rect x="1444.0" y="211.6" width="1.0" height="150.0" fill="url(#gA217)"/>
<rect x="1445.0" y="209.7" width="1.0" height="151.5" fill="url(#gA217)"/>
<rect x="1446.0" y="209.6" width="1.0" height="152.1" fill="url(#gA215)"/>
<rect x="1447.0" y="211.0" width="1.0" height="149.3" fill="url(#gA215)"/>
<rect x="1448.0" y="211.8" width="1.0" height="149.7" fill="url(#gA215)"/>
<rect x="1449.0" y="210.5" width="1.0" height="151.9" fill="url(#gA216)"/>
<rect x="1450.0" y="209.7" width="1.0" height="151.0" fill="url(#gA25)"/>
<rect x="1451.0" y="210.5" width="1.0" height="151.9" fill="url(#gA25)"/>
<rect x="1452.0" y="211.2" width="1.0" height="149.5" fill="url(#gA23)"/>
<rect x="1453.0" y="210.0" width="1.0" height="151.9" fill="url(#gA23)"/>
<rect x="1454.0" y="211.2" width="1.0" height="150.8" fill="url(#gA24)"/>
<rect x="1455.0" y="211.2" width="1.0" height="150.5" fill="url(#gA23)"/>
<rect x="1456.0" y="211.3" width="1.0" height="149.9" fill="url(#gA24)"/>
<rect x="1457.0" y="209.7" width="1.0" height="151.4" fill="url(#gA220)"/>
<rect x="1458.0" y="210.0" width="1.0" height="152.0" fill="url(#gA220)"/>
<rect x="1459.0" y="209.8" width="1.0" height="152.1" fill="url(#gA219)"/>
<rect x="1460.0" y="209.2" width="1.0" height="153.3" fill="url(#gA220)"/>
<rect x="1461.0" y="209.5" width="1.0" height="151.6" fill="url(#gA218)"/>
<rect x="1462.0" y="210.9" width="1.0" height="151.1" fill="url(#gA218)"/>
<rect x="1463.0" y="209.7" width="1.0" height="152.0" fill="url(#gA217)"/>
<rect x="1464.0" y="210.7" width="1.0" height="151.6" fill="url(#gA219)"/>
<rect x="1465.0" y="210.9" width="1.0" height="150.2" fill="url(#gA217)"/>
<rect x="1466.0" y="208.8" width="1.0" height="154.4" fill="url(#gA221)"/>
<rect x="1467.0" y="210.3" width="1.0" height="152.8" fill="url(#gA218)"/>
<rect x="1468.0" y="209.2" width="1.0" height="152.1" fill="url(#gA219)"/>
<rect x="1469.0" y="210.0" width="1.0" height="151.9" fill="url(#gA219)"/>
<rect x="1470.0" y="209.7" width="1.0" height="151.5" fill="url(#gA217)"/>
<rect x="1471.0" y="209.4" width="1.0" height="152.0" fill="url(#gA220)"/>
<rect x="1472.0" y="208.8" width="1.0" height="152.5" fill="url(#gA211)"/>
<rect x="1473.0" y="211.0" width="1.0" height="150.9" fill="url(#gA212)"/>
<rect x="1474.0" y="210.8" width="1.0" height="151.7" fill="url(#gA218)"/>
<rect x="1475.0" y="208.6" width="1.0" height="154.5" fill="url(#gA220)"/>
<rect x="1476.0" y="210.3" width="1.0" height="151.3" fill="url(#gA219)"/>
<rect x="1477.0" y="210.0" width="1.0" height="152.7" fill="url(#gA219)"/>
<rect x="1478.0" y="208.8" width="1.0" height="154.0" fill="url(#gA222)"/>
<rect x="1479.0" y="209.1" width="1.0" height="153.1" fill="url(#gA217)"/>
<rect x="1480.0" y="210.7" width="1.0" height="150.6" fill="url(#gA220)"/>
<rect x="1481.0" y="208.4" width="1.0" height="153.9" fill="url(#gA219)"/>
<rect x="1482.0" y="209.6" width="1.0" height="152.2" fill="url(#gA219)"/>
<rect x="1483.0" y="209.3" width="0.5" height="152.6" fill="url(#gA218)"/>
</g>
<rect x="1195.0" y="210.4" width="288.5" height="150.8" filter="url(#spk)" opacity="0.55"/>
<rect x="1196.0" y="356.1" width="1" height="32.0" fill="url(#td)"/>
<rect x="1199.0" y="355.6" width="1" height="33.6" fill="url(#td)"/>
<rect x="1201.0" y="199.7" width="1" height="16.9" fill="url(#tu)"/>
<rect x="1208.0" y="203.2" width="1" height="12.1" fill="url(#tu)"/>
<rect x="1208.0" y="356.6" width="1" height="26.3" fill="url(#td)"/>
<rect x="1215.0" y="187.7" width="1" height="28.8" fill="url(#tu)"/>
<rect x="1216.0" y="355.9" width="1" height="35.7" fill="url(#td)"/>
<rect x="1222.0" y="193.4" width="1" height="22.5" fill="url(#tu)"/>
<rect x="1223.0" y="205.3" width="1" height="10.8" fill="url(#tu)"/>
<rect x="1226.0" y="180.2" width="1" height="34.6" fill="url(#tu)"/>
<rect x="1231.0" y="182.8" width="1" height="33.8" fill="url(#tu)"/>
<rect x="1237.0" y="205.6" width="1" height="10.2" fill="url(#tu)"/>
<rect x="1244.0" y="181.1" width="1" height="35.4" fill="url(#tu)"/>
<rect x="1246.0" y="200.6" width="1" height="16.1" fill="url(#tu)"/>
<rect x="1251.0" y="200.8" width="1" height="15.0" fill="url(#tu)"/>
<rect x="1256.0" y="357.0" width="1" height="14.0" fill="url(#td)"/>
<rect x="1261.0" y="186.4" width="1" height="29.1" fill="url(#tu)"/>
<rect x="1263.0" y="195.8" width="1" height="19.2" fill="url(#tu)"/>
<rect x="1264.0" y="357.6" width="1" height="20.1" fill="url(#td)"/>
<rect x="1269.0" y="358.0" width="1" height="19.9" fill="url(#td)"/>
<rect x="1270.0" y="358.0" width="1" height="31.1" fill="url(#td)"/>
<rect x="1272.0" y="357.3" width="1" height="17.7" fill="url(#td)"/>
<rect x="1279.0" y="205.3" width="1" height="9.9" fill="url(#tu)"/>
<rect x="1282.0" y="199.5" width="1" height="17.3" fill="url(#tu)"/>
<rect x="1296.0" y="194.2" width="1" height="21.2" fill="url(#tu)"/>
<rect x="1301.0" y="206.7" width="1" height="8.3" fill="url(#tu)"/>
<rect x="1302.0" y="358.0" width="1" height="17.8" fill="url(#td)"/>
<rect x="1303.0" y="185.4" width="1" height="31.5" fill="url(#tu)"/>
<rect x="1304.0" y="199.6" width="1" height="16.0" fill="url(#tu)"/>
<rect x="1312.0" y="356.8" width="1" height="21.2" fill="url(#td)"/>
<rect x="1313.0" y="193.1" width="1" height="23.3" fill="url(#tu)"/>
<rect x="1314.0" y="200.6" width="1" height="15.5" fill="url(#tu)"/>
<rect x="1314.0" y="355.8" width="1" height="15.7" fill="url(#td)"/>
<rect x="1315.0" y="356.3" width="1" height="9.5" fill="url(#td)"/>
<rect x="1320.0" y="357.0" width="1" height="14.9" fill="url(#td)"/>
<rect x="1335.0" y="356.1" width="1" height="6.2" fill="url(#td)"/>
<rect x="1338.0" y="356.5" width="1" height="29.3" fill="url(#td)"/>
<rect x="1345.0" y="199.4" width="1" height="16.7" fill="url(#tu)"/>
<rect x="1347.0" y="185.0" width="1" height="30.3" fill="url(#tu)"/>
<rect x="1352.0" y="191.6" width="1" height="24.8" fill="url(#tu)"/>
<rect x="1354.0" y="357.5" width="1" height="24.2" fill="url(#td)"/>
<rect x="1356.0" y="200.0" width="1" height="15.5" fill="url(#tu)"/>
<rect x="1358.0" y="183.3" width="1" height="32.6" fill="url(#tu)"/>
<rect x="1360.0" y="190.5" width="1" height="26.2" fill="url(#tu)"/>
<rect x="1372.0" y="357.2" width="1" height="6.0" fill="url(#td)"/>
<rect x="1373.0" y="193.0" width="1" height="24.4" fill="url(#tu)"/>
<rect x="1393.0" y="198.8" width="1" height="17.1" fill="url(#tu)"/>
<rect x="1401.0" y="356.6" width="1" height="8.8" fill="url(#td)"/>
<rect x="1402.0" y="356.7" width="1" height="18.5" fill="url(#td)"/>
<rect x="1415.0" y="357.8" width="1" height="14.8" fill="url(#td)"/>
<rect x="1416.0" y="358.1" width="1" height="15.2" fill="url(#td)"/>
<rect x="1434.0" y="196.6" width="1" height="18.7" fill="url(#tu)"/>
<rect x="1436.0" y="188.3" width="1" height="26.1" fill="url(#tu)"/>
<rect x="1437.0" y="358.8" width="1" height="21.3" fill="url(#td)"/>
<rect x="1439.0" y="357.3" width="1" height="26.7" fill="url(#td)"/>
<rect x="1444.0" y="358.6" width="1" height="11.6" fill="url(#td)"/>
<rect x="1451.0" y="359.4" width="1" height="20.4" fill="url(#td)"/>
<rect x="1452.0" y="357.8" width="1" height="18.2" fill="url(#td)"/>
<rect x="1454.0" y="359.0" width="1" height="21.4" fill="url(#td)"/>
<rect x="1466.0" y="360.2" width="1" height="9.2" fill="url(#td)"/>
<rect x="1467.0" y="360.2" width="1" height="20.1" fill="url(#td)"/>
<rect x="1468.0" y="185.9" width="1" height="26.3" fill="url(#tu)"/>
<rect x="1470.0" y="358.2" width="1" height="35.2" fill="url(#td)"/>
<rect x="1471.0" y="358.4" width="1" height="7.4" fill="url(#td)"/>
<rect x="1473.0" y="358.9" width="1" height="29.8" fill="url(#td)"/>
<rect x="1477.0" y="188.5" width="1" height="24.4" fill="url(#tu)"/>
<rect x="1483.0" y="358.9" width="1" height="12.1" fill="url(#td)"/>
<g shape-rendering="crispEdges">
<rect x="489.0" y="534.0" width="1.0" height="86.5" fill="url(#gB119)"/>
<rect x="490.0" y="534.2" width="1.0" height="86.9" fill="url(#gB122)"/>
<rect x="491.0" y="535.6" width="1.0" height="84.4" fill="url(#gB122)"/>
<rect x="492.0" y="535.4" width="1.0" height="83.8" fill="url(#gB120)"/>
<rect x="493.0" y="534.9" width="1.0" height="86.2" fill="url(#gB122)"/>
<rect x="494.0" y="535.5" width="1.0" height="83.6" fill="url(#gB119)"/>
<rect x="495.0" y="535.3" width="1.0" height="84.2" fill="url(#gB120)"/>
<rect x="496.0" y="535.8" width="1.0" height="83.2" fill="url(#gB121)"/>
<rect x="497.0" y="535.8" width="1.0" height="85.0" fill="url(#gB119)"/>
<rect x="498.0" y="535.9" width="1.0" height="84.7" fill="url(#gB121)"/>
<rect x="499.0" y="534.6" width="1.0" height="86.0" fill="url(#gB19)"/>
<rect x="500.0" y="536.1" width="1.0" height="84.9" fill="url(#gB121)"/>
<rect x="501.0" y="536.0" width="1.0" height="83.4" fill="url(#gB121)"/>
<rect x="502.0" y="533.8" width="1.0" height="85.2" fill="url(#gB121)"/>
<rect x="503.0" y="536.1" width="1.0" height="83.4" fill="url(#gB123)"/>
<rect x="504.0" y="534.6" width="1.0" height="86.3" fill="url(#gB121)"/>
<rect x="505.0" y="534.5" width="1.0" height="85.0" fill="url(#gB14)"/>
<rect x="506.0" y="535.5" width="1.0" height="85.6" fill="url(#gB11)"/>
<rect x="507.0" y="536.1" width="1.0" height="83.3" fill="url(#gB111)"/>
<rect x="508.0" y="536.0" width="1.0" height="85.0" fill="url(#gB121)"/>
<rect x="509.0" y="535.3" width="1.0" height="84.0" fill="url(#gB118)"/>
<rect x="510.0" y="535.7" width="1.0" height="84.5" fill="url(#gB119)"/>
<rect x="511.0" y="535.5" width="1.0" height="84.6" fill="url(#gB120)"/>
<rect x="512.0" y="535.4" width="1.0" height="84.7" fill="url(#gB120)"/>
<rect x="513.0" y="536.1" width="1.0" height="83.6" fill="url(#gB120)"/>
<rect x="514.0" y="535.3" width="1.0" height="85.2" fill="url(#gB121)"/>
<rect x="515.0" y="534.4" width="1.0" height="86.5" fill="url(#gB119)"/>
<rect x="516.0" y="536.1" width="1.0" height="84.1" fill="url(#gB119)"/>
<rect x="517.0" y="535.5" width="1.0" height="84.1" fill="url(#gB114)"/>
<rect x="518.0" y="533.8" width="1.0" height="87.3" fill="url(#gB122)"/>
<rect x="519.0" y="536.1" width="1.0" height="84.8" fill="url(#gB119)"/>
<rect x="520.0" y="534.9" width="1.0" height="84.3" fill="url(#gB115)"/>
<rect x="521.0" y="534.9" width="1.0" height="84.2" fill="url(#gB113)"/>
<rect x="522.0" y="535.0" width="1.0" height="85.9" fill="url(#gB114)"/>
<rect x="523.0" y="534.5" width="1.0" height="85.1" fill="url(#gB113)"/>
<rect x="524.0" y="533.9" width="1.0" height="86.3" fill="url(#gB15)"/>
<rect x="525.0" y="535.1" width="1.0" height="85.2" fill="url(#gB14)"/>
<rect x="526.0" y="533.8" width="1.0" height="85.8" fill="url(#gB11)"/>
<rect x="527.0" y="534.1" width="1.0" height="84.9" fill="url(#gB110)"/>
<rect x="528.0" y="535.4" width="1.0" height="83.6" fill="url(#gB110)"/>
<rect x="529.0" y="534.7" width="1.0" height="86.4" fill="url(#gB18)"/>
<rect x="530.0" y="534.3" width="1.0" height="85.2" fill="url(#gB111)"/>
<rect x="531.0" y="535.5" width="1.0" height="84.8" fill="url(#gB110)"/>
<rect x="532.0" y="534.2" width="1.0" height="84.9" fill="url(#gB19)"/>
<rect x="533.0" y="534.0" width="1.0" height="85.9" fill="url(#gB18)"/>
<rect x="534.0" y="535.8" width="1.0" height="84.1" fill="url(#gB115)"/>
<rect x="535.0" y="533.7" width="1.0" height="87.1" fill="url(#gB112)"/>
<rect x="536.0" y="535.1" width="1.0" height="85.1" fill="url(#gB17)"/>
<rect x="537.0" y="534.8" width="1.0" height="84.4" fill="url(#gB116)"/>
<rect x="538.0" y="535.7" width="1.0" height="84.1" fill="url(#gB112)"/>
<rect x="539.0" y="534.9" width="1.0" height="86.3" fill="url(#gB114)"/>
<rect x="540.0" y="535.1" width="1.0" height="84.4" fill="url(#gB113)"/>
<rect x="541.0" y="534.4" width="1.0" height="85.2" fill="url(#gB115)"/>
<rect x="542.0" y="534.6" width="1.0" height="85.3" fill="url(#gB18)"/>
<rect x="543.0" y="536.0" width="1.0" height="83.5" fill="url(#gB116)"/>
<rect x="544.0" y="536.0" width="1.0" height="83.0" fill="url(#gB113)"/>
<rect x="545.0" y="534.9" width="1.0" height="85.6" fill="url(#gB114)"/>
<rect x="546.0" y="534.6" width="1.0" height="86.7" fill="url(#gB115)"/>
<rect x="547.0" y="535.7" width="1.0" height="84.8" fill="url(#gB114)"/>
<rect x="548.0" y="534.9" width="1.0" height="86.3" fill="url(#gB115)"/>
<rect x="549.0" y="534.3" width="1.0" height="85.1" fill="url(#gB113)"/>
<rect x="550.0" y="535.2" width="1.0" height="85.2" fill="url(#gB111)"/>
<rect x="551.0" y="534.8" width="1.0" height="84.4" fill="url(#gB18)"/>
<rect x="552.0" y="534.2" width="1.0" height="87.0" fill="url(#gB19)"/>
<rect x="553.0" y="535.1" width="1.0" height="84.3" fill="url(#gB17)"/>
<rect x="554.0" y="536.0" width="1.0" height="84.1" fill="url(#gB19)"/>
<rect x="555.0" y="534.5" width="1.0" height="86.8" fill="url(#gB111)"/>
<rect x="556.0" y="535.4" width="1.0" height="84.4" fill="url(#gB116)"/>
<rect x="557.0" y="535.5" width="1.0" height="84.4" fill="url(#gB114)"/>
<rect x="558.0" y="535.0" width="1.0" height="85.2" fill="url(#gB115)"/>
<rect x="559.0" y="535.9" width="1.0" height="85.2" fill="url(#gB113)"/>
<rect x="560.0" y="535.6" width="1.0" height="83.9" fill="url(#gB16)"/>
<rect x="561.0" y="534.6" width="1.0" height="85.0" fill="url(#gB114)"/>
<rect x="562.0" y="535.1" width="1.0" height="85.4" fill="url(#gB114)"/>
<rect x="563.0" y="534.0" width="1.0" height="85.8" fill="url(#gB114)"/>
<rect x="564.0" y="535.5" width="1.0" height="85.3" fill="url(#gB114)"/>
<rect x="565.0" y="534.5" width="1.0" height="85.7" fill="url(#gB112)"/>
<rect x="566.0" y="535.5" width="1.0" height="84.7" fill="url(#gB114)"/>
<rect x="567.0" y="534.9" width="1.0" height="84.2" fill="url(#gB113)"/>
<rect x="568.0" y="534.2" width="1.0" height="85.5" fill="url(#gB115)"/>
<rect x="569.0" y="534.2" width="1.0" height="85.3" fill="url(#gB14)"/>
<rect x="570.0" y="534.1" width="1.0" height="85.9" fill="url(#gB14)"/>
<rect x="571.0" y="534.4" width="1.0" height="85.5" fill="url(#gB16)"/>
<rect x="572.0" y="534.5" width="1.0" height="86.5" fill="url(#gB11)"/>
<rect x="573.0" y="533.7" width="1.0" height="86.4" fill="url(#gB114)"/>
<rect x="574.0" y="535.3" width="1.0" height="84.4" fill="url(#gB117)"/>
<rect x="575.0" y="533.8" width="1.0" height="87.3" fill="url(#gB115)"/>
<rect x="576.0" y="535.3" width="1.0" height="84.8" fill="url(#gB116)"/>
<rect x="577.0" y="535.6" width="1.0" height="85.9" fill="url(#gB115)"/>
<rect x="578.0" y="533.7" width="1.0" height="86.0" fill="url(#gB113)"/>
<rect x="579.0" y="535.2" width="1.0" height="85.8" fill="url(#gB116)"/>
<rect x="580.0" y="534.2" width="1.0" height="86.2" fill="url(#gB117)"/>
<rect x="581.0" y="533.7" width="1.0" height="87.4" fill="url(#gB117)"/>
<rect x="582.0" y="534.8" width="1.0" height="86.3" fill="url(#gB115)"/>
<rect x="583.0" y="535.1" width="1.0" height="84.0" fill="url(#gB116)"/>
<rect x="584.0" y="535.7" width="1.0" height="84.1" fill="url(#gB115)"/>
<rect x="585.0" y="535.6" width="1.0" height="85.1" fill="url(#gB113)"/>
<rect x="586.0" y="533.8" width="1.0" height="85.9" fill="url(#gB114)"/>
<rect x="587.0" y="534.5" width="1.0" height="85.7" fill="url(#gB117)"/>
<rect x="588.0" y="533.8" width="1.0" height="86.6" fill="url(#gB114)"/>
<rect x="589.0" y="534.0" width="1.0" height="85.3" fill="url(#gB115)"/>
<rect x="590.0" y="535.6" width="1.0" height="84.1" fill="url(#gB116)"/>
<rect x="591.0" y="535.5" width="1.0" height="83.9" fill="url(#gB117)"/>
<rect x="592.0" y="534.5" width="1.0" height="85.2" fill="url(#gB113)"/>
<rect x="593.0" y="534.6" width="1.0" height="86.7" fill="url(#gB117)"/>
<rect x="594.0" y="535.8" width="1.0" height="84.7" fill="url(#gB13)"/>
<rect x="595.0" y="535.0" width="1.0" height="84.5" fill="url(#gB15)"/>
<rect x="596.0" y="535.4" width="1.0" height="84.4" fill="url(#gB13)"/>
<rect x="597.0" y="535.0" width="1.0" height="85.3" fill="url(#gB18)"/>
<rect x="598.0" y="534.7" width="1.0" height="85.8" fill="url(#gB16)"/>
<rect x="599.0" y="534.9" width="1.0" height="84.8" fill="url(#gB17)"/>
<rect x="600.0" y="533.7" width="1.0" height="86.0" fill="url(#gB16)"/>
<rect x="601.0" y="534.8" width="1.0" height="85.9" fill="url(#gB11)"/>
<rect x="602.0" y="535.8" width="1.0" height="84.3" fill="url(#gB16)"/>
<rect x="603.0" y="533.7" width="1.0" height="87.6" fill="url(#gB15)"/>
<rect x="604.0" y="535.3" width="1.0" height="86.1" fill="url(#gB16)"/>
<rect x="605.0" y="534.0" width="1.0" height="86.2" fill="url(#gB16)"/>
<rect x="606.0" y="534.9" width="1.0" height="86.2" fill="url(#gB12)"/>
<rect x="607.0" y="535.9" width="1.0" height="83.5" fill="url(#gB15)"/>
<rect x="608.0" y="534.3" width="1.0" height="85.3" fill="url(#gB15)"/>
<rect x="609.0" y="533.7" width="1.0" height="86.5" fill="url(#gB17)"/>
<rect x="610.0" y="535.0" width="1.0" height="86.5" fill="url(#gB14)"/>
<rect x="611.0" y="533.9" width="1.0" height="87.7" fill="url(#gB14)"/>
<rect x="612.0" y="534.4" width="1.0" height="86.3" fill="url(#gB16)"/>
<rect x="613.0" y="535.2" width="1.0" height="84.8" fill="url(#gB124)"/>
<rect x="614.0" y="535.3" width="1.0" height="84.1" fill="url(#gB118)"/>
<rect x="615.0" y="535.0" width="1.0" height="85.4" fill="url(#gB125)"/>
<rect x="616.0" y="535.0" width="1.0" height="86.4" fill="url(#gB125)"/>
<rect x="617.0" y="534.2" width="1.0" height="86.6" fill="url(#gB125)"/>
<rect x="618.0" y="533.7" width="1.0" height="86.7" fill="url(#gB126)"/>
<rect x="619.0" y="535.3" width="1.0" height="84.4" fill="url(#gB126)"/>
<rect x="620.0" y="534.0" width="1.0" height="86.9" fill="url(#gB126)"/>
<rect x="621.0" y="535.5" width="1.0" height="85.4" fill="url(#gB127)"/>
<rect x="622.0" y="534.7" width="1.0" height="86.0" fill="url(#gB124)"/>
<rect x="623.0" y="533.9" width="1.0" height="85.6" fill="url(#gB123)"/>
<rect x="624.0" y="535.9" width="1.0" height="84.9" fill="url(#gB124)"/>
<rect x="625.0" y="534.8" width="1.0" height="86.0" fill="url(#gB126)"/>
<rect x="626.0" y="533.8" width="1.0" height="85.5" fill="url(#gB117)"/>
<rect x="627.0" y="533.8" width="1.0" height="87.7" fill="url(#gB124)"/>
<rect x="628.0" y="534.1" width="1.0" height="87.1" fill="url(#gB125)"/>
<rect x="629.0" y="535.7" width="1.0" height="84.0" fill="url(#gB123)"/>
<rect x="630.0" y="534.5" width="1.0" height="86.4" fill="url(#gB117)"/>
<rect x="631.0" y="534.9" width="1.0" height="86.1" fill="url(#gB18)"/>
<rect x="632.0" y="534.6" width="1.0" height="86.5" fill="url(#gB17)"/>
<rect x="633.0" y="533.8" width="1.0" height="87.1" fill="url(#gB115)"/>
<rect x="634.0" y="534.1" width="1.0" height="87.6" fill="url(#gB110)"/>
<rect x="635.0" y="534.4" width="1.0" height="85.4" fill="url(#gB117)"/>
<rect x="636.0" y="534.8" width="1.0" height="86.7" fill="url(#gB115)"/>
<rect x="637.0" y="533.9" width="1.0" height="86.7" fill="url(#gB117)"/>
<rect x="638.0" y="534.2" width="1.0" height="86.6" fill="url(#gB117)"/>
<rect x="639.0" y="534.3" width="1.0" height="86.9" fill="url(#gB118)"/>
<rect x="640.0" y="535.1" width="1.0" height="85.8" fill="url(#gB115)"/>
<rect x="641.0" y="533.8" width="1.0" height="85.7" fill="url(#gB115)"/>
<rect x="642.0" y="535.7" width="1.0" height="84.6" fill="url(#gB115)"/>
<rect x="643.0" y="535.3" width="1.0" height="86.3" fill="url(#gB117)"/>
<rect x="644.0" y="534.6" width="1.0" height="87.1" fill="url(#gB115)"/>
<rect x="645.0" y="535.0" width="1.0" height="84.5" fill="url(#gB114)"/>
<rect x="646.0" y="535.0" width="1.0" height="86.5" fill="url(#gB117)"/>
<rect x="647.0" y="535.3" width="1.0" height="84.5" fill="url(#gB117)"/>
<rect x="648.0" y="535.2" width="1.0" height="85.1" fill="url(#gB11)"/>
<rect x="649.0" y="534.9" width="1.0" height="85.5" fill="url(#gB13)"/>
<rect x="650.0" y="534.9" width="1.0" height="85.2" fill="url(#gB14)"/>
<rect x="651.0" y="533.5" width="1.0" height="87.6" fill="url(#gB125)"/>
<rect x="652.0" y="533.9" width="1.0" height="86.1" fill="url(#gB119)"/>
<rect x="653.0" y="533.7" width="1.0" height="85.9" fill="url(#gB125)"/>
<rect x="654.0" y="534.2" width="1.0" height="85.3" fill="url(#gB126)"/>
<rect x="655.0" y="533.6" width="1.0" height="87.3" fill="url(#gB124)"/>
<rect x="656.0" y="535.9" width="1.0" height="83.9" fill="url(#gB123)"/>
<rect x="657.0" y="535.5" width="1.0" height="83.9" fill="url(#gB125)"/>
<rect x="658.0" y="533.6" width="1.0" height="87.1" fill="url(#gB122)"/>
<rect x="659.0" y="534.7" width="1.0" height="86.1" fill="url(#gB126)"/>
<rect x="660.0" y="534.2" width="1.0" height="86.1" fill="url(#gB124)"/>
<rect x="661.0" y="534.8" width="1.0" height="85.1" fill="url(#gB124)"/>
<rect x="662.0" y="535.9" width="1.0" height="83.8" fill="url(#gB124)"/>
<rect x="663.0" y="534.7" width="1.0" height="86.4" fill="url(#gB15)"/>
<rect x="664.0" y="533.9" width="1.0" height="86.0" fill="url(#gB16)"/>
<rect x="665.0" y="534.3" width="1.0" height="86.3" fill="url(#gB116)"/>
<rect x="666.0" y="535.8" width="1.0" height="85.3" fill="url(#gB114)"/>
<rect x="667.0" y="535.5" width="1.0" height="84.2" fill="url(#gB115)"/>
<rect x="668.0" y="535.6" width="1.0" height="85.1" fill="url(#gB115)"/>
<rect x="669.0" y="533.9" width="1.0" height="86.0" fill="url(#gB116)"/>
<rect x="670.0" y="535.0" width="1.0" height="86.5" fill="url(#gB113)"/>
<rect x="671.0" y="535.0" width="1.0" height="86.8" fill="url(#gB116)"/>
<rect x="672.0" y="534.7" width="1.0" height="85.8" fill="url(#gB115)"/>
<rect x="673.0" y="533.9" width="1.0" height="85.9" fill="url(#gB115)"/>
<rect x="674.0" y="534.5" width="1.0" height="86.2" fill="url(#gB115)"/>
<rect x="675.0" y="535.4" width="1.0" height="84.8" fill="url(#gB116)"/>
<rect x="676.0" y="535.6" width="1.0" height="83.8" fill="url(#gB14)"/>
<rect x="677.0" y="535.7" width="1.0" height="85.9" fill="url(#gB14)"/>
<rect x="678.0" y="534.8" width="1.0" height="86.1" fill="url(#gB15)"/>
<rect x="679.0" y="534.9" width="1.0" height="84.7" fill="url(#gB14)"/>
<rect x="680.0" y="534.5" width="1.0" height="86.2" fill="url(#gB12)"/>
<rect x="681.0" y="535.0" width="1.0" height="86.9" fill="url(#gB15)"/>
<rect x="682.0" y="535.2" width="1.0" height="84.5" fill="url(#gB14)"/>
<rect x="683.0" y="535.5" width="1.0" height="84.8" fill="url(#gB113)"/>
<rect x="684.0" y="535.0" width="1.0" height="86.7" fill="url(#gB114)"/>
<rect x="685.0" y="535.7" width="1.0" height="83.8" fill="url(#gB113)"/>
<rect x="686.0" y="534.0" width="1.0" height="87.6" fill="url(#gB17)"/>
<rect x="687.0" y="534.6" width="1.0" height="85.4" fill="url(#gB19)"/>
<rect x="688.0" y="533.9" width="1.0" height="87.5" fill="url(#gB18)"/>
<rect x="689.0" y="534.0" width="1.0" height="86.5" fill="url(#gB19)"/>
<rect x="690.0" y="533.7" width="1.0" height="86.8" fill="url(#gB13)"/>
<rect x="691.0" y="534.8" width="1.0" height="87.1" fill="url(#gB17)"/>
<rect x="692.0" y="534.9" width="1.0" height="86.3" fill="url(#gB17)"/>
<rect x="693.0" y="534.1" width="1.0" height="87.2" fill="url(#gB17)"/>
<rect x="694.0" y="534.9" width="1.0" height="85.4" fill="url(#gB17)"/>
<rect x="695.0" y="534.8" width="1.0" height="86.8" fill="url(#gB11)"/>
<rect x="696.0" y="535.8" width="1.0" height="85.1" fill="url(#gB19)"/>
<rect x="697.0" y="534.3" width="1.0" height="87.6" fill="url(#gB17)"/>
<rect x="698.0" y="534.4" width="1.0" height="85.6" fill="url(#gB112)"/>
<rect x="699.0" y="535.5" width="1.0" height="84.9" fill="url(#gB113)"/>
<rect x="700.0" y="535.7" width="1.0" height="86.2" fill="url(#gB112)"/>
<rect x="701.0" y="533.8" width="1.0" height="87.6" fill="url(#gB111)"/>
<rect x="702.0" y="533.7" width="1.0" height="86.9" fill="url(#gB114)"/>
<rect x="703.0" y="533.9" width="1.0" height="85.7" fill="url(#gB112)"/>
<rect x="704.0" y="534.1" width="1.0" height="86.1" fill="url(#gB114)"/>
<rect x="705.0" y="535.8" width="1.0" height="84.2" fill="url(#gB111)"/>
<rect x="706.0" y="535.3" width="1.0" height="85.2" fill="url(#gB110)"/>
<rect x="707.0" y="535.5" width="1.0" height="84.8" fill="url(#gB113)"/>
<rect x="708.0" y="534.3" width="1.0" height="86.5" fill="url(#gB114)"/>
<rect x="709.0" y="533.7" width="1.0" height="88.1" fill="url(#gB111)"/>
<rect x="710.0" y="534.2" width="1.0" height="86.4" fill="url(#gB115)"/>
<rect x="711.0" y="535.2" width="1.0" height="86.3" fill="url(#gB111)"/>
<rect x="712.0" y="534.3" width="1.0" height="86.9" fill="url(#gB112)"/>
<rect x="713.0" y="533.4" width="1.0" height="87.0" fill="url(#gB112)"/>
<rect x="714.0" y="534.3" width="1.0" height="86.1" fill="url(#gB111)"/>
<rect x="715.0" y="533.4" width="1.0" height="87.7" fill="url(#gB111)"/>
<rect x="716.0" y="534.4" width="1.0" height="87.5" fill="url(#gB111)"/>
<rect x="717.0" y="535.5" width="1.0" height="85.3" fill="url(#gB18)"/>
<rect x="718.0" y="534.1" width="1.0" height="86.7" fill="url(#gB110)"/>
<rect x="719.0" y="533.5" width="1.0" height="87.2" fill="url(#gB19)"/>
<rect x="720.0" y="534.3" width="1.0" height="87.4" fill="url(#gB19)"/>
<rect x="721.0" y="533.9" width="1.0" height="85.8" fill="url(#gB111)"/>
<rect x="722.0" y="534.9" width="1.0" height="86.1" fill="url(#gB13)"/>
<rect x="723.0" y="533.6" width="1.0" height="87.8" fill="url(#gB19)"/>
<rect x="724.0" y="535.3" width="1.0" height="85.6" fill="url(#gB16)"/>
<rect x="725.0" y="535.5" width="1.0" height="84.4" fill="url(#gB18)"/>
<rect x="726.0" y="534.4" width="1.0" height="87.5" fill="url(#gB17)"/>
<rect x="727.0" y="534.5" width="1.0" height="86.0" fill="url(#gB19)"/>
<rect x="728.0" y="535.2" width="1.0" height="85.5" fill="url(#gB110)"/>
<rect x="729.0" y="535.6" width="1.0" height="86.3" fill="url(#gB18)"/>
<rect x="730.0" y="533.5" width="1.0" height="86.8" fill="url(#gB15)"/>
<rect x="731.0" y="534.7" width="1.0" height="85.2" fill="url(#gB19)"/>
<rect x="732.0" y="534.5" width="1.0" height="85.8" fill="url(#gB116)"/>
<rect x="733.0" y="535.4" width="1.0" height="85.7" fill="url(#gB117)"/>
<rect x="734.0" y="533.4" width="1.0" height="87.2" fill="url(#gB115)"/>
<rect x="735.0" y="534.9" width="1.0" height="86.4" fill="url(#gB116)"/>
<rect x="736.0" y="534.3" width="1.0" height="87.2" fill="url(#gB115)"/>
<rect x="737.0" y="534.4" width="1.0" height="85.8" fill="url(#gB19)"/>
<rect x="738.0" y="534.6" width="1.0" height="86.0" fill="url(#gB114)"/>
<rect x="739.0" y="533.7" width="1.0" height="87.2" fill="url(#gB116)"/>
<rect x="740.0" y="533.4" width="1.0" height="86.5" fill="url(#gB115)"/>
<rect x="741.0" y="533.8" width="1.0" height="87.8" fill="url(#gB16)"/>
<rect x="742.0" y="535.0" width="1.0" height="86.0" fill="url(#gB114)"/>
<rect x="743.0" y="535.4" width="1.0" height="84.3" fill="url(#gB19)"/>
<rect x="744.0" y="534.6" width="1.0" height="85.2" fill="url(#gB110)"/>
<rect x="745.0" y="535.0" width="1.0" height="85.3" fill="url(#gB119)"/>
<rect x="746.0" y="533.5" width="1.0" height="87.6" fill="url(#gB122)"/>
<rect x="747.0" y="533.4" width="1.0" height="88.7" fill="url(#gB120)"/>
<rect x="748.0" y="535.3" width="1.0" height="84.4" fill="url(#gB121)"/>
<rect x="749.0" y="533.5" width="1.0" height="87.8" fill="url(#gB119)"/>
<rect x="750.0" y="534.2" width="1.0" height="87.7" fill="url(#gB118)"/>
<rect x="751.0" y="533.4" width="1.0" height="87.0" fill="url(#gB121)"/>
<rect x="752.0" y="535.0" width="1.0" height="85.2" fill="url(#gB113)"/>
<rect x="753.0" y="535.2" width="1.0" height="85.1" fill="url(#gB119)"/>
<rect x="754.0" y="534.8" width="1.0" height="87.2" fill="url(#gB120)"/>
<rect x="755.0" y="534.2" width="1.0" height="87.4" fill="url(#gB120)"/>
<rect x="756.0" y="533.6" width="1.0" height="88.4" fill="url(#gB121)"/>
<rect x="757.0" y="533.8" width="1.0" height="86.1" fill="url(#gB120)"/>
<rect x="758.0" y="534.0" width="1.0" height="87.6" fill="url(#gB116)"/>
<rect x="759.0" y="534.2" width="1.0" height="87.8" fill="url(#gB120)"/>
<rect x="760.0" y="533.6" width="1.0" height="87.5" fill="url(#gB119)"/>
<rect x="761.0" y="535.1" width="1.0" height="86.5" fill="url(#gB121)"/>
<rect x="762.0" y="534.2" width="1.0" height="87.9" fill="url(#gB122)"/>
<rect x="763.0" y="535.4" width="1.0" height="86.6" fill="url(#gB118)"/>
<rect x="764.0" y="535.5" width="1.0" height="85.1" fill="url(#gB122)"/>
<rect x="765.0" y="534.3" width="1.0" height="86.3" fill="url(#gB122)"/>
<rect x="766.0" y="535.6" width="1.0" height="84.4" fill="url(#gB122)"/>
<rect x="767.0" y="535.2" width="1.0" height="85.9" fill="url(#gB121)"/>
<rect x="768.0" y="534.7" width="1.0" height="87.1" fill="url(#gB118)"/>
<rect x="769.0" y="535.7" width="1.0" height="85.0" fill="url(#gB120)"/>
<rect x="770.0" y="534.3" width="1.0" height="86.9" fill="url(#gB113)"/>
<rect x="771.0" y="534.0" width="1.0" height="87.7" fill="url(#gB113)"/>
<rect x="772.0" y="533.7" width="1.0" height="86.8" fill="url(#gB123)"/>
<rect x="773.0" y="533.9" width="1.0" height="88.0" fill="url(#gB121)"/>
<rect x="774.0" y="534.3" width="1.0" height="86.5" fill="url(#gB122)"/>
<rect x="775.0" y="535.6" width="1.0" height="85.6" fill="url(#gB121)"/>
<rect x="776.0" y="534.6" width="1.0" height="86.6" fill="url(#gB119)"/>
<rect x="777.0" y="535.3" width="1.0" height="84.5" fill="url(#gB113)"/>
</g>
<rect x="489.0" y="535.4" width="289.0" height="84.8" filter="url(#spk)" opacity="0.55"/>
<rect x="489.0" y="617.5" width="1" height="14.5" fill="url(#td)"/>
<rect x="490.0" y="514.7" width="1" height="22.6" fill="url(#tu)"/>
<rect x="490.0" y="618.1" width="1" height="9.5" fill="url(#td)"/>
<rect x="492.0" y="616.2" width="1" height="18.4" fill="url(#td)"/>
<rect x="495.0" y="510.4" width="1" height="27.9" fill="url(#tu)"/>
<rect x="495.0" y="616.5" width="1" height="10.0" fill="url(#td)"/>
<rect x="497.0" y="533.8" width="1" height="5.0" fill="url(#tu)"/>
<rect x="497.0" y="617.8" width="1" height="13.3" fill="url(#td)"/>
<rect x="499.0" y="503.5" width="1" height="34.1" fill="url(#tu)"/>
<rect x="501.0" y="528.3" width="1" height="10.7" fill="url(#tu)"/>
<rect x="502.0" y="508.7" width="1" height="28.1" fill="url(#tu)"/>
<rect x="504.0" y="617.9" width="1" height="13.9" fill="url(#td)"/>
<rect x="505.0" y="503.3" width="1" height="34.3" fill="url(#tu)"/>
<rect x="506.0" y="520.8" width="1" height="17.8" fill="url(#tu)"/>
<rect x="506.0" y="618.1" width="1" height="5.2" fill="url(#td)"/>
<rect x="512.0" y="617.2" width="1" height="7.3" fill="url(#td)"/>
<rect x="513.0" y="520.5" width="1" height="18.6" fill="url(#tu)"/>
<rect x="513.0" y="616.7" width="1" height="16.5" fill="url(#td)"/>
<rect x="514.0" y="617.5" width="1" height="26.2" fill="url(#td)"/>
<rect x="515.0" y="617.9" width="1" height="20.3" fill="url(#td)"/>
<rect x="516.0" y="617.2" width="1" height="27.0" fill="url(#td)"/>
<rect x="517.0" y="616.6" width="1" height="33.6" fill="url(#td)"/>
<rect x="518.0" y="520.3" width="1" height="16.6" fill="url(#tu)"/>
<rect x="519.0" y="520.9" width="1" height="18.2" fill="url(#tu)"/>
<rect x="520.0" y="616.2" width="1" height="28.7" fill="url(#td)"/>
<rect x="521.0" y="616.1" width="1" height="16.1" fill="url(#td)"/>
<rect x="522.0" y="516.6" width="1" height="21.4" fill="url(#tu)"/>
<rect x="525.0" y="530.2" width="1" height="7.9" fill="url(#tu)"/>
<rect x="526.0" y="616.6" width="1" height="16.1" fill="url(#td)"/>
<rect x="528.0" y="616.0" width="1" height="28.2" fill="url(#td)"/>
<rect x="529.0" y="618.1" width="1" height="25.3" fill="url(#td)"/>
<rect x="530.0" y="616.4" width="1" height="34.1" fill="url(#td)"/>
<rect x="532.0" y="512.6" width="1" height="24.6" fill="url(#tu)"/>
<rect x="533.0" y="528.0" width="1" height="9.0" fill="url(#tu)"/>
<rect x="533.0" y="616.9" width="1" height="32.6" fill="url(#td)"/>
<rect x="534.0" y="616.9" width="1" height="18.7" fill="url(#td)"/>
<rect x="537.0" y="532.5" width="1" height="5.3" fill="url(#tu)"/>
<rect x="539.0" y="618.2" width="1" height="28.6" fill="url(#td)"/>
<rect x="540.0" y="616.5" width="1" height="19.1" fill="url(#td)"/>
<rect x="541.0" y="509.7" width="1" height="27.6" fill="url(#tu)"/>
<rect x="541.0" y="616.6" width="1" height="22.1" fill="url(#td)"/>
<rect x="543.0" y="616.5" width="1" height="26.7" fill="url(#td)"/>
<rect x="544.0" y="616.0" width="1" height="33.9" fill="url(#td)"/>
<rect x="546.0" y="528.9" width="1" height="8.7" fill="url(#tu)"/>
<rect x="547.0" y="511.4" width="1" height="27.3" fill="url(#tu)"/>
<rect x="548.0" y="531.0" width="1" height="6.9" fill="url(#tu)"/>
<rect x="549.0" y="501.4" width="1" height="35.9" fill="url(#tu)"/>
<rect x="549.0" y="616.4" width="1" height="10.2" fill="url(#td)"/>
<rect x="550.0" y="502.2" width="1" height="36.0" fill="url(#tu)"/>
<rect x="551.0" y="532.4" width="1" height="5.3" fill="url(#tu)"/>
<rect x="552.0" y="506.2" width="1" height="30.9" fill="url(#tu)"/>
<rect x="553.0" y="533.0" width="1" height="5.1" fill="url(#tu)"/>
<rect x="553.0" y="616.4" width="1" height="9.7" fill="url(#td)"/>
<rect x="554.0" y="527.1" width="1" height="11.9" fill="url(#tu)"/>
<rect x="559.0" y="618.1" width="1" height="32.9" fill="url(#td)"/>
<rect x="562.0" y="617.5" width="1" height="5.0" fill="url(#td)"/>
<rect x="565.0" y="617.1" width="1" height="22.4" fill="url(#td)"/>
<rect x="566.0" y="617.2" width="1" height="13.0" fill="url(#td)"/>
<rect x="568.0" y="616.7" width="1" height="24.0" fill="url(#td)"/>
<rect x="571.0" y="504.0" width="1" height="33.4" fill="url(#tu)"/>
<rect x="576.0" y="523.2" width="1" height="15.0" fill="url(#tu)"/>
<rect x="576.0" y="617.0" width="1" height="13.9" fill="url(#td)"/>
<rect x="577.0" y="509.9" width="1" height="28.7" fill="url(#tu)"/>
<rect x="578.0" y="616.7" width="1" height="14.4" fill="url(#td)"/>
<rect x="582.0" y="618.1" width="1" height="19.2" fill="url(#td)"/>
<rect x="584.0" y="616.8" width="1" height="32.0" fill="url(#td)"/>
<rect x="586.0" y="501.3" width="1" height="35.6" fill="url(#tu)"/>
<rect x="586.0" y="616.7" width="1" height="35.6" fill="url(#td)"/>
<rect x="590.0" y="520.3" width="1" height="18.3" fill="url(#tu)"/>
<rect x="594.0" y="533.5" width="1" height="5.3" fill="url(#tu)"/>
<rect x="594.0" y="617.5" width="1" height="11.2" fill="url(#td)"/>
<rect x="596.0" y="616.8" width="1" height="5.6" fill="url(#td)"/>
<rect x="601.0" y="519.6" width="1" height="18.1" fill="url(#tu)"/>
<rect x="608.0" y="616.6" width="1" height="32.1" fill="url(#td)"/>
<rect x="613.0" y="527.0" width="1" height="11.2" fill="url(#tu)"/>
<rect x="613.0" y="617.0" width="1" height="16.4" fill="url(#td)"/>
<rect x="614.0" y="510.5" width="1" height="27.9" fill="url(#tu)"/>
<rect x="614.0" y="616.5" width="1" height="5.4" fill="url(#td)"/>
<rect x="615.0" y="531.8" width="1" height="6.2" fill="url(#tu)"/>
<rect x="616.0" y="521.4" width="1" height="16.6" fill="url(#tu)"/>
<rect x="617.0" y="617.8" width="1" height="5.4" fill="url(#td)"/>
<rect x="622.0" y="525.0" width="1" height="12.7" fill="url(#tu)"/>
<rect x="623.0" y="616.4" width="1" height="10.8" fill="url(#td)"/>
<rect x="625.0" y="617.7" width="1" height="34.5" fill="url(#td)"/>
<rect x="626.0" y="616.3" width="1" height="21.1" fill="url(#td)"/>
<rect x="628.0" y="618.2" width="1" height="14.1" fill="url(#td)"/>
<rect x="631.0" y="618.0" width="1" height="22.2" fill="url(#td)"/>
<rect x="632.0" y="521.9" width="1" height="15.7" fill="url(#tu)"/>
<rect x="633.0" y="524.7" width="1" height="12.1" fill="url(#tu)"/>
<rect x="633.0" y="617.9" width="1" height="5.7" fill="url(#td)"/>
<rect x="634.0" y="618.7" width="1" height="27.7" fill="url(#td)"/>
<rect x="635.0" y="528.7" width="1" height="8.7" fill="url(#tu)"/>
<rect x="636.0" y="618.4" width="1" height="9.7" fill="url(#td)"/>
<rect x="638.0" y="617.8" width="1" height="15.4" fill="url(#td)"/>
<rect x="639.0" y="618.1" width="1" height="22.3" fill="url(#td)"/>
<rect x="642.0" y="516.8" width="1" height="22.0" fill="url(#tu)"/>
<rect x="642.0" y="617.4" width="1" height="32.7" fill="url(#td)"/>
<rect x="644.0" y="618.6" width="1" height="23.7" fill="url(#td)"/>
<rect x="647.0" y="531.8" width="1" height="6.5" fill="url(#tu)"/>
<rect x="651.0" y="618.2" width="1" height="12.8" fill="url(#td)"/>
<rect x="653.0" y="506.8" width="1" height="29.8" fill="url(#tu)"/>
<rect x="656.0" y="523.0" width="1" height="15.8" fill="url(#tu)"/>
<rect x="656.0" y="616.8" width="1" height="21.5" fill="url(#td)"/>
<rect x="658.0" y="503.8" width="1" height="32.8" fill="url(#tu)"/>
<rect x="658.0" y="617.6" width="1" height="11.7" fill="url(#td)"/>
<rect x="660.0" y="513.6" width="1" height="23.6" fill="url(#tu)"/>
<rect x="662.0" y="616.6" width="1" height="7.8" fill="url(#td)"/>
<rect x="663.0" y="618.1" width="1" height="30.9" fill="url(#td)"/>
<rect x="666.0" y="524.9" width="1" height="14.0" fill="url(#tu)"/>
<rect x="666.0" y="618.1" width="1" height="29.5" fill="url(#td)"/>
<rect x="667.0" y="506.5" width="1" height="32.0" fill="url(#tu)"/>
<rect x="668.0" y="527.4" width="1" height="11.2" fill="url(#tu)"/>
<rect x="669.0" y="616.8" width="1" height="21.8" fill="url(#td)"/>
<rect x="673.0" y="515.9" width="1" height="21.0" fill="url(#tu)"/>
<rect x="673.0" y="616.8" width="1" height="13.8" fill="url(#td)"/>
<rect x="675.0" y="526.1" width="1" height="12.3" fill="url(#tu)"/>
<rect x="675.0" y="617.2" width="1" height="31.5" fill="url(#td)"/>
<rect x="677.0" y="529.8" width="1" height="8.9" fill="url(#tu)"/>
<rect x="681.0" y="618.9" width="1" height="13.9" fill="url(#td)"/>
<rect x="685.0" y="504.7" width="1" height="34.0" fill="url(#tu)"/>
<rect x="686.0" y="504.6" width="1" height="32.4" fill="url(#tu)"/>
<rect x="687.0" y="522.6" width="1" height="15.0" fill="url(#tu)"/>
<rect x="687.0" y="617.0" width="1" height="28.8" fill="url(#td)"/>
<rect x="690.0" y="617.5" width="1" height="25.2" fill="url(#td)"/>
<rect x="696.0" y="617.9" width="1" height="7.4" fill="url(#td)"/>
<rect x="697.0" y="513.9" width="1" height="23.4" fill="url(#tu)"/>
<rect x="699.0" y="515.2" width="1" height="23.3" fill="url(#tu)"/>
<rect x="699.0" y="617.4" width="1" height="21.1" fill="url(#td)"/>
<rect x="701.0" y="618.4" width="1" height="30.4" fill="url(#td)"/>
<rect x="704.0" y="617.3" width="1" height="15.8" fill="url(#td)"/>
<rect x="705.0" y="526.9" width="1" height="11.9" fill="url(#tu)"/>
<rect x="705.0" y="616.9" width="1" height="25.8" fill="url(#td)"/>
<rect x="706.0" y="617.5" width="1" height="15.2" fill="url(#td)"/>
<rect x="707.0" y="617.3" width="1" height="32.0" fill="url(#td)"/>
<rect x="709.0" y="500.8" width="1" height="35.9" fill="url(#tu)"/>
<rect x="712.0" y="526.5" width="1" height="10.8" fill="url(#tu)"/>
<rect x="713.0" y="507.9" width="1" height="28.5" fill="url(#tu)"/>
<rect x="716.0" y="529.1" width="1" height="8.2" fill="url(#tu)"/>
<rect x="717.0" y="617.8" width="1" height="31.3" fill="url(#td)"/>
<rect x="722.0" y="618.0" width="1" height="22.9" fill="url(#td)"/>
<rect x="723.0" y="525.3" width="1" height="11.3" fill="url(#tu)"/>
<rect x="724.0" y="520.8" width="1" height="17.5" fill="url(#tu)"/>
<rect x="724.0" y="617.9" width="1" height="12.3" fill="url(#td)"/>
<rect x="725.0" y="616.9" width="1" height="28.0" fill="url(#td)"/>
<rect x="726.0" y="527.8" width="1" height="9.6" fill="url(#tu)"/>
<rect x="730.0" y="510.2" width="1" height="26.3" fill="url(#tu)"/>
<rect x="730.0" y="617.3" width="1" height="22.1" fill="url(#td)"/>
<rect x="731.0" y="511.6" width="1" height="26.1" fill="url(#tu)"/>
<rect x="731.0" y="616.9" width="1" height="34.1" fill="url(#td)"/>
<rect x="733.0" y="527.0" width="1" height="11.5" fill="url(#tu)"/>
<rect x="736.0" y="526.0" width="1" height="11.4" fill="url(#tu)"/>
<rect x="736.0" y="618.5" width="1" height="30.3" fill="url(#td)"/>
<rect x="741.0" y="502.3" width="1" height="34.6" fill="url(#tu)"/>
<rect x="742.0" y="532.1" width="1" height="5.9" fill="url(#tu)"/>
<rect x="742.0" y="618.0" width="1" height="32.4" fill="url(#td)"/>
<rect x="743.0" y="508.5" width="1" height="29.9" fill="url(#tu)"/>
<rect x="744.0" y="522.2" width="1" height="15.5" fill="url(#tu)"/>
<rect x="744.0" y="616.9" width="1" height="8.6" fill="url(#td)"/>
<rect x="748.0" y="616.7" width="1" height="8.1" fill="url(#td)"/>
<rect x="754.0" y="513.1" width="1" height="24.6" fill="url(#tu)"/>
<rect x="755.0" y="618.6" width="1" height="28.2" fill="url(#td)"/>
<rect x="757.0" y="616.9" width="1" height="17.1" fill="url(#td)"/>
<rect x="758.0" y="618.6" width="1" height="20.3" fill="url(#td)"/>
<rect x="760.0" y="618.1" width="1" height="29.7" fill="url(#td)"/>
<rect x="761.0" y="521.8" width="1" height="16.2" fill="url(#tu)"/>
<rect x="762.0" y="504.6" width="1" height="32.6" fill="url(#tu)"/>
<rect x="763.0" y="532.2" width="1" height="6.2" fill="url(#tu)"/>
<rect x="763.0" y="619.0" width="1" height="12.2" fill="url(#td)"/>
<rect x="764.0" y="518.9" width="1" height="19.6" fill="url(#tu)"/>
<rect x="764.0" y="617.6" width="1" height="6.3" fill="url(#td)"/>
<rect x="766.0" y="523.0" width="1" height="15.7" fill="url(#tu)"/>
<rect x="766.0" y="617.1" width="1" height="9.5" fill="url(#td)"/>
<rect x="769.0" y="617.7" width="1" height="7.5" fill="url(#td)"/>
<rect x="772.0" y="505.0" width="1" height="31.8" fill="url(#tu)"/>
<rect x="772.0" y="617.5" width="1" height="13.3" fill="url(#td)"/>
<rect x="774.0" y="513.3" width="1" height="24.0" fill="url(#tu)"/>
<rect x="774.0" y="617.7" width="1" height="28.6" fill="url(#td)"/>
<rect x="775.0" y="532.5" width="1" height="6.1" fill="url(#tu)"/>
<g shape-rendering="crispEdges">
<rect x="1196.6" y="503.2" width="0.4" height="149.8" fill="url(#gB28)"/>
<rect x="1197.0" y="504.4" width="1.0" height="148.2" fill="url(#gB29)"/>
<rect x="1198.0" y="503.6" width="1.0" height="149.2" fill="url(#gB210)"/>
<rect x="1199.0" y="503.3" width="1.0" height="149.2" fill="url(#gB27)"/>
<rect x="1200.0" y="502.5" width="1.0" height="151.3" fill="url(#gB21)"/>
<rect x="1201.0" y="502.4" width="1.0" height="150.7" fill="url(#gB29)"/>
<rect x="1202.0" y="503.2" width="1.0" height="151.0" fill="url(#gB24)"/>
<rect x="1203.0" y="502.5" width="1.0" height="151.2" fill="url(#gB21)"/>
<rect x="1204.0" y="503.2" width="1.0" height="149.9" fill="url(#gB21)"/>
<rect x="1205.0" y="502.2" width="1.0" height="150.2" fill="url(#gB25)"/>
<rect x="1206.0" y="503.3" width="1.0" height="150.9" fill="url(#gB22)"/>
<rect x="1207.0" y="502.6" width="1.0" height="150.8" fill="url(#gB216)"/>
<rect x="1208.0" y="503.6" width="1.0" height="149.1" fill="url(#gB213)"/>
<rect x="1209.0" y="502.0" width="1.0" height="152.0" fill="url(#gB213)"/>
<rect x="1210.0" y="502.2" width="1.0" height="151.9" fill="url(#gB214)"/>
<rect x="1211.0" y="502.5" width="1.0" height="150.9" fill="url(#gB28)"/>
<rect x="1212.0" y="503.4" width="1.0" height="149.2" fill="url(#gB216)"/>
<rect x="1213.0" y="502.9" width="1.0" height="150.9" fill="url(#gB216)"/>
<rect x="1214.0" y="502.2" width="1.0" height="151.1" fill="url(#gB25)"/>
<rect x="1215.0" y="502.8" width="1.0" height="149.5" fill="url(#gB25)"/>
<rect x="1216.0" y="502.6" width="1.0" height="152.0" fill="url(#gB214)"/>
<rect x="1217.0" y="501.8" width="1.0" height="152.2" fill="url(#gB213)"/>
<rect x="1218.0" y="503.6" width="1.0" height="150.1" fill="url(#gB215)"/>
<rect x="1219.0" y="503.2" width="1.0" height="150.2" fill="url(#gB215)"/>
<rect x="1220.0" y="502.6" width="1.0" height="151.6" fill="url(#gB214)"/>
<rect x="1221.0" y="502.9" width="1.0" height="150.0" fill="url(#gB214)"/>
<rect x="1222.0" y="501.7" width="1.0" height="151.5" fill="url(#gB21)"/>
<rect x="1223.0" y="502.3" width="1.0" height="150.5" fill="url(#gB23)"/>
<rect x="1224.0" y="502.7" width="1.0" height="151.9" fill="url(#gB25)"/>
<rect x="1225.0" y="502.2" width="1.0" height="150.7" fill="url(#gB217)"/>
<rect x="1226.0" y="503.2" width="1.0" height="151.5" fill="url(#gB213)"/>
<rect x="1227.0" y="501.6" width="1.0" height="151.9" fill="url(#gB214)"/>
<rect x="1228.0" y="503.8" width="1.0" height="149.7" fill="url(#gB214)"/>
<rect x="1229.0" y="502.7" width="1.0" height="151.3" fill="url(#gB214)"/>
<rect x="1230.0" y="501.8" width="1.0" height="150.7" fill="url(#gB212)"/>
<rect x="1231.0" y="502.3" width="1.0" height="152.4" fill="url(#gB24)"/>
<rect x="1232.0" y="502.0" width="1.0" height="150.8" fill="url(#gB23)"/>
<rect x="1233.0" y="503.0" width="1.0" height="151.9" fill="url(#gB215)"/>
<rect x="1234.0" y="502.5" width="1.0" height="151.5" fill="url(#gB215)"/>
<rect x="1235.0" y="501.3" width="1.0" height="151.6" fill="url(#gB214)"/>
<rect x="1236.0" y="501.9" width="1.0" height="152.3" fill="url(#gB214)"/>
<rect x="1237.0" y="502.5" width="1.0" height="152.3" fill="url(#gB214)"/>
<rect x="1238.0" y="501.4" width="1.0" height="151.2" fill="url(#gB25)"/>
<rect x="1239.0" y="501.3" width="1.0" height="151.5" fill="url(#gB23)"/>
<rect x="1240.0" y="502.3" width="1.0" height="151.3" fill="url(#gB217)"/>
<rect x="1241.0" y="503.2" width="1.0" height="151.2" fill="url(#gB29)"/>
<rect x="1242.0" y="502.4" width="1.0" height="152.3" fill="url(#gB215)"/>
<rect x="1243.0" y="501.4" width="1.0" height="152.8" fill="url(#gB215)"/>
<rect x="1244.0" y="503.2" width="1.0" height="151.6" fill="url(#gB215)"/>
<rect x="1245.0" y="502.3" width="1.0" height="152.1" fill="url(#gB215)"/>
<rect x="1246.0" y="501.7" width="1.0" height="152.5" fill="url(#gB215)"/>
<rect x="1247.0" y="500.8" width="1.0" height="154.3" fill="url(#gB211)"/>
<rect x="1248.0" y="501.1" width="1.0" height="153.3" fill="url(#gB21)"/>
<rect x="1249.0" y="502.3" width="1.0" height="150.7" fill="url(#gB25)"/>
<rect x="1250.0" y="501.2" width="1.0" height="151.9" fill="url(#gB26)"/>
<rect x="1251.0" y="502.3" width="1.0" height="151.0" fill="url(#gB217)"/>
<rect x="1252.0" y="500.9" width="1.0" height="153.6" fill="url(#gB215)"/>
<rect x="1253.0" y="502.3" width="1.0" height="151.4" fill="url(#gB216)"/>
<rect x="1254.0" y="502.9" width="1.0" height="150.2" fill="url(#gB215)"/>
<rect x="1255.0" y="500.6" width="1.0" height="154.6" fill="url(#gB210)"/>
<rect x="1256.0" y="502.4" width="1.0" height="152.1" fill="url(#gB217)"/>
<rect x="1257.0" y="501.0" width="1.0" height="152.0" fill="url(#gB216)"/>
<rect x="1258.0" y="500.9" width="1.0" height="153.6" fill="url(#gB215)"/>
<rect x="1259.0" y="500.7" width="1.0" height="153.3" fill="url(#gB217)"/>
<rect x="1260.0" y="500.7" width="1.0" height="154.0" fill="url(#gB217)"/>
<rect x="1261.0" y="501.3" width="1.0" height="153.6" fill="url(#gB217)"/>
<rect x="1262.0" y="501.4" width="1.0" height="152.6" fill="url(#gB210)"/>
<rect x="1263.0" y="501.7" width="1.0" height="153.4" fill="url(#gB216)"/>
<rect x="1264.0" y="501.2" width="1.0" height="152.0" fill="url(#gB23)"/>
<rect x="1265.0" y="501.3" width="1.0" height="152.3" fill="url(#gB21)"/>
<rect x="1266.0" y="501.8" width="1.0" height="152.4" fill="url(#gB217)"/>
<rect x="1267.0" y="502.4" width="1.0" height="152.3" fill="url(#gB214)"/>
<rect x="1268.0" y="501.0" width="1.0" height="153.2" fill="url(#gB214)"/>
<rect x="1269.0" y="500.5" width="1.0" height="153.4" fill="url(#gB214)"/>
<rect x="1270.0" y="501.6" width="1.0" height="152.0" fill="url(#gB23)"/>
<rect x="1271.0" y="501.7" width="1.0" height="153.3" fill="url(#gB24)"/>
<rect x="1272.0" y="501.8" width="1.0" height="151.8" fill="url(#gB214)"/>
<rect x="1273.0" y="500.8" width="1.0" height="153.9" fill="url(#gB214)"/>
<rect x="1274.0" y="501.6" width="1.0" height="153.9" fill="url(#gB215)"/>
<rect x="1275.0" y="500.8" width="1.0" height="153.5" fill="url(#gB212)"/>
<rect x="1276.0" y="500.3" width="1.0" height="154.7" fill="url(#gB25)"/>
<rect x="1277.0" y="501.5" width="1.0" height="152.0" fill="url(#gB23)"/>
<rect x="1278.0" y="502.3" width="1.0" height="151.2" fill="url(#gB217)"/>
<rect x="1279.0" y="500.3" width="1.0" height="155.3" fill="url(#gB219)"/>
<rect x="1280.0" y="501.5" width="1.0" height="153.1" fill="url(#gB217)"/>
<rect x="1281.0" y="500.0" width="1.0" height="155.8" fill="url(#gB218)"/>
<rect x="1282.0" y="502.1" width="1.0" height="152.0" fill="url(#gB218)"/>
<rect x="1283.0" y="500.5" width="1.0" height="153.1" fill="url(#gB217)"/>
<rect x="1284.0" y="500.8" width="1.0" height="152.9" fill="url(#gB218)"/>
<rect x="1285.0" y="500.3" width="1.0" height="154.7" fill="url(#gB219)"/>
<rect x="1286.0" y="501.4" width="1.0" height="154.5" fill="url(#gB218)"/>
<rect x="1287.0" y="501.9" width="1.0" height="153.6" fill="url(#gB219)"/>
<rect x="1288.0" y="501.7" width="1.0" height="153.1" fill="url(#gB217)"/>
<rect x="1289.0" y="500.6" width="1.0" height="153.2" fill="url(#gB217)"/>
<rect x="1290.0" y="499.9" width="1.0" height="156.0" fill="url(#gB219)"/>
<rect x="1291.0" y="499.9" width="1.0" height="154.4" fill="url(#gB218)"/>
<rect x="1292.0" y="499.9" width="1.0" height="154.8" fill="url(#gB21)"/>
<rect x="1293.0" y="500.5" width="1.0" height="154.2" fill="url(#gB24)"/>
<rect x="1294.0" y="501.4" width="1.0" height="152.7" fill="url(#gB217)"/>
<rect x="1295.0" y="500.3" width="1.0" height="153.8" fill="url(#gB216)"/>
<rect x="1296.0" y="499.6" width="1.0" height="156.0" fill="url(#gB215)"/>
<rect x="1297.0" y="501.5" width="1.0" height="152.4" fill="url(#gB215)"/>
<rect x="1298.0" y="499.9" width="1.0" height="155.3" fill="url(#gB217)"/>
<rect x="1299.0" y="500.4" width="1.0" height="154.3" fill="url(#gB214)"/>
<rect x="1300.0" y="501.0" width="1.0" height="153.6" fill="url(#gB216)"/>
<rect x="1301.0" y="500.9" width="1.0" height="155.0" fill="url(#gB219)"/>
<rect x="1302.0" y="501.1" width="1.0" height="152.8" fill="url(#gB21)"/>
<rect x="1303.0" y="501.0" width="1.0" height="153.2" fill="url(#gB21)"/>
<rect x="1304.0" y="499.5" width="1.0" height="154.9" fill="url(#gB218)"/>
<rect x="1305.0" y="501.4" width="1.0" height="154.3" fill="url(#gB217)"/>
<rect x="1306.0" y="500.4" width="1.0" height="154.8" fill="url(#gB216)"/>
<rect x="1307.0" y="501.5" width="1.0" height="154.2" fill="url(#gB219)"/>
<rect x="1308.0" y="501.0" width="1.0" height="155.1" fill="url(#gB219)"/>
<rect x="1309.0" y="500.9" width="1.0" height="153.0" fill="url(#gB219)"/>
<rect x="1310.0" y="501.2" width="1.0" height="153.0" fill="url(#gB225)"/>
<rect x="1311.0" y="499.5" width="1.0" height="155.4" fill="url(#gB225)"/>
<rect x="1312.0" y="500.7" width="1.0" height="154.5" fill="url(#gB221)"/>
<rect x="1313.0" y="500.0" width="1.0" height="154.4" fill="url(#gB221)"/>
<rect x="1314.0" y="499.8" width="1.0" height="155.4" fill="url(#gB223)"/>
<rect x="1315.0" y="499.1" width="1.0" height="156.5" fill="url(#gB222)"/>
<rect x="1316.0" y="499.5" width="1.0" height="156.4" fill="url(#gB220)"/>
<rect x="1317.0" y="501.0" width="1.0" height="153.2" fill="url(#gB219)"/>
<rect x="1318.0" y="500.2" width="1.0" height="155.8" fill="url(#gB29)"/>
<rect x="1319.0" y="499.3" width="1.0" height="156.6" fill="url(#gB28)"/>
<rect x="1320.0" y="500.7" width="1.0" height="154.0" fill="url(#gB210)"/>
<rect x="1321.0" y="500.1" width="1.0" height="154.4" fill="url(#gB28)"/>
<rect x="1322.0" y="499.9" width="1.0" height="156.4" fill="url(#gB211)"/>
<rect x="1323.0" y="499.6" width="1.0" height="156.6" fill="url(#gB217)"/>
<rect x="1324.0" y="499.9" width="1.0" height="155.7" fill="url(#gB216)"/>
<rect x="1325.0" y="500.8" width="1.0" height="154.0" fill="url(#gB219)"/>
<rect x="1326.0" y="499.2" width="1.0" height="157.1" fill="url(#gB220)"/>
<rect x="1327.0" y="500.6" width="1.0" height="155.1" fill="url(#gB210)"/>
<rect x="1328.0" y="499.4" width="1.0" height="155.6" fill="url(#gB220)"/>
<rect x="1329.0" y="500.5" width="1.0" height="155.1" fill="url(#gB218)"/>
<rect x="1330.0" y="500.2" width="1.0" height="156.1" fill="url(#gB218)"/>
<rect x="1331.0" y="498.7" width="1.0" height="157.0" fill="url(#gB220)"/>
<rect x="1332.0" y="498.6" width="1.0" height="155.7" fill="url(#gB217)"/>
<rect x="1333.0" y="499.6" width="1.0" height="156.9" fill="url(#gB218)"/>
<rect x="1334.0" y="500.2" width="1.0" height="155.2" fill="url(#gB219)"/>
<rect x="1335.0" y="498.7" width="1.0" height="157.1" fill="url(#gB219)"/>
<rect x="1336.0" y="499.9" width="1.0" height="154.7" fill="url(#gB219)"/>
<rect x="1337.0" y="499.3" width="1.0" height="155.7" fill="url(#gB214)"/>
<rect x="1338.0" y="499.1" width="1.0" height="157.3" fill="url(#gB222)"/>
<rect x="1339.0" y="498.8" width="1.0" height="156.7" fill="url(#gB221)"/>
<rect x="1340.0" y="498.7" width="1.0" height="156.5" fill="url(#gB219)"/>
<rect x="1341.0" y="499.4" width="1.0" height="156.4" fill="url(#gB213)"/>
<rect x="1342.0" y="499.8" width="1.0" height="155.7" fill="url(#gB220)"/>
<rect x="1343.0" y="500.3" width="1.0" height="154.3" fill="url(#gB219)"/>
<rect x="1344.0" y="500.5" width="1.0" height="155.3" fill="url(#gB219)"/>
<rect x="1345.0" y="498.8" width="1.0" height="156.4" fill="url(#gB218)"/>
<rect x="1346.0" y="500.1" width="1.0" height="155.0" fill="url(#gB219)"/>
<rect x="1347.0" y="499.3" width="1.0" height="154.9" fill="url(#gB219)"/>
<rect x="1348.0" y="500.9" width="1.0" height="154.7" fill="url(#gB220)"/>
<rect x="1349.0" y="499.7" width="1.0" height="156.5" fill="url(#gB222)"/>
<rect x="1350.0" y="500.0" width="1.0" height="155.3" fill="url(#gB220)"/>
<rect x="1351.0" y="498.9" width="1.0" height="156.6" fill="url(#gB219)"/>
<rect x="1352.0" y="500.5" width="1.0" height="153.8" fill="url(#gB218)"/>
<rect x="1353.0" y="500.8" width="1.0" height="155.1" fill="url(#gB219)"/>
<rect x="1354.0" y="499.2" width="1.0" height="155.3" fill="url(#gB217)"/>
<rect x="1355.0" y="499.1" width="1.0" height="156.1" fill="url(#gB219)"/>
<rect x="1356.0" y="500.1" width="1.0" height="155.6" fill="url(#gB222)"/>
<rect x="1357.0" y="499.2" width="1.0" height="155.6" fill="url(#gB221)"/>
<rect x="1358.0" y="499.2" width="1.0" height="156.3" fill="url(#gB218)"/>
<rect x="1359.0" y="500.0" width="1.0" height="155.4" fill="url(#gB217)"/>
<rect x="1360.0" y="501.4" width="1.0" height="153.4" fill="url(#gB218)"/>
<rect x="1361.0" y="500.6" width="1.0" height="153.8" fill="url(#gB219)"/>
<rect x="1362.0" y="501.1" width="1.0" height="155.0" fill="url(#gB219)"/>
<rect x="1363.0" y="501.2" width="1.0" height="152.7" fill="url(#gB220)"/>
<rect x="1364.0" y="499.8" width="1.0" height="155.5" fill="url(#gB219)"/>
<rect x="1365.0" y="499.8" width="1.0" height="154.5" fill="url(#gB220)"/>
<rect x="1366.0" y="501.8" width="1.0" height="154.0" fill="url(#gB220)"/>
<rect x="1367.0" y="500.5" width="1.0" height="153.8" fill="url(#gB25)"/>
<rect x="1368.0" y="500.7" width="1.0" height="154.8" fill="url(#gB25)"/>
<rect x="1369.0" y="500.6" width="1.0" height="154.7" fill="url(#gB24)"/>
<rect x="1370.0" y="500.9" width="1.0" height="154.7" fill="url(#gB214)"/>
<rect x="1371.0" y="500.4" width="1.0" height="153.9" fill="url(#gB216)"/>
<rect x="1372.0" y="501.2" width="1.0" height="152.4" fill="url(#gB212)"/>
<rect x="1373.0" y="501.6" width="1.0" height="154.2" fill="url(#gB215)"/>
<rect x="1374.0" y="501.2" width="1.0" height="152.8" fill="url(#gB214)"/>
<rect x="1375.0" y="500.2" width="1.0" height="154.2" fill="url(#gB28)"/>
<rect x="1376.0" y="501.4" width="1.0" height="153.5" fill="url(#gB214)"/>
<rect x="1377.0" y="502.3" width="1.0" height="152.5" fill="url(#gB212)"/>
<rect x="1378.0" y="501.9" width="1.0" height="153.5" fill="url(#gB212)"/>
<rect x="1379.0" y="500.5" width="1.0" height="154.5" fill="url(#gB210)"/>
<rect x="1380.0" y="502.2" width="1.0" height="152.5" fill="url(#gB24)"/>
<rect x="1381.0" y="500.5" width="1.0" height="154.7" fill="url(#gB29)"/>
<rect x="1382.0" y="501.6" width="1.0" height="151.8" fill="url(#gB23)"/>
<rect x="1383.0" y="501.2" width="1.0" height="153.8" fill="url(#gB212)"/>
<rect x="1384.0" y="501.2" width="1.0" height="153.3" fill="url(#gB212)"/>
<rect x="1385.0" y="500.9" width="1.0" height="153.9" fill="url(#gB29)"/>
<rect x="1386.0" y="501.8" width="1.0" height="153.3" fill="url(#gB211)"/>
<rect x="1387.0" y="502.2" width="1.0" height="153.0" fill="url(#gB212)"/>
<rect x="1388.0" y="500.8" width="1.0" height="152.8" fill="url(#gB217)"/>
<rect x="1389.0" y="502.4" width="1.0" height="152.1" fill="url(#gB214)"/>
<rect x="1390.0" y="502.6" width="1.0" height="151.8" fill="url(#gB213)"/>
<rect x="1391.0" y="501.6" width="1.0" height="152.3" fill="url(#gB213)"/>
<rect x="1392.0" y="501.9" width="1.0" height="152.9" fill="url(#gB215)"/>
<rect x="1393.0" y="501.1" width="1.0" height="153.6" fill="url(#gB213)"/>
<rect x="1394.0" y="502.2" width="1.0" height="151.9" fill="url(#gB212)"/>
<rect x="1395.0" y="503.5" width="1.0" height="150.4" fill="url(#gB212)"/>
<rect x="1396.0" y="501.5" width="1.0" height="153.2" fill="url(#gB214)"/>
<rect x="1397.0" y="501.3" width="1.0" height="153.0" fill="url(#gB216)"/>
<rect x="1398.0" y="502.7" width="1.0" height="151.2" fill="url(#gB214)"/>
<rect x="1399.0" y="501.9" width="1.0" height="152.0" fill="url(#gB210)"/>
<rect x="1400.0" y="502.1" width="1.0" height="152.0" fill="url(#gB29)"/>
<rect x="1401.0" y="502.4" width="1.0" height="152.6" fill="url(#gB27)"/>
<rect x="1402.0" y="501.8" width="1.0" height="152.3" fill="url(#gB29)"/>
<rect x="1403.0" y="501.8" width="1.0" height="151.4" fill="url(#gB210)"/>
<rect x="1404.0" y="503.4" width="1.0" height="151.4" fill="url(#gB29)"/>
<rect x="1405.0" y="503.0" width="1.0" height="150.9" fill="url(#gB210)"/>
<rect x="1406.0" y="501.8" width="1.0" height="151.6" fill="url(#gB29)"/>
<rect x="1407.0" y="501.5" width="1.0" height="152.5" fill="url(#gB28)"/>
<rect x="1408.0" y="502.4" width="1.0" height="151.9" fill="url(#gB29)"/>
<rect x="1409.0" y="502.2" width="1.0" height="151.9" fill="url(#gB210)"/>
<rect x="1410.0" y="502.0" width="1.0" height="152.9" fill="url(#gB28)"/>
<rect x="1411.0" y="504.0" width="1.0" height="150.4" fill="url(#gB212)"/>
<rect x="1412.0" y="503.8" width="1.0" height="150.6" fill="url(#gB29)"/>
<rect x="1413.0" y="502.0" width="1.0" height="152.7" fill="url(#gB29)"/>
<rect x="1414.0" y="502.0" width="1.0" height="151.1" fill="url(#gB210)"/>
<rect x="1415.0" y="502.4" width="1.0" height="150.3" fill="url(#gB22)"/>
<rect x="1416.0" y="503.4" width="1.0" height="149.2" fill="url(#gB22)"/>
<rect x="1417.0" y="501.9" width="1.0" height="152.0" fill="url(#gB22)"/>
<rect x="1418.0" y="502.4" width="1.0" height="150.4" fill="url(#gB21)"/>
<rect x="1419.0" y="501.8" width="1.0" height="150.7" fill="url(#gB22)"/>
<rect x="1420.0" y="502.8" width="1.0" height="151.8" fill="url(#gB22)"/>
<rect x="1421.0" y="503.2" width="1.0" height="149.6" fill="url(#gB26)"/>
<rect x="1422.0" y="504.2" width="1.0" height="148.1" fill="url(#gB28)"/>
<rect x="1423.0" y="503.3" width="1.0" height="149.3" fill="url(#gB26)"/>
<rect x="1424.0" y="504.1" width="1.0" height="150.4" fill="url(#gB25)"/>
<rect x="1425.0" y="502.6" width="1.0" height="151.6" fill="url(#gB28)"/>
<rect x="1426.0" y="503.6" width="1.0" height="148.7" fill="url(#gB28)"/>
<rect x="1427.0" y="504.3" width="1.0" height="149.6" fill="url(#gB27)"/>
<rect x="1428.0" y="504.0" width="1.0" height="148.2" fill="url(#gB27)"/>
<rect x="1429.0" y="503.9" width="1.0" height="148.4" fill="url(#gB27)"/>
<rect x="1430.0" y="503.8" width="1.0" height="149.8" fill="url(#gB25)"/>
<rect x="1431.0" y="502.1" width="1.0" height="151.2" fill="url(#gB27)"/>
<rect x="1432.0" y="503.5" width="1.0" height="150.0" fill="url(#gB24)"/>
<rect x="1433.0" y="502.5" width="1.0" height="151.0" fill="url(#gB24)"/>
<rect x="1434.0" y="502.5" width="1.0" height="151.0" fill="url(#gB28)"/>
<rect x="1435.0" y="503.6" width="1.0" height="149.6" fill="url(#gB27)"/>
<rect x="1436.0" y="503.4" width="1.0" height="149.7" fill="url(#gB25)"/>
<rect x="1437.0" y="504.1" width="1.0" height="150.0" fill="url(#gB25)"/>
<rect x="1438.0" y="502.7" width="1.0" height="151.1" fill="url(#gB23)"/>
<rect x="1439.0" y="503.5" width="1.0" height="149.7" fill="url(#gB21)"/>
<rect x="1440.0" y="504.5" width="1.0" height="147.6" fill="url(#gB24)"/>
<rect x="1441.0" y="504.5" width="1.0" height="149.5" fill="url(#gB27)"/>
<rect x="1442.0" y="503.0" width="1.0" height="148.8" fill="url(#gB28)"/>
<rect x="1443.0" y="503.5" width="1.0" height="148.7" fill="url(#gB26)"/>
<rect x="1444.0" y="504.6" width="1.0" height="147.9" fill="url(#gB26)"/>
<rect x="1445.0" y="503.7" width="1.0" height="148.9" fill="url(#gB27)"/>
<rect x="1446.0" y="503.1" width="1.0" height="150.7" fill="url(#gB25)"/>
<rect x="1447.0" y="503.6" width="1.0" height="148.8" fill="url(#gB26)"/>
<rect x="1448.0" y="502.6" width="1.0" height="149.2" fill="url(#gB26)"/>
<rect x="1449.0" y="503.2" width="1.0" height="148.5" fill="url(#gB211)"/>
<rect x="1450.0" y="503.5" width="1.0" height="150.2" fill="url(#gB25)"/>
<rect x="1451.0" y="504.2" width="1.0" height="148.4" fill="url(#gB26)"/>
<rect x="1452.0" y="503.6" width="1.0" height="150.3" fill="url(#gB21)"/>
<rect x="1453.0" y="504.3" width="1.0" height="147.6" fill="url(#gB28)"/>
<rect x="1454.0" y="503.2" width="1.0" height="150.3" fill="url(#gB29)"/>
<rect x="1455.0" y="503.6" width="1.0" height="148.6" fill="url(#gB25)"/>
<rect x="1456.0" y="502.8" width="1.0" height="149.5" fill="url(#gB27)"/>
<rect x="1457.0" y="504.4" width="1.0" height="147.3" fill="url(#gB27)"/>
<rect x="1458.0" y="504.3" width="1.0" height="148.7" fill="url(#gB27)"/>
<rect x="1459.0" y="504.1" width="1.0" height="148.3" fill="url(#gB29)"/>
<rect x="1460.0" y="504.6" width="1.0" height="146.8" fill="url(#gB26)"/>
<rect x="1461.0" y="502.9" width="1.0" height="149.5" fill="url(#gB27)"/>
<rect x="1462.0" y="504.4" width="1.0" height="148.0" fill="url(#gB27)"/>
<rect x="1463.0" y="503.3" width="1.0" height="149.3" fill="url(#gB27)"/>
<rect x="1464.0" y="505.1" width="1.0" height="146.5" fill="url(#gB26)"/>
<rect x="1465.0" y="503.0" width="1.0" height="149.8" fill="url(#gB29)"/>
<rect x="1466.0" y="505.1" width="1.0" height="146.4" fill="url(#gB21)"/>
<rect x="1467.0" y="504.1" width="1.0" height="148.5" fill="url(#gB26)"/>
<rect x="1468.0" y="503.2" width="1.0" height="148.1" fill="url(#gB28)"/>
<rect x="1469.0" y="504.1" width="1.0" height="148.3" fill="url(#gB26)"/>
<rect x="1470.0" y="505.2" width="1.0" height="146.8" fill="url(#gB210)"/>
<rect x="1471.0" y="504.8" width="1.0" height="147.8" fill="url(#gB210)"/>
<rect x="1472.0" y="504.3" width="1.0" height="147.8" fill="url(#gB216)"/>
<rect x="1473.0" y="504.6" width="1.0" height="148.3" fill="url(#gB212)"/>
<rect x="1474.0" y="504.4" width="1.0" height="146.8" fill="url(#gB214)"/>
<rect x="1475.0" y="504.0" width="1.0" height="148.0" fill="url(#gB211)"/>
<rect x="1476.0" y="504.8" width="1.0" height="147.9" fill="url(#gB213)"/>
<rect x="1477.0" y="505.0" width="1.0" height="146.5" fill="url(#gB212)"/>
<rect x="1478.0" y="505.2" width="1.0" height="146.2" fill="url(#gB212)"/>
<rect x="1479.0" y="503.3" width="1.0" height="149.5" fill="url(#gB212)"/>
<rect x="1480.0" y="504.3" width="1.0" height="147.3" fill="url(#gB212)"/>
<rect x="1481.0" y="504.3" width="1.0" height="147.7" fill="url(#gB210)"/>
<rect x="1482.0" y="504.5" width="1.0" height="147.1" fill="url(#gB28)"/>
<rect x="1483.0" y="504.5" width="0.7" height="148.1" fill="url(#gB212)"/>
</g>
<rect x="1196.6" y="500.6" width="287.1" height="153.9" filter="url(#spk)" opacity="0.55"/>
<rect x="1197.0" y="649.6" width="1" height="19.9" fill="url(#td)"/>
<rect x="1210.0" y="473.7" width="1" height="31.5" fill="url(#tu)"/>
<rect x="1211.0" y="650.5" width="1" height="15.7" fill="url(#td)"/>
<rect x="1213.0" y="480.3" width="1" height="25.6" fill="url(#tu)"/>
<rect x="1216.0" y="651.6" width="1" height="34.8" fill="url(#td)"/>
<rect x="1217.0" y="651.1" width="1" height="17.6" fill="url(#td)"/>
<rect x="1224.0" y="480.1" width="1" height="25.6" fill="url(#tu)"/>
<rect x="1229.0" y="489.4" width="1" height="16.3" fill="url(#tu)"/>
<rect x="1232.0" y="649.8" width="1" height="29.4" fill="url(#td)"/>
<rect x="1235.0" y="470.9" width="1" height="33.4" fill="url(#tu)"/>
<rect x="1239.0" y="491.6" width="1" height="12.6" fill="url(#tu)"/>
<rect x="1246.0" y="651.2" width="1" height="14.0" fill="url(#td)"/>
<rect x="1253.0" y="483.4" width="1" height="21.9" fill="url(#tu)"/>
<rect x="1254.0" y="496.4" width="1" height="9.5" fill="url(#tu)"/>
<rect x="1255.0" y="468.3" width="1" height="35.3" fill="url(#tu)"/>
<rect x="1256.0" y="651.5" width="1" height="6.1" fill="url(#td)"/>
<rect x="1264.0" y="474.2" width="1" height="30.0" fill="url(#tu)"/>
<rect x="1269.0" y="469.8" width="1" height="33.7" fill="url(#tu)"/>
<rect x="1269.0" y="651.0" width="1" height="16.4" fill="url(#td)"/>
<rect x="1276.0" y="651.9" width="1" height="23.1" fill="url(#td)"/>
<rect x="1280.0" y="651.6" width="1" height="12.6" fill="url(#td)"/>
<rect x="1287.0" y="652.5" width="1" height="25.5" fill="url(#td)"/>
<rect x="1291.0" y="475.7" width="1" height="27.2" fill="url(#tu)"/>
<rect x="1292.0" y="651.7" width="1" height="30.5" fill="url(#td)"/>
<rect x="1293.0" y="485.2" width="1" height="18.2" fill="url(#tu)"/>
<rect x="1300.0" y="651.6" width="1" height="33.5" fill="url(#td)"/>
<rect x="1320.0" y="651.7" width="1" height="14.2" fill="url(#td)"/>
<rect x="1323.0" y="490.8" width="1" height="11.8" fill="url(#tu)"/>
<rect x="1340.0" y="652.2" width="1" height="32.8" fill="url(#td)"/>
<rect x="1342.0" y="652.5" width="1" height="17.8" fill="url(#td)"/>
<rect x="1347.0" y="467.6" width="1" height="34.7" fill="url(#tu)"/>
<rect x="1348.0" y="472.5" width="1" height="31.5" fill="url(#tu)"/>
<rect x="1348.0" y="652.7" width="1" height="28.5" fill="url(#td)"/>
<rect x="1355.0" y="652.2" width="1" height="8.5" fill="url(#td)"/>
<rect x="1363.0" y="650.9" width="1" height="6.6" fill="url(#td)"/>
<rect x="1371.0" y="651.3" width="1" height="16.5" fill="url(#td)"/>
<rect x="1385.0" y="651.8" width="1" height="17.2" fill="url(#td)"/>
<rect x="1390.0" y="651.4" width="1" height="24.4" fill="url(#td)"/>
<rect x="1393.0" y="651.7" width="1" height="31.9" fill="url(#td)"/>
<rect x="1398.0" y="495.4" width="1" height="10.2" fill="url(#tu)"/>
<rect x="1400.0" y="651.1" width="1" height="35.9" fill="url(#td)"/>
<rect x="1406.0" y="472.6" width="1" height="32.2" fill="url(#tu)"/>
<rect x="1419.0" y="498.3" width="1" height="6.5" fill="url(#tu)"/>
<rect x="1421.0" y="499.0" width="1" height="7.2" fill="url(#tu)"/>
<rect x="1422.0" y="649.3" width="1" height="21.9" fill="url(#td)"/>
<rect x="1427.0" y="477.4" width="1" height="30.0" fill="url(#tu)"/>
<rect x="1427.0" y="651.0" width="1" height="10.1" fill="url(#td)"/>
<rect x="1428.0" y="649.3" width="1" height="28.6" fill="url(#td)"/>
<rect x="1435.0" y="482.6" width="1" height="24.0" fill="url(#tu)"/>
<rect x="1438.0" y="650.8" width="1" height="22.5" fill="url(#td)"/>
<rect x="1443.0" y="474.7" width="1" height="31.7" fill="url(#tu)"/>
<rect x="1444.0" y="472.7" width="1" height="35.0" fill="url(#tu)"/>
<rect x="1447.0" y="476.7" width="1" height="29.9" fill="url(#tu)"/>
<rect x="1451.0" y="500.3" width="1" height="7.0" fill="url(#tu)"/>
<rect x="1453.0" y="648.8" width="1" height="16.5" fill="url(#td)"/>
<rect x="1459.0" y="492.6" width="1" height="14.5" fill="url(#tu)"/>
<rect x="1463.0" y="490.6" width="1" height="15.7" fill="url(#tu)"/>
<rect x="1463.0" y="649.7" width="1" height="30.1" fill="url(#td)"/>
<rect x="1464.0" y="495.9" width="1" height="12.2" fill="url(#tu)"/>
<rect x="1472.0" y="472.8" width="1" height="34.5" fill="url(#tu)"/>
<rect x="1473.0" y="488.4" width="1" height="19.2" fill="url(#tu)"/>
<rect x="1475.0" y="499.6" width="1" height="7.4" fill="url(#tu)"/>
<rect x="1481.0" y="490.3" width="1" height="17.0" fill="url(#tu)"/>
<rect x="1482.0" y="648.6" width="1" height="10.5" fill="url(#td)"/>
<rect x="198.00" y="144.00" width="1447.00" height="267.00" fill="none" stroke="#000" stroke-width="1.7"/>
<line x1="191.10" y1="144.00" x2="198.00" y2="144.00" stroke="#000" stroke-width="1.7"/>
<text x="102.16 114.44 126.72 132.85 145.13 157.40" y="151.60" font-size="22.07" transform="scale(1.0797 1)">18.221</text>
<line x1="191.10" y1="210.75" x2="198.00" y2="210.75" stroke="#000" stroke-width="1.7"/>
<text x="101.88 114.16 126.44 132.57 144.85 157.13" y="218.35" font-size="22.07" transform="scale(1.0797 1)">18.213</text>
<line x1="191.10" y1="277.50" x2="198.00" y2="277.50" stroke="#000" stroke-width="1.7"/>
<text x="101.61 113.88 126.16 132.29 144.57 156.85" y="285.10" font-size="22.07" transform="scale(1.0797 1)">18.206</text>
<line x1="191.10" y1="344.25" x2="198.00" y2="344.25" stroke="#000" stroke-width="1.7"/>
<text x="101.70 113.98 126.25 132.39 144.66 156.94" y="351.85" font-size="22.07" transform="scale(1.0797 1)">18.198</text>
<line x1="191.10" y1="411.00" x2="198.00" y2="411.00" stroke="#000" stroke-width="1.7"/>
<text x="101.61 113.88 126.16 132.29 144.57 156.85" y="418.60" font-size="22.07" transform="scale(1.0797 1)">18.190</text>
<line x1="198.00" y1="411.00" x2="198.00" y2="417.90" stroke="#000" stroke-width="1.7"/>
<line x1="258.75" y1="411.00" x2="258.75" y2="414.90" stroke="#000" stroke-width="1.7"/>
<line x1="319.50" y1="411.00" x2="319.50" y2="414.90" stroke="#000" stroke-width="1.7"/>
<line x1="380.25" y1="411.00" x2="380.25" y2="414.90" stroke="#000" stroke-width="1.7"/>
<line x1="441.00" y1="411.00" x2="441.00" y2="417.90" stroke="#000" stroke-width="1.7"/>
<line x1="501.75" y1="411.00" x2="501.75" y2="414.90" stroke="#000" stroke-width="1.7"/>
<line x1="562.50" y1="411.00" x2="562.50" y2="414.90" stroke="#000" stroke-width="1.7"/>
<line x1="623.25" y1="411.00" x2="623.25" y2="414.90" stroke="#000" stroke-width="1.7"/>
<line x1="684.00" y1="411.00" x2="684.00" y2="417.90" stroke="#000" stroke-width="1.7"/>
<line x1="744.75" y1="411.00" x2="744.75" y2="414.90" stroke="#000" stroke-width="1.7"/>
<line x1="805.50" y1="411.00" x2="805.50" y2="414.90" stroke="#000" stroke-width="1.7"/>
<line x1="866.25" y1="411.00" x2="866.25" y2="414.90" stroke="#000" stroke-width="1.7"/>
<line x1="927.00" y1="411.00" x2="927.00" y2="417.90" stroke="#000" stroke-width="1.7"/>
<line x1="987.75" y1="411.00" x2="987.75" y2="414.90" stroke="#000" stroke-width="1.7"/>
<line x1="1048.50" y1="411.00" x2="1048.50" y2="414.90" stroke="#000" stroke-width="1.7"/>
<line x1="1109.25" y1="411.00" x2="1109.25" y2="414.90" stroke="#000" stroke-width="1.7"/>
<line x1="1170.00" y1="411.00" x2="1170.00" y2="417.90" stroke="#000" stroke-width="1.7"/>
<line x1="1230.75" y1="411.00" x2="1230.75" y2="414.90" stroke="#000" stroke-width="1.7"/>
<line x1="1291.50" y1="411.00" x2="1291.50" y2="414.90" stroke="#000" stroke-width="1.7"/>
<line x1="1352.25" y1="411.00" x2="1352.25" y2="414.90" stroke="#000" stroke-width="1.7"/>
<line x1="1413.00" y1="411.00" x2="1413.00" y2="417.90" stroke="#000" stroke-width="1.7"/>
<line x1="1473.75" y1="411.00" x2="1473.75" y2="414.90" stroke="#000" stroke-width="1.7"/>
<line x1="1534.50" y1="411.00" x2="1534.50" y2="414.90" stroke="#000" stroke-width="1.7"/>
<line x1="1595.25" y1="411.00" x2="1595.25" y2="414.90" stroke="#000" stroke-width="1.7"/>
<g transform="translate(97.00 0) rotate(-90)"><text x="-386.23 -380.09 -367.51 -354.94 -341.69 -334.65 -329.02 -314.79 -309.61 -296.76 -290.49 -278.53 -265.96 -253.57 -241.19 -228.83 -217.52 -206.04 -199.63 -192.73 -175.50 -160.39 -149.47" y="0.00" font-size="22.07" transform="scale(1.0507 1)">Input A Frequency (MHz)</text></g>
<rect x="1660.00" y="144.00" width="13.00" height="267.00" fill="url(#nipy)" stroke="#000" stroke-width="1.7"/>
<line x1="1673.00" y1="146.80" x2="1679.90" y2="146.80" stroke="#000" stroke-width="1.7"/>
<text x="1564.04 1576.31" y="154.40" font-size="22.07" transform="scale(1.0796 1)">30</text>
<line x1="1673.00" y1="212.80" x2="1679.90" y2="212.80" stroke="#000" stroke-width="1.7"/>
<text x="1564.13 1576.41" y="220.40" font-size="22.07" transform="scale(1.0796 1)">20</text>
<line x1="1673.00" y1="278.80" x2="1679.90" y2="278.80" stroke="#000" stroke-width="1.7"/>
<text x="1563.39 1575.67" y="286.40" font-size="22.07" transform="scale(1.0796 1)">10</text>
<line x1="1673.00" y1="344.80" x2="1679.90" y2="344.80" stroke="#000" stroke-width="1.7"/>
<text x="1564.22" y="352.40" font-size="22.07" transform="scale(1.0796 1)">0</text>
<line x1="1673.00" y1="410.80" x2="1679.90" y2="410.80" stroke="#000" stroke-width="1.7"/>
<text x="1438.66 1452.04 1463.33" y="418.40" font-size="22.07" transform="scale(1.1741 1)">−10</text>
<rect x="198.00" y="436.00" width="1447.00" height="267.00" fill="none" stroke="#000" stroke-width="1.7"/>
<line x1="191.10" y1="436.00" x2="198.00" y2="436.00" stroke="#000" stroke-width="1.7"/>
<text x="102.16 114.44 126.72 132.85 145.13 157.40" y="443.60" font-size="22.07" transform="scale(1.0797 1)">18.221</text>
<line x1="191.10" y1="502.75" x2="198.00" y2="502.75" stroke="#000" stroke-width="1.7"/>
<text x="101.88 114.16 126.44 132.57 144.85 157.13" y="510.35" font-size="22.07" transform="scale(1.0797 1)">18.213</text>
<line x1="191.10" y1="569.50" x2="198.00" y2="569.50" stroke="#000" stroke-width="1.7"/>
<text x="101.61 113.88 126.16 132.29 144.57 156.85" y="577.10" font-size="22.07" transform="scale(1.0797 1)">18.206</text>
<line x1="191.10" y1="636.25" x2="198.00" y2="636.25" stroke="#000" stroke-width="1.7"/>
<text x="101.70 113.98 126.25 132.39 144.66 156.94" y="643.85" font-size="22.07" transform="scale(1.0797 1)">18.198</text>
<line x1="191.10" y1="703.00" x2="198.00" y2="703.00" stroke="#000" stroke-width="1.7"/>
<text x="101.61 113.88 126.16 132.29 144.57 156.85" y="710.60" font-size="22.07" transform="scale(1.0797 1)">18.190</text>
<line x1="198.00" y1="703.00" x2="198.00" y2="709.90" stroke="#000" stroke-width="1.7"/>
<line x1="258.75" y1="703.00" x2="258.75" y2="706.90" stroke="#000" stroke-width="1.7"/>
<line x1="319.50" y1="703.00" x2="319.50" y2="706.90" stroke="#000" stroke-width="1.7"/>
<line x1="380.25" y1="703.00" x2="380.25" y2="706.90" stroke="#000" stroke-width="1.7"/>
<line x1="441.00" y1="703.00" x2="441.00" y2="709.90" stroke="#000" stroke-width="1.7"/>
<line x1="501.75" y1="703.00" x2="501.75" y2="706.90" stroke="#000" stroke-width="1.7"/>
<line x1="562.50" y1="703.00" x2="562.50" y2="706.90" stroke="#000" stroke-width="1.7"/>
<line x1="623.25" y1="703.00" x2="623.25" y2="706.90" stroke="#000" stroke-width="1.7"/>
<line x1="684.00" y1="703.00" x2="684.00" y2="709.90" stroke="#000" stroke-width="1.7"/>
<line x1="744.75" y1="703.00" x2="744.75" y2="706.90" stroke="#000" stroke-width="1.7"/>
<line x1="805.50" y1="703.00" x2="805.50" y2="706.90" stroke="#000" stroke-width="1.7"/>
<line x1="866.25" y1="703.00" x2="866.25" y2="706.90" stroke="#000" stroke-width="1.7"/>
<line x1="927.00" y1="703.00" x2="927.00" y2="709.90" stroke="#000" stroke-width="1.7"/>
<line x1="987.75" y1="703.00" x2="987.75" y2="706.90" stroke="#000" stroke-width="1.7"/>
<line x1="1048.50" y1="703.00" x2="1048.50" y2="706.90" stroke="#000" stroke-width="1.7"/>
<line x1="1109.25" y1="703.00" x2="1109.25" y2="706.90" stroke="#000" stroke-width="1.7"/>
<line x1="1170.00" y1="703.00" x2="1170.00" y2="709.90" stroke="#000" stroke-width="1.7"/>
<line x1="1230.75" y1="703.00" x2="1230.75" y2="706.90" stroke="#000" stroke-width="1.7"/>
<line x1="1291.50" y1="703.00" x2="1291.50" y2="706.90" stroke="#000" stroke-width="1.7"/>
<line x1="1352.25" y1="703.00" x2="1352.25" y2="706.90" stroke="#000" stroke-width="1.7"/>
<line x1="1413.00" y1="703.00" x2="1413.00" y2="709.90" stroke="#000" stroke-width="1.7"/>
<line x1="1473.75" y1="703.00" x2="1473.75" y2="706.90" stroke="#000" stroke-width="1.7"/>
<line x1="1534.50" y1="703.00" x2="1534.50" y2="706.90" stroke="#000" stroke-width="1.7"/>
<line x1="1595.25" y1="703.00" x2="1595.25" y2="706.90" stroke="#000" stroke-width="1.7"/>
<g transform="translate(97.00 0) rotate(-90)"><text x="-670.63 -664.40 -651.70 -639.00 -625.66 -618.55 -612.80 -598.45 -593.18 -580.24 -573.89 -561.81 -549.11 -536.61 -524.10 -511.63 -500.20 -488.64 -482.16 -475.14 -457.75 -442.51 -431.51" y="0.00" font-size="22.07" transform="scale(1.0405 1)">Input B Frequency (MHz)</text></g>
<rect x="1660.00" y="436.00" width="13.00" height="267.00" fill="url(#nipy)" stroke="#000" stroke-width="1.7"/>
<line x1="1673.00" y1="438.80" x2="1679.90" y2="438.80" stroke="#000" stroke-width="1.7"/>
<text x="1564.04 1576.31" y="446.40" font-size="22.07" transform="scale(1.0796 1)">30</text>
<line x1="1673.00" y1="504.80" x2="1679.90" y2="504.80" stroke="#000" stroke-width="1.7"/>
<text x="1564.13 1576.41" y="512.40" font-size="22.07" transform="scale(1.0796 1)">20</text>
<line x1="1673.00" y1="570.80" x2="1679.90" y2="570.80" stroke="#000" stroke-width="1.7"/>
<text x="1563.39 1575.67" y="578.40" font-size="22.07" transform="scale(1.0796 1)">10</text>
<line x1="1673.00" y1="636.80" x2="1679.90" y2="636.80" stroke="#000" stroke-width="1.7"/>
<text x="1564.22" y="644.40" font-size="22.07" transform="scale(1.0796 1)">0</text>
<line x1="1673.00" y1="702.80" x2="1679.90" y2="702.80" stroke="#000" stroke-width="1.7"/>
<text x="1438.66 1452.04 1463.33" y="710.40" font-size="22.07" transform="scale(1.1741 1)">−10</text>
<g transform="translate(1777 0) rotate(-90)"><text x="-522.70 -506.93 -501.69 -489.50 -477.11 -472.06 -459.86 -454.36 -440.46 -429.59 -423.65 -416.90 -404.69 -392.47 -380.27 -374.01 -361.56" y="0.00" font-size="22.07" transform="scale(1.0650 1)">Dipole Voltage 20</text><text x="-345.93 -341.02 -328.97" y="0.00" font-size="22.07" transform="scale(1.0709 1)" font-style="italic">log</text><text x="-306.35" y="0.00" font-size="22.07" transform="scale(1.1056 1)">(</text><text x="-351.87" y="0.00" font-size="22.07" transform="scale(0.9394 1)" font-style="italic">μ</text><text x="-339.35" y="0.00" font-size="22.07" transform="scale(0.9328 1)" font-style="italic">V</text><text x="-458.76" y="3.20" font-size="15.45" transform="scale(0.6582 1)" font-style="italic">B</text><text x="-304.41" y="0.00" font-size="22.07" transform="scale(0.9641 1)" font-style="italic">s</text><text x="-254.80" y="0.00" font-size="22.07" transform="scale(1.1056 1)">)</text></g>
<text x="80.73 96.67" y="730.60" font-size="22.07" transform="scale(0.9507 1)">UT</text>
<text x="16.95 33.47 45.89 58.37 64.45 70.24 82.08 95.33" y="751.36" font-size="22.07" transform="scale(1.0289 1)">Geo. Lat</text>
<text x="14.05 30.83 43.47 56.13 62.32 68.27 80.32 92.80" y="772.12" font-size="22.07" transform="scale(1.0105 1)">Geo. Lon</text>
<text x="20.27 34.30 40.05 46.79 52.90 60.25 71.32 89.78" y="792.88" font-size="22.07" transform="scale(1.0976 1)">Alt (km)</text>
<text x="14.24 32.01 44.44 57.01 63.35 69.00 80.67 93.76" y="813.64" font-size="22.07" transform="scale(1.0449 1)">Mag. Lat</text>
<text x="11.46 29.51 42.18 54.92 61.38 67.20 79.07 91.36" y="834.40" font-size="22.07" transform="scale(1.0257 1)">Mag. Lon</text>
<text x="11.20 28.84 40.24 50.62 57.29 65.34 78.54 86.27 97.47" y="855.16" font-size="22.07" transform="scale(1.0142 1)">MLT (hrs)</text>
<text x="136.14 148.31 160.69 166.93 179.10 191.48 197.72 209.89" y="730.60" font-size="22.07" transform="scale(1.0889 1)">02:55:39</text>
<text x="153.06 165.33 177.61 183.74 196.02" y="751.36" font-size="22.07" transform="scale(1.0797 1)">68.89</text>
<text x="150.48 157.70 170.06 182.39 188.58 200.94" y="772.12" font-size="22.07" transform="scale(1.0730 1)">-77.80</text>
<text x="146.71 158.99 171.27 183.54 189.68 201.95" y="792.88" font-size="22.07" transform="scale(1.0797 1)">713.86</text>
<text x="153.15 165.43 177.70 183.84 196.11" y="813.64" font-size="22.07" transform="scale(1.0797 1)">78.21</text>
<text x="157.02 164.25 176.60 182.81 195.18" y="834.40" font-size="22.07" transform="scale(1.0713 1)">-9.13</text>
<text x="152.96 165.24 177.52 183.65 195.93" y="855.16" font-size="22.07" transform="scale(1.0797 1)">21.60</text>
<text x="358.17 370.35 382.73 388.97 401.14 413.52 419.76 431.93" y="730.60" font-size="22.07" transform="scale(1.0889 1)">02:56:00</text>
<text x="376.90 389.18 401.46 407.59 419.87" y="751.36" font-size="22.07" transform="scale(1.0797 1)">67.74</text>
<text x="376.20 383.41 395.77 408.10 414.29 426.65" y="772.12" font-size="22.07" transform="scale(1.0730 1)">-76.42</text>
<text x="370.70 382.97 395.25 407.53 413.66 425.94" y="792.88" font-size="22.07" transform="scale(1.0797 1)">724.20</text>
<text x="376.90 389.18 401.46 407.59 419.87" y="813.64" font-size="22.07" transform="scale(1.0797 1)">77.08</text>
<text x="382.75 389.98 402.33 408.53 420.91" y="834.40" font-size="22.07" transform="scale(1.0713 1)">-6.43</text>
<text x="376.99 389.27 401.55 407.68 419.96" y="855.16" font-size="22.07" transform="scale(1.0797 1)">21.79</text>
<text x="580.25 592.43 604.81 611.05 623.22 635.60 641.84 654.01" y="730.60" font-size="22.07" transform="scale(1.0889 1)">02:56:20</text>
<text x="601.12 613.40 625.67 631.81 644.08" y="751.36" font-size="22.07" transform="scale(1.0797 1)">66.63</text>
<text x="601.49 608.70 621.06 633.39 639.58 651.94" y="772.12" font-size="22.07" transform="scale(1.0730 1)">-75.25</text>
<text x="594.68 606.96 619.24 631.52 637.65 649.93" y="792.88" font-size="22.07" transform="scale(1.0797 1)">734.06</text>
<text x="600.89 613.16 625.44 631.57 643.85" y="813.64" font-size="22.07" transform="scale(1.0797 1)">75.99</text>
<text x="608.52 615.75 628.10 634.31 646.68" y="834.40" font-size="22.07" transform="scale(1.0713 1)">-4.27</text>
<text x="600.84 613.12 625.40 631.53 643.81" y="855.16" font-size="22.07" transform="scale(1.0797 1)">21.94</text>
<text x="802.61 814.79 827.17 833.40 845.58 857.96 864.20 876.37" y="730.60" font-size="22.07" transform="scale(1.0889 1)">02:56:41</text>
<text x="824.96 837.24 849.52 855.65 867.93" y="751.36" font-size="22.07" transform="scale(1.0797 1)">65.46</text>
<text x="826.55 833.76 846.12 858.45 864.64 877.00" y="772.12" font-size="22.07" transform="scale(1.0730 1)">-74.14</text>
<text x="818.81 831.09 843.36 855.64 861.77 874.05" y="792.88" font-size="22.07" transform="scale(1.0797 1)">744.43</text>
<text x="825.15 837.43 849.70 855.84 868.11" y="813.64" font-size="22.07" transform="scale(1.0797 1)">74.82</text>
<text x="834.06 841.29 853.64 859.85 872.22" y="834.40" font-size="22.07" transform="scale(1.0713 1)">-2.36</text>
<text x="825.10 837.38 849.66 855.79 868.07" y="855.16" font-size="22.07" transform="scale(1.0797 1)">22.07</text>
<text x="1024.74 1036.91 1049.29 1055.53 1067.70 1080.09 1086.32 1098.50" y="730.60" font-size="22.07" transform="scale(1.0889 1)">02:57:02</text>
<text x="1048.99 1061.27 1073.55 1079.68 1091.96" y="751.36" font-size="22.07" transform="scale(1.0797 1)">64.28</text>
<text x="1052.16 1059.38 1071.74 1084.07 1090.26 1102.62" y="772.12" font-size="22.07" transform="scale(1.0730 1)">-73.13</text>
<text x="1042.98 1055.26 1067.53 1079.81 1085.95 1098.22" y="792.88" font-size="22.07" transform="scale(1.0797 1)">754.82</text>
<text x="1049.04 1061.32 1073.60 1079.73 1092.01" y="813.64" font-size="22.07" transform="scale(1.0797 1)">73.65</text>
<text x="1059.93 1067.16 1079.51 1085.72 1098.09" y="834.40" font-size="22.07" transform="scale(1.0713 1)">-0.73</text>
<text x="1048.95 1061.23 1073.50 1079.64 1091.91" y="855.16" font-size="22.07" transform="scale(1.0797 1)">22.18</text>
<text x="1246.82 1258.99 1271.38 1277.61 1289.79 1302.17 1308.41 1320.58" y="730.60" font-size="22.07" transform="scale(1.0889 1)">02:57:22</text>
<text x="1272.93 1285.21 1297.49 1303.62 1315.90" y="751.36" font-size="22.07" transform="scale(1.0797 1)">63.16</text>
<text x="1277.64 1284.86 1297.21 1309.55 1315.74 1328.09" y="772.12" font-size="22.07" transform="scale(1.0730 1)">-72.25</text>
<text x="1266.92 1279.20 1291.47 1303.75 1309.88 1322.16" y="792.88" font-size="22.07" transform="scale(1.0797 1)">764.71</text>
<text x="1273.12 1285.40 1297.67 1303.81 1316.08" y="813.64" font-size="22.07" transform="scale(1.0797 1)">72.52</text>
<text x="1279.31 1291.59 1297.73 1310.00" y="834.40" font-size="22.07" transform="scale(1.0797 1)">0.61</text>
<text x="1272.93 1285.21 1297.49 1303.62 1315.90" y="855.16" font-size="22.07" transform="scale(1.0797 1)">22.28</text>
<text x="1468.72 1480.89 1493.27 1499.51 1511.68 1524.07 1530.30 1542.48" y="730.60" font-size="22.07" transform="scale(1.0889 1)">02:57:43</text>
<text x="1497.10 1509.38 1521.66 1527.79 1540.07" y="751.36" font-size="22.07" transform="scale(1.0797 1)">61.97</text>
<text x="1503.12 1510.34 1522.69 1535.03 1541.22 1553.57" y="772.12" font-size="22.07" transform="scale(1.0730 1)">-71.42</text>
<text x="1454.58 1466.56 1478.54 1490.59 1496.50 1508.48" y="792.88" font-size="22.07" transform="scale(1.1065 1)">775.11</text>
<text x="1496.92 1509.20 1521.47 1527.61 1539.88" y="813.64" font-size="22.07" transform="scale(1.0797 1)">71.33</text>
<text x="1502.74 1515.02 1521.15 1533.43" y="834.40" font-size="22.07" transform="scale(1.0797 1)">1.83</text>
<text x="1497.06 1509.33 1521.61 1527.75 1540.02" y="855.16" font-size="22.07" transform="scale(1.0797 1)">22.37</text>
<rect x="169.30" y="878.90" width="465.20" height="148.80" fill="#ffe4e1"/>
<rect x="741.00" y="878.90" width="244.20" height="148.80" fill="#ffe4e1"/>
<line x1="101.10" y1="912.90" x2="108.00" y2="912.90" stroke="#000" stroke-width="1.7"/>
<text x="49.65 61.92 74.20" y="920.50" font-size="22.07" transform="scale(1.0796 1)">100</text>
<line x1="101.10" y1="953.90" x2="108.00" y2="953.90" stroke="#000" stroke-width="1.7"/>
<text x="74.19" y="961.50" font-size="22.07" transform="scale(1.0796 1)">0</text>
<line x1="101.10" y1="994.60" x2="108.00" y2="994.60" stroke="#000" stroke-width="1.7"/>
<text x="32.60 46.25 57.76 69.28" y="1002.20" font-size="22.07" transform="scale(1.1508 1)">−100</text>
<line x1="150.00" y1="1035.00" x2="150.00" y2="1041.90" stroke="#000" stroke-width="1.7"/>
<text x="94.81 106.98 119.37 125.60 137.78 150.16 156.40 168.57" y="1064.00" font-size="22.07" transform="scale(1.0889 1)">02:55:39</text>
<line x1="288.96" y1="1035.00" x2="288.96" y2="1041.90" stroke="#000" stroke-width="1.7"/>
<text x="222.38 234.55 246.93 253.17 265.34 277.72 283.96 296.13" y="1064.00" font-size="22.07" transform="scale(1.0889 1)">02:56:00</text>
<line x1="427.92" y1="1035.00" x2="427.92" y2="1041.90" stroke="#000" stroke-width="1.7"/>
<text x="349.99 362.16 374.54 380.78 392.95 405.33 411.57 423.74" y="1064.00" font-size="22.07" transform="scale(1.0889 1)">02:56:20</text>
<line x1="566.88" y1="1035.00" x2="566.88" y2="1041.90" stroke="#000" stroke-width="1.7"/>
<text x="477.87 490.05 502.43 508.67 520.84 533.22 539.46 551.63" y="1064.00" font-size="22.07" transform="scale(1.0889 1)">02:56:41</text>
<line x1="705.83" y1="1035.00" x2="705.83" y2="1041.90" stroke="#000" stroke-width="1.7"/>
<text x="605.53 617.70 630.09 636.32 648.50 660.88 667.11 679.29" y="1064.00" font-size="22.07" transform="scale(1.0889 1)">02:57:02</text>
<line x1="844.79" y1="1035.00" x2="844.79" y2="1041.90" stroke="#000" stroke-width="1.7"/>
<text x="733.14 745.31 757.70 763.93 776.11 788.49 794.73 806.90" y="1064.00" font-size="22.07" transform="scale(1.0889 1)">02:57:22</text>
<line x1="983.75" y1="1035.00" x2="983.75" y2="1041.90" stroke="#000" stroke-width="1.7"/>
<text x="860.57 872.74 885.12 891.36 903.53 915.92 922.15 934.33" y="1064.00" font-size="22.07" transform="scale(1.0889 1)">02:57:43</text>
<g transform="translate(22.70 0) rotate(-90)"><text x="-953.42 -939.30 -926.88 -914.26 -909.20 -896.99 -890.67 -883.10 -870.86 -858.62 -846.12" y="0.00" font-size="22.07" transform="scale(1.0640 1)">Angle (deg)</text></g>
<line x1="150.00" y1="953.90" x2="983.75" y2="953.90" stroke="#0000ff" stroke-width="2.78" stroke-linecap="square"/>
<line x1="150.00" y1="953.90" x2="983.75" y2="953.90" stroke="#ff0000" stroke-width="2.78" stroke-dasharray="10.3 4.45"/>
<line x1="150.00" y1="953.90" x2="983.75" y2="953.90" stroke="#008000" stroke-width="2.78" stroke-dasharray="2.78 4.45"/>
<rect x="108.00" y="873.00" width="918.00" height="162.00" fill="none" stroke="#000" stroke-width="1.7"/>
<rect x="404.6" y="880.6" width="323.4" height="28" rx="3" ry="3" fill="#fff" fill-opacity="0.8" stroke="#cccccc" stroke-width="1.11"/>
<line x1="411.00" y1="894.40" x2="447.00" y2="894.40" stroke="#0000ff" stroke-width="2.78"/>
<text x="478.44 490.04 498.60" y="900.20" font-size="17.66" transform="scale(0.9603 1)">Yaw</text>
<line x1="524.00" y1="894.40" x2="553.00" y2="894.40" stroke="#ff0000" stroke-width="2.78" stroke-dasharray="10.3 4.45"/>
<text x="550.38 561.41 565.97 571.60 580.65" y="900.20" font-size="17.66" transform="scale(1.0335 1)">Pitch</text>
<line x1="644.00" y1="894.40" x2="681.00" y2="894.40" stroke="#008000" stroke-width="2.78" stroke-dasharray="2.78 4.45"/>
<text x="693.40 705.80 715.45 720.10" y="900.20" font-size="17.66" transform="scale(0.9956 1)">Roll</text>
<text x="15.58 27.07 32.68 38.19 42.71 47.93 57.43 66.79 76.23 82.18 93.54 97.59 109.25 118.59 128.37 132.55" y="1090.80" font-size="17.66" transform="scale(1.1132 1)">Attitude = Nadir</text>
<text x="15.99 26.97 36.01 45.72 55.67 62.00 66.33 81.13 90.83 101.26 106.78 113.06 124.74 128.69 140.33 148.96 157.27 167.13 171.26 181.69 187.06 196.77 201.14 212.21 222.06 231.09 235.37 245.76 249.47 259.15 268.62 277.30 292.42 297.14 303.23 308.60 318.55" y="1115.60" font-size="17.66" transform="scale(1.0725 1)">Experiment = Resolute Bay Transmitter</text>
<text x="16.51 29.44 39.42 43.68 53.66 58.74 68.73 73.61 79.46 83.89 98.01 107.89 118.05 122.30 132.57 147.68 152.70 156.92 169.85 179.83 184.09 194.06 199.15 209.14 214.02 219.87 224.30 238.42 248.30 258.46 262.71 272.98 288.09 293.11 297.33 310.25 320.24 324.50 334.47 339.56 349.55 354.43 360.28 364.71 378.83 388.71 398.87 403.12 413.38 428.50 433.52 437.74 450.66 460.65 464.91 474.88 479.97 489.96 494.84 500.69 505.12 519.24 529.12 539.28 543.53 553.79" y="1139.90" font-size="17.66" transform="scale(1.0546 1)">Gain 1 - Medium, Gain 2 - Medium, Gain 3 - Medium, Gain 4 - Medium</text>
<text x="17.20 22.11 32.16 42.22 52.81 58.09 66.86 72.05 76.18 88.21 98.09 107.98 118.03 127.93 137.96 142.19 147.30 157.32 162.22 168.08 172.94 177.87 187.89 192.93 197.06 209.09 218.98 228.86 238.91 248.81 258.84 263.07 268.18 278.20 283.10 288.97 293.31 306.56 316.58 321.62 325.75 337.78 347.66 357.55 367.60 377.50 387.53 391.76 396.87 406.89 411.79 417.65 422.51 427.44 437.46 442.50 446.63 458.66 468.55 478.43 488.48 498.38 508.41 512.65 517.75 527.78 532.67 538.54 542.88 556.13" y="1163.80" font-size="17.66" transform="scale(1.0511 1)">Inputs: Channel 1 - I1, Channel 2 - Q1, Channel 3 - I3, Channel 4 - Q3</text>
<rect x="748.00" y="1083.00" width="33.00" height="11.50" fill="#ffe4e1"/>
<text x="722.59 734.57 744.06 753.97 759.77 769.24 778.72 788.21 797.90 802.50 812.59 818.54 824.12 828.71 834.04 843.66 853.15 862.69 867.46 877.09 886.55 896.26 900.48 905.07 910.58" y="1094.00" font-size="17.66" transform="scale(1.0980 1)">Degraded attitude quality</text>
<text x="680.89 693.00 702.95 717.79 727.42 737.30 743.41 748.11 758.00 763.16 768.04 777.65 787.45 791.53 801.89 806.97 815.39 820.28 829.91 839.79 845.89 850.40 858.81 868.44 877.91 887.13 892.84 898.92 908.86 923.87 928.92 933.81 943.62 953.42 963.23" y="1116.00" font-size="17.66" transform="scale(1.0814 1)">Number of points per spectrum: 5208</text>
<text x="703.52 716.27 720.59 730.51 740.54 744.69 754.58 759.07 773.25 783.17 793.11" y="1140.00" font-size="17.66" transform="scale(1.0472 1)">Dipole Mode</text>
<text x="1393.84 1407.52 1414.79 1426.64 1439.14 1451.42 1462.28 1474.60 1487.06 1493.37 1506.08 1517.49 1524.07 1532.17 1539.84 1543.82 1555.00 1567.68 1572.93 1579.44 1590.72 1603.29 1610.64 1621.57 1626.65 1638.93 1651.38 1657.71" y="1185.00" font-size="22.07" transform="scale(1.0572 1)">Produced by rri_ql version 4</text>
<g clip-path="url(#mapclip)">
<rect x="1105" y="872.9" width="545" height="266.6" fill="url(#ocean)"/>
<g filter="url(#mblur8)">
<ellipse cx="1530" cy="1070" rx="80" ry="50" fill="#6d9dc3" opacity="0.5"/>
<ellipse cx="1200" cy="1070" rx="80" ry="60" fill="#6b9bbf" opacity="0.6"/>
<ellipse cx="1330" cy="905" rx="80" ry="20" fill="#80b3d8" opacity="0.6"/>
</g>
<g filter="url(#mblur1)">
<path d="M1220.2 956.9 L1229.0 952.4 L1239.8 948.0 L1227.3 947.1 L1227.3 943.6 L1239.8 940.0 L1238.0 936.4 L1243.3 933.8 L1252.2 930.2 L1270.0 927.6 L1287.8 930.2 L1305.6 932.9 L1314.4 933.8 L1332.2 931.1 L1339.4 930.3 L1358.3 936.0 L1377.2 938.8 L1396.1 937.9 L1410.3 941.7 L1419.7 937.9 L1429.2 943.5 L1435.0 946.0 L1440.0 950.0 L1445.5 954.3 L1457.5 954.3 L1465.0 957.3 L1465.8 964.8 L1472.5 966.3 L1480.0 970.0 L1487.5 976.0 L1493.5 981.3 L1495.0 986.5 L1489.8 991.0 L1480.0 991.0 L1472.5 992.5 L1465.0 994.0 L1457.5 997.0 L1455.0 1000.0 L1463.5 1002.0 L1470.0 1001.0 L1478.5 1000.0 L1480.0 1002.3 L1471.0 1007.5 L1463.5 1010.5 L1455.0 1010.5 L1448.5 1013.0 L1440.0 1019.0 L1433.0 1025.0 L1428.7 1031.0 L1424.0 1037.0 L1421.6 1042.2 L1411.7 1049.2 L1413.1 1056.3 L1413.1 1064.8 L1410.3 1062.0 L1406.1 1050.7 L1401.8 1050.7 L1393.3 1053.5 L1382.0 1053.5 L1373.5 1052.1 L1365.0 1053.5 L1359.3 1059.2 L1357.9 1070.5 L1359.3 1080.4 L1365.0 1083.2 L1372.0 1083.5 L1379.2 1083.2 L1382.0 1077.6 L1390.5 1076.1 L1389.0 1082.0 L1387.6 1084.6 L1390.5 1090.3 L1399.0 1096.0 L1400.4 1108.7 L1410.3 1111.6 L1416.0 1114.4 L1418.0 1117.5 L1413.1 1117.6 L1404.6 1115.8 L1393.3 1108.7 L1387.6 1101.6 L1376.3 1096.0 L1365.0 1093.1 L1350.8 1087.5 L1339.5 1081.8 L1336.7 1076.1 L1329.6 1062.0 L1322.5 1050.7 L1319.7 1045.0 L1313.0 1042.5 L1316.8 1050.0 L1322.5 1062.0 L1325.3 1070.5 L1319.7 1064.8 L1312.6 1056.3 L1311.2 1047.8 L1308.3 1039.3 L1301.2 1033.7 L1297.0 1019.5 L1301.2 1006.7 L1305.5 996.8 L1299.8 989.7 L1294.0 982.0 L1291.3 978.4 L1288.5 968.0 L1283.0 960.5 L1278.9 958.7 L1265.6 957.8 L1252.2 962.2 L1243.3 964.0 L1232.0 964.5 L1225.6 964.0 L1220.2 960.4 Z" fill="#dfe0ba"/>
</g>
<g clip-path="url(#naclip)"><g filter="url(#mblur)">
<path d="M1285.0 952.0 L1320.0 950.0 L1360.0 952.0 L1400.0 958.0 L1440.0 968.0 L1470.0 978.0 L1495.0 990.0 L1470.0 998.0 L1450.0 1004.0 L1420.0 1003.0 L1400.0 998.0 L1385.0 990.0 L1360.0 982.0 L1340.0 980.0 L1320.0 990.0 L1305.0 992.0 L1292.0 980.0 Z" fill="#adc4aa"/>
<path d="M1215.0 925.0 L1300.0 922.0 L1340.0 926.0 L1420.0 932.0 L1470.0 945.0 L1495.0 975.0 L1478.0 975.0 L1450.0 962.0 L1420.0 955.0 L1395.0 952.0 L1360.0 946.0 L1330.0 944.0 L1300.0 945.0 L1270.0 946.0 L1240.0 950.0 L1215.0 955.0 Z" fill="#dfe0d7"/>
<path d="M1238.0 950.0 L1270.0 945.0 L1300.0 948.0 L1300.0 958.0 L1270.0 956.0 L1245.0 960.0 Z" fill="#c9d4bd"/>
<path d="M1282.0 960.0 L1292.0 962.0 L1300.0 975.0 L1304.0 990.0 L1298.0 992.0 L1290.0 980.0 Z" fill="#cfd6c6"/>
<path d="M1336.0 980.0 L1352.0 977.0 L1368.0 985.0 L1385.0 995.0 L1398.0 1002.0 L1400.0 1015.0 L1393.0 1035.0 L1385.0 1048.0 L1372.0 1053.0 L1362.0 1056.0 L1356.0 1068.0 L1350.0 1058.0 L1345.0 1040.0 L1340.0 1020.0 L1335.0 1000.0 Z" fill="#e6e5bd"/>
<path d="M1302.0 1000.0 L1320.0 996.0 L1336.0 1000.0 L1342.0 1025.0 L1350.0 1055.0 L1354.0 1075.0 L1342.0 1080.0 L1326.0 1062.0 L1312.0 1042.0 L1300.0 1025.0 Z" fill="#ddd7bd"/>
<path d="M1398.0 1002.0 L1425.0 1004.0 L1450.0 1008.0 L1438.0 1022.0 L1426.0 1040.0 L1410.0 1049.0 L1396.0 1046.0 L1392.0 1030.0 Z" fill="#d3dcab"/>
<path d="M1376.0 1090.0 L1390.0 1088.0 L1400.0 1100.0 L1412.0 1112.0 L1405.0 1117.0 L1392.0 1108.0 L1380.0 1098.0 Z" fill="#c9d5a6"/>
</g></g>
<g filter="url(#mblur1)">
<path d="M1399.8 962.5 L1402.0 958.8 L1408.8 954.3 L1418.5 950.5 L1427.5 949.8 L1436.5 952.0 L1442.5 955.8 L1445.5 958.0 L1442.5 964.0 L1444.0 968.5 L1441.8 973.0 L1435.0 975.3 L1434.3 979.8 L1432.0 985.0 L1429.0 986.5 L1426.8 982.0 L1426.0 976.0 L1420.0 974.5 L1412.5 971.5 L1405.0 968.5 L1400.5 965.5 Z" fill="#76aad5"/>
<path d="M1463.0 956.0 L1470.0 955.5 L1474.0 960.0 L1471.0 965.0 L1466.0 964.0 Z" fill="#76aad5"/>
<path d="M1463.0 996.0 L1472.0 993.5 L1481.0 993.0 L1486.0 995.0 L1482.0 998.5 L1474.0 999.5 L1466.0 1000.0 Z" fill="#76aad5"/>
<path d="M1199.0 944.0 L1204.0 939.0 L1212.0 937.3 L1220.0 939.0 L1222.0 944.0 L1215.0 947.5 L1205.0 947.5 Z" fill="#e2e1d8"/>
<path d="M1243 964 L1230 968 L1216.7 975.6 L1198.9 980 L1180 983.5 L1166 986" fill="none" stroke="#d8dccd" stroke-width="1.6" stroke-linecap="round" opacity="0.6"/>
</g><g filter="url(#rough)">
<path d="M1348.9 924.7 L1358.3 919.0 L1372.5 920.9 L1385.0 919.5 L1396.1 920.9 L1399.9 929.4 L1386.7 935.0 L1367.8 936.0 L1358.3 928.4 Z" fill="#e6e5df"/>
<path d="M1367.8 911.0 L1380.0 908.6 L1395.0 909.0 L1405.5 912.0 L1398.0 916.5 L1382.0 917.1 L1370.0 915.0 Z" fill="#e6e5df"/>
<path d="M1403.7 924.0 L1415.0 920.5 L1428.0 921.0 L1433.9 927.0 L1428.0 933.0 L1415.0 934.0 L1406.0 930.0 Z" fill="#e6e5df"/>
<path d="M1433.9 924.7 L1448.0 920.0 L1462.2 922.8 L1476.4 932.2 L1490.5 940.7 L1486.0 947.0 L1481.1 951.1 L1471.6 953.0 L1462.2 946.4 L1452.8 945.4 L1443.3 936.0 L1433.9 930.3 Z" fill="#e6e5df"/>
<path d="M1436.7 903.0 L1450.0 897.0 L1470.0 893.5 L1490.0 892.6 L1500.0 894.0 L1494.0 900.0 L1480.0 905.0 L1465.0 909.0 L1450.0 912.4 L1440.0 910.0 Z" fill="#e6e5df"/>
<path d="M1410.0 903.5 L1420.0 900.5 L1432.0 902.0 L1430.0 906.0 L1418.0 907.0 Z" fill="#e6e5df"/>
<path d="M1427.5 946.5 L1434.0 944.5 L1441.0 946.0 L1438.0 949.8 L1430.0 949.8 Z" fill="#e6e5df"/>
<path d="M1352.0 914.0 L1360.0 911.0 L1366.0 914.0 L1360.0 917.0 Z" fill="#e6e5df"/>
<path d="M1412.0 913.0 L1420.0 911.0 L1426.0 914.0 L1419.0 917.0 Z" fill="#e6e5df"/>
<path d="M1390.0 940.0 L1398.0 938.0 L1404.0 941.0 L1396.0 944.0 Z" fill="#e6e5df"/>
<path d="M1408.0 944.0 L1416.0 941.5 L1422.0 945.0 L1414.0 948.0 Z" fill="#e6e5df"/>
<path d="M1500.0 902.0 L1508.0 899.0 L1512.0 903.0 L1505.0 906.0 Z" fill="#e6e5df"/>
<path d="M1405.0 914.0 L1412.0 912.0 L1418.0 916.0 L1410.0 919.0 Z" fill="#e6e5df"/>
<path d="M1430.0 913.0 L1440.0 914.0 L1444.0 918.0 L1434.0 920.0 Z" fill="#e6e5df"/>
<path d="M1378.0 916.0 L1390.0 917.5 L1392.0 922.0 L1380.0 922.0 Z" fill="#e6e5df"/>
<path d="M1340.0 930.0 L1350.0 928.0 L1352.0 932.0 L1343.0 934.0 Z" fill="#e6e5df"/>
<path d="M1468.0 958.0 L1474.0 956.0 L1478.0 959.0 L1471.0 961.0 Z" fill="#e6e5df"/>
<path d="M1362 920 L1370 928 L1375 935" fill="none" stroke="#77abd6" stroke-width="1.6" stroke-linecap="round"/>
<path d="M1385 918 L1388 927" fill="none" stroke="#77abd6" stroke-width="1.6" stroke-linecap="round"/>
<path d="M1445 925 L1455 935 L1462 944" fill="none" stroke="#77abd6" stroke-width="1.6" stroke-linecap="round"/>
<path d="M1470 930 L1478 940" fill="none" stroke="#77abd6" stroke-width="1.6" stroke-linecap="round"/>
<path d="M1455 897 L1462 906" fill="none" stroke="#77abd6" stroke-width="1.6" stroke-linecap="round"/>
<path d="M1480 893 L1486 903" fill="none" stroke="#77abd6" stroke-width="1.6" stroke-linecap="round"/>
<path d="M1418 938 L1430 943" fill="none" stroke="#77abd6" stroke-width="1.6" stroke-linecap="round"/>
</g><g filter="url(#mblur1)">
<path d="M1483.8 997.0 L1489.8 991.0 L1495.0 988.0 L1497.3 992.5 L1501.0 998.5 L1498.0 1000.5 L1491.3 998.5 Z" fill="#cdd8ac"/>
<path d="M1486.3 907.0 L1495.0 902.0 L1501.6 900.2 L1518.6 895.1 L1544.1 891.7 L1569.6 890.9 L1595.1 892.6 L1612.1 895.1 L1620.6 897.7 L1605.3 901.9 L1598.5 910.4 L1590.0 920.6 L1583.2 929.1 L1569.6 937.6 L1552.6 944.4 L1540.7 951.2 L1530.5 958.0 L1525.0 958.5 L1520.3 954.6 L1515.2 944.4 L1513.5 934.2 L1510.0 924.0 L1503.3 915.5 L1493.0 911.3 Z" fill="#eef0f4"/>
<path d="M1587.0 945.0 L1592.0 942.0 L1600.0 941.5 L1608.0 942.5 L1611.0 945.5 L1606.0 949.5 L1596.0 950.5 L1589.0 948.5 Z" fill="#e6e7e2"/>
<path d="M1636.0 967.0 L1640.0 963.5 L1645.6 963.0 L1645.6 990.5 L1640.0 991.0 L1634.0 987.0 L1637.0 981.0 L1635.0 974.0 Z" fill="#ccd8a4"/>
<path d="M1619.0 978.5 L1624.0 974.5 L1630.0 975.5 L1630.5 982.0 L1626.0 985.5 L1620.0 985.0 Z" fill="#c8d6a0"/>
<path d="M1638.0 996.0 L1645.6 993.0 L1645.6 1005.0 L1640.0 1004.0 Z" fill="#d5dca6"/>
<path d="M1620.6 1012.4 L1630.0 1009.3 L1638.0 1008.0 L1645.6 1006.0 L1645.6 1030.0 L1633.0 1031.5 L1624.0 1028.3 L1619.0 1023.6 L1620.0 1017.2 Z" fill="#e3e0b6"/>
<path d="M1645.6 1035.5 L1638.0 1037.0 L1630.0 1041.0 L1620.6 1047.4 L1611.0 1061.7 L1601.5 1071.2 L1596.7 1080.7 L1595.2 1095.0 L1601.5 1106.2 L1612.6 1117.3 L1622.2 1125.2 L1634.0 1126.5 L1645.6 1126.0 Z" fill="#f0e2cf"/>
<path d="M1408.0 1139.5 L1411.0 1131.0 L1416.0 1121.0 L1423.6 1109.3 L1434.7 1103.0 L1449.0 1107.8 L1464.9 1111.0 L1476.0 1115.0 L1484.0 1120.5 L1495.0 1131.6 L1498.2 1139.5 Z" fill="#c4d3a0"/>
<path d="M1399.0 1073.3 L1407.5 1071.9 L1416.0 1074.7 L1427.3 1080.4 L1420.2 1081.8 L1411.7 1079.0 L1401.8 1076.1 Z" fill="#d8ddae"/>
<path d="M1427.5 1081.5 L1434.0 1080.5 L1441.0 1082.0 L1440.0 1084.6 L1430.0 1084.0 Z" fill="#d8ddae"/>
</g>
<g filter="url(#mblur)">
<path d="M1520 905 L1590 897 L1588 912 L1560 935 L1535 948 L1525 935 Z" fill="#f8f9fb"/>
<path d="M1600 1095 L1640 1090 L1645 1126 L1615 1120 Z" fill="#e4e3b8"/>
</g>
</g>
<path d="M1111.00 1139.50 L1111.11 1131.97 L1111.43 1124.45 L1111.97 1116.94 L1112.72 1109.45 L1113.68 1101.98 L1114.85 1094.54 L1116.24 1087.14 L1117.84 1079.77 L1119.65 1072.46 L1121.66 1065.20 L1123.88 1058.00 L1126.31 1050.86 L1128.94 1043.80 L1131.76 1036.81 L1134.79 1029.90 L1138.01 1023.08 L1141.43 1016.35 L1145.03 1009.72 L1148.82 1003.20 L1152.80 996.78 L1156.96 990.47 L1161.30 984.29 L1165.81 978.23 L1170.49 972.29 L1175.34 966.49 L1180.35 960.83 L1185.53 955.31 L1190.85 949.94 L1196.33 944.72 L1201.96 939.65 L1207.73 934.74 L1213.63 930.00 L1219.67 925.42 L1225.84 921.01 L1232.12 916.78 L1238.53 912.72 L1245.05 908.84 L1251.68 905.15 L1258.41 901.65 L1265.24 898.33 L1272.16 895.21 L1279.17 892.28 L1286.25 889.55 L1293.42 887.01 L1300.65 884.68 L1307.94 882.55 L1315.30 880.63 L1322.70 878.91 L1378.4 872.9 L1645.6 872.9 L1645.6 1139.5 Z" fill="none" stroke="#000" stroke-width="1.8"/>
<path d="M1455.6 935 L1459.5 944 L1461.6 951 L1463.1 956.8" fill="none" stroke="url(#trk)" stroke-width="3.4" stroke-linecap="round"/>
<rect x="1698" y="872.9" width="13" height="267.10" fill="url(#altcm)" stroke="#000" stroke-width="1.7"/>
<line x1="1711.00" y1="872.90" x2="1717.90" y2="872.90" stroke="#000" stroke-width="1.7"/>
<text x="1598.40 1608.22 1618.04" y="879.00" font-size="17.66" transform="scale(1.0796 1)">780</text>
<line x1="1711.00" y1="911.06" x2="1717.90" y2="911.06" stroke="#000" stroke-width="1.7"/>
<text x="1598.40 1608.22 1618.04" y="917.16" font-size="17.66" transform="scale(1.0796 1)">770</text>
<line x1="1711.00" y1="949.21" x2="1717.90" y2="949.21" stroke="#000" stroke-width="1.7"/>
<text x="1598.40 1608.22 1618.04" y="955.31" font-size="17.66" transform="scale(1.0796 1)">760</text>
<line x1="1711.00" y1="987.37" x2="1717.90" y2="987.37" stroke="#000" stroke-width="1.7"/>
<text x="1598.40 1608.22 1618.04" y="993.47" font-size="17.66" transform="scale(1.0796 1)">750</text>
<line x1="1711.00" y1="1025.53" x2="1717.90" y2="1025.53" stroke="#000" stroke-width="1.7"/>
<text x="1598.40 1608.22 1618.04" y="1031.63" font-size="17.66" transform="scale(1.0796 1)">740</text>
<line x1="1711.00" y1="1063.69" x2="1717.90" y2="1063.69" stroke="#000" stroke-width="1.7"/>
<text x="1598.40 1608.22 1618.04" y="1069.79" font-size="17.66" transform="scale(1.0796 1)">730</text>
<line x1="1711.00" y1="1101.84" x2="1717.90" y2="1101.84" stroke="#000" stroke-width="1.7"/>
<text x="1598.40 1608.22 1618.04" y="1107.94" font-size="17.66" transform="scale(1.0796 1)">720</text>
<line x1="1711.00" y1="1140.00" x2="1717.90" y2="1140.00" stroke="#000" stroke-width="1.7"/>
<text x="1598.40 1608.22 1618.04" y="1146.10" font-size="17.66" transform="scale(1.0796 1)">710</text>
<g transform="translate(1781.00 0) rotate(-90)"><text x="-974.52 -960.52 -954.81 -947.87 -942.15 -935.54 -923.56 -911.75 -899.87 -893.79 -886.48 -875.48 -857.08" y="0.00" font-size="22.07" transform="scale(1.1030 1)">Altitude (km)</text></g>
<text x="1390.97 1403.54 1416.22 1422.76 1435.32 1448.00 1454.54 1467.10 1479.60 1485.06 1499.55" y="930.00" font-size="22.07" transform="scale(1.0550 1)">02:55:39 UT</text>
<text x="1398.37 1410.93 1423.61 1430.15 1442.71 1455.40 1461.93 1474.50 1486.99 1492.45 1506.94" y="972.00" font-size="22.07" transform="scale(1.0550 1)">02:57:43 UT</text></svg></body></html>
